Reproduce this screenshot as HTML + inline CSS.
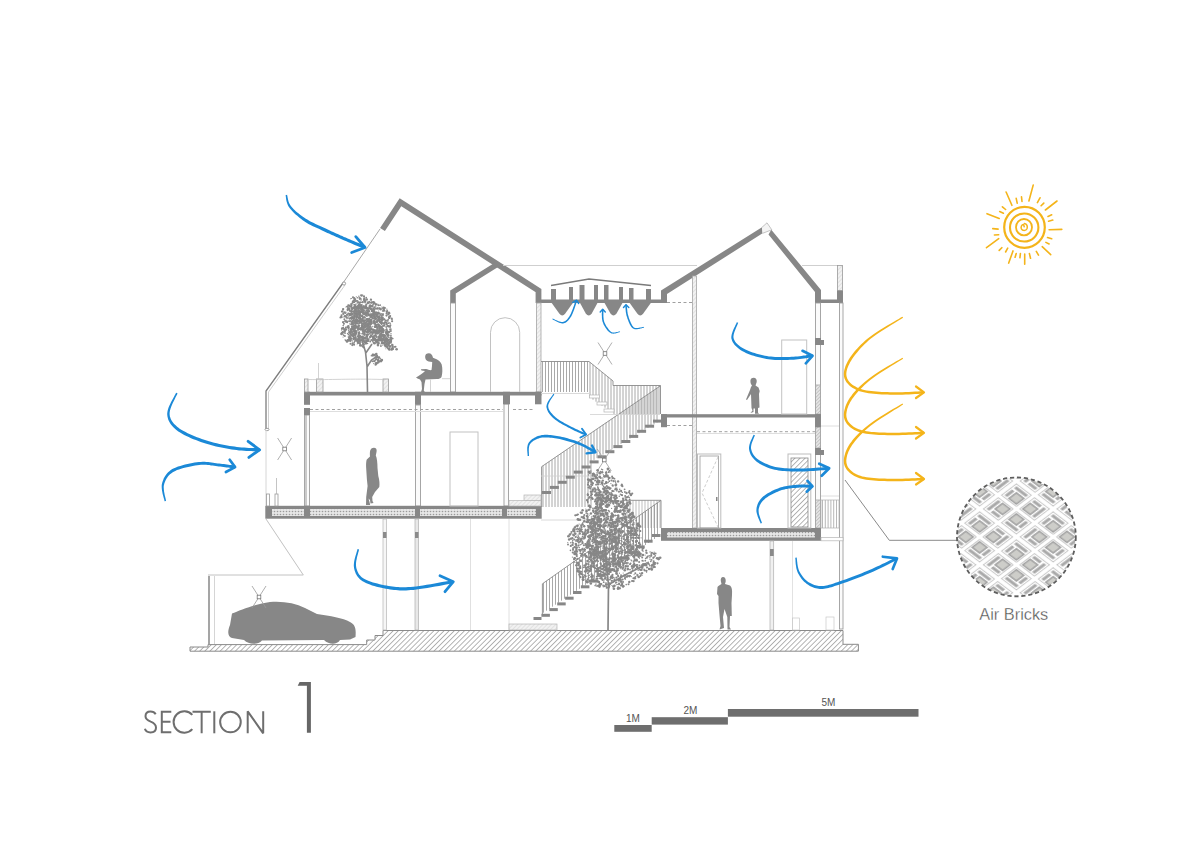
<!DOCTYPE html>
<html><head><meta charset="utf-8">
<style>
html,body{margin:0;padding:0;background:#fff;width:1200px;height:848px;overflow:hidden}
svg{display:block}
</style></head>
<body>
<svg width="1200" height="848" viewBox="0 0 1200 848">
<defs>
<pattern id="hatch" width="3.6" height="3.6" patternUnits="userSpaceOnUse" patternTransform="rotate(45)">
<rect width="3.6" height="3.6" fill="#fff"/><line x1="0" y1="0" x2="0" y2="3.6" stroke="#7e7e7e" stroke-width="1.15"/>
</pattern>
<pattern id="dots" width="3" height="3" patternUnits="userSpaceOnUse">
<rect width="3" height="3" fill="#e6e6e6"/><circle cx="1.5" cy="1.5" r="0.8" fill="#9a9a9a"/>
</pattern>
<pattern id="lhatch" width="3" height="3" patternUnits="userSpaceOnUse" patternTransform="rotate(45)">
<rect width="3" height="3" fill="#f2f2f2"/><line x1="0" y1="0" x2="0" y2="3" stroke="#c8c8c8" stroke-width="0.8"/>
</pattern>
<pattern id="mhatch" width="2.5" height="2.5" patternUnits="userSpaceOnUse" patternTransform="rotate(45)"><rect width="2.5" height="2.5" fill="#e4e4e4"/><line x1="0" y1="0" x2="0" y2="2.5" stroke="#9a9a9a" stroke-width="0.8"/></pattern>
</defs>

<!-- ROOFS -->
<g fill="none" stroke="#878787" stroke-linejoin="miter" stroke-miterlimit="10">
<polyline points="382.5,229.5 400.5,202.2 538.5,290.5 538.5,303" stroke-width="5.8"/>
<polyline points="453,303 453,292 497,264.5" stroke-width="5.6"/>
</g>
<g fill="#878787">
<rect x="538" y="299.5" width="129" height="3.5"/>
<polygon points="661,290.5 762,227.3 762.6,233.3 667,294 667,303 661,303"/>
<polygon points="771.3,229.7 821,290 821,303 815,303 815,291.9 768.5,234.6"/>
<rect x="815" y="299.5" width="28" height="3.5"/>
<rect x="837" y="290" width="6" height="13"/>
</g>
<rect x="837.5" y="265.5" width="5" height="25" fill="url(#lhatch)" stroke="#999" stroke-width="0.8"/>

<polyline points="762,227.3 767,222.8 771.8,229.8 762.6,233.3" fill="#f4f4f4" stroke="#aaa" stroke-width="0.7"/>
<!-- light reference lines -->
<g stroke="#cfcfcf" stroke-width="1" fill="none">
<line x1="503" y1="265.5" x2="697" y2="265.5"/>
<line x1="802" y1="265.5" x2="837" y2="265.5"/>
</g>


<!-- SKYLIGHT FUNNELS -->
<g fill="#878787">
<path d="M551,302 L559.25,313.5 Q562.25,317.5 565.25,313.5 L573.5,302 Z"/>
<path d="M579.5,302 L585.75,313.5 Q588.75,317.5 591.75,313.5 L598,302 Z"/>
<path d="M604,302 L610.5,313.5 Q613.5,317.5 616.5,313.5 L623,302 Z"/>
<path d="M629,302 L637.25,313.5 Q640.25,317.5 643.25,313.5 L651.5,302 Z"/>
<rect x="551" y="289" width="5" height="13"/>
<rect x="569" y="287" width="4" height="15"/>
<rect x="579.5" y="285" width="5" height="17"/>
<rect x="594" y="285" width="4" height="17"/>
<rect x="604" y="285" width="4.5" height="17"/>
<rect x="619" y="287" width="4" height="15"/>
<rect x="629" y="288" width="4.5" height="14"/>
<rect x="646" y="289" width="5" height="13"/>
</g>
<polyline points="551,285.5 589,279 651,285.5" fill="none" stroke="#7a7a7a" stroke-width="1.3"/>

<!-- WALLS (light double lines) -->
<g fill="#fbfbfb" stroke="#9d9d9d" stroke-width="0.9">
<rect x="450.5" y="303" width="5" height="89"/>
<rect x="304.5" y="415" width="5" height="91"/>
<rect x="415.5" y="405" width="5" height="101"/>
<rect x="504" y="404" width="4.5" height="102"/>
<rect x="815.5" y="303" width="5" height="111"/>
<rect x="815.5" y="427" width="5" height="101"/>
<rect x="839.5" y="303" width="3.5" height="326"/>
</g>
<g fill="url(#lhatch)" stroke="#a5a5a5" stroke-width="0.8">
<rect x="536.5" y="303" width="4.5" height="89"/>
<rect x="692.5" y="276" width="4" height="252"/>
<rect x="815.5" y="385" width="5" height="29" fill="url(#mhatch)"/>
<rect x="815.5" y="427" width="5" height="21" fill="url(#mhatch)"/>
<rect x="815.5" y="500" width="5" height="28" fill="url(#mhatch)"/>
</g>

<!-- SLABS -->
<g fill="#878787">
<rect x="304" y="391.8" width="237.5" height="3.7"/>
<rect x="304" y="391.8" width="6" height="13"/>
<rect x="304" y="408" width="6" height="7"/>
<rect x="415" y="391.8" width="6" height="13"/>
<rect x="503" y="391.8" width="7" height="12.5"/>
<rect x="535" y="391.8" width="6.5" height="12.5"/>
<rect x="265.3" y="505.8" width="276.4" height="12.9"/>
<rect x="661" y="414.2" width="160" height="3.3"/>
<rect x="661" y="414.2" width="6" height="13"/>
<rect x="815" y="414.2" width="6" height="13"/>
<rect x="661" y="528" width="160" height="12.8"/>
<rect x="815" y="338" width="6" height="7"/>
<rect x="821" y="340" width="3" height="5"/>
<rect x="815" y="448" width="6" height="7"/>
<rect x="821" y="450" width="3" height="5"/>
</g>
<g fill="url(#dots)">
<rect x="272" y="509" width="32" height="7"/>
<rect x="310" y="509" width="105" height="7"/>
<rect x="420" y="509" width="82" height="7"/>
<rect x="507" y="509" width="29" height="7"/>
<rect x="667" y="532" width="148" height="5.5"/>
</g>
<g stroke="#a0a0a0" stroke-width="1" stroke-dasharray="3,2.5" fill="none">
<line x1="310" y1="409.5" x2="503" y2="409.5"/>
<line x1="513" y1="409.5" x2="535" y2="409.5"/>
<line x1="667" y1="302.5" x2="692" y2="302.5"/>
<line x1="667" y1="425.5" x2="692" y2="425.5"/>
<line x1="697" y1="431.7" x2="815" y2="431.7"/>
</g>
<g stroke="#dedede" stroke-width="1" fill="none">
<line x1="310" y1="411.5" x2="503" y2="411.5"/>
<line x1="697" y1="433.5" x2="815" y2="433.5"/>
</g>

<!-- GROUND -->
<path d="M383,630.5 L843,630.5 L843,644.3 L858.4,644.3 L858.4,651.2 L190,651.2 L190,647 L208,647 L208,644.6 L366.7,644.6 L366.7,640 L375,640 L375,635.5 L383,635.5 Z" fill="url(#hatch)" stroke="#8a8a8a" stroke-width="1"/>



<!-- GLASS / ENVELOPE LINES -->
<g fill="none">
<line x1="380" y1="229" x2="343" y2="283" stroke="#a8a8a8" stroke-width="1"/>
<polyline points="343,283 266,391 266,429" stroke="#7d7d7d" stroke-width="1.3"/>
<polyline points="345,285 268.5,392 268.5,429" stroke="#c4c4c4" stroke-width="0.8"/>
<circle cx="344" cy="283.5" r="1.6" stroke="#888" stroke-width="0.8" fill="#fff"/>
<ellipse cx="267" cy="429.5" rx="2" ry="1.2" stroke="#888" stroke-width="0.8" fill="#fff"/>
<line x1="266" y1="430" x2="266" y2="506" stroke="#d6d6d6" stroke-width="1"/>
<polyline points="266,519 303.3,575 208,575" stroke="#c2c2c2" stroke-width="1"/>
<line x1="209" y1="576" x2="209" y2="644" stroke="#8f8f8f" stroke-width="1.6"/>
<line x1="214.5" y1="576" x2="214.5" y2="644" stroke="#d5d5d5" stroke-width="1"/>
<!-- columns under first floor -->
<rect x="383" y="519" width="3.5" height="111" fill="#f6f6f6" stroke="#b5b5b5" stroke-width="0.7"/>
<rect x="415" y="519" width="3.5" height="111" fill="#e8e8e8" stroke="#b0b0b0" stroke-width="0.7"/>
<rect x="383" y="532" width="3.5" height="6" fill="#8a8a8a"/>
<rect x="415" y="532" width="3.5" height="6" fill="#8a8a8a"/>
<line x1="470.5" y1="519" x2="470.5" y2="630" stroke="#d8d8d8" stroke-width="0.8"/>
<line x1="509" y1="519" x2="509" y2="630" stroke="#d8d8d8" stroke-width="0.8"/>
<!-- column under right slab -->
<rect x="770" y="541" width="3.7" height="89" fill="#f0f0f0" stroke="#b0b0b0" stroke-width="0.7"/>
<rect x="770" y="549" width="3.7" height="7" fill="#8a8a8a"/>
<line x1="792.5" y1="541" x2="792.5" y2="630" stroke="#dadada" stroke-width="0.8"/>
<rect x="821" y="537.5" width="22" height="3.3" fill="#fff" stroke="#b5b5b5" stroke-width="0.7"/>

<rect x="792.5" y="618" width="7" height="12" fill="none" stroke="#c8c8c8" stroke-width="0.7"/>
<rect x="826" y="617" width="8" height="13" fill="none" stroke="#c8c8c8" stroke-width="0.7"/>
<!-- diagonal leader from right wall -->
<polyline points="845,480 889.3,540.3 957,540.3" stroke="#8a8a8a" stroke-width="1"/>
<!-- thin light lines right -->
<line x1="821" y1="426" x2="839" y2="426" stroke="#d5d5d5" stroke-width="0.8"/>
<line x1="821" y1="496" x2="839" y2="496" stroke="#d5d5d5" stroke-width="0.8"/>
<line x1="306" y1="415" x2="306" y2="506" stroke="#9a9a9a" stroke-width="1"/>
</g>

<path d="M822.5,500V528M825.3,500V528M828.1,500V528M830.9,500V528M833.7,500V528M836.5,500V528" stroke="#9a9a9a" stroke-width="0.7" fill="none"/>
<rect x="821" y="500" width="18" height="28" fill="none" stroke="#b0b0b0" stroke-width="0.7"/>
<g fill="#fff" stroke="#9a9a9a" stroke-width="0.8"><rect x="266.5" y="494" width="3" height="12"/><rect x="275" y="494" width="3" height="12"/></g><line x1="276.5" y1="478" x2="276.5" y2="494" stroke="#aaa" stroke-width="0.7"/>
<!-- ARCH & DOORS -->
<g fill="none" stroke="#c2c2c2" stroke-width="1">
<path d="M490.5,392 L490.5,332.3 A14.6,14.6 0 0 1 519.7,332.3 L519.7,392"/>
<rect x="450" y="432" width="28" height="74"/>
<rect x="781.7" y="340" width="25" height="74"/>
</g>
<!-- door left (lower right room) -->
<g fill="none">
<rect x="697.5" y="454" width="23.3" height="74" stroke="#bdbdbd" stroke-width="1"/>
<rect x="700" y="456" width="18.5" height="72" stroke="#9a9a9a" stroke-width="0.8"/>
<polyline points="718,457 702,493 718,527" stroke="#b8b8b8" stroke-width="0.7" stroke-dasharray="3,2"/>
<rect x="716" y="497" width="1.5" height="4" fill="#888"/>
<rect x="788" y="454" width="22.8" height="74" stroke="#bdbdbd" stroke-width="1"/>
<rect x="791" y="458" width="17" height="69" fill="url(#hatch)" stroke="#8a8a8a" stroke-width="0.8"/>
</g>

<!-- STAIRS -->
<path d="M627.0,500.3V528M630.0,500.3V528M633.0,500.3V528M636.0,500.3V528M639.0,500.3V528M642.0,500.3V528M645.0,500.3V528M648.0,500.3V528M651.0,500.3V528M654.0,500.3V528M657.0,500.3V528M660.0,500.3V528" stroke="#a5a5a5" stroke-width="0.7" fill="none"/>
<path d="M542.5,361.5V392M545.5,361.5V392M548.5,361.5V392M551.5,361.5V392M554.5,361.5V392M557.5,361.5V392M560.5,361.5V392M563.5,361.5V392M566.5,361.5V392M569.5,361.5V392M572.5,361.5V392M575.5,361.5V392M578.5,361.5V392M581.5,361.5V392M584.5,361.5V392M587.5,361.5V392M590.0,362.3V397.7M593.0,364.8V399.7M596.0,367.2V401.7M599.0,369.6V403.7M602.0,372.1V405.7M605.0,374.5V407.7M608.0,376.9V409.7M611.0,379.4V411.7M614.0,385.5V414M617.0,385.5V414M620.0,385.5V414M623.0,385.5V414M626.0,385.5V414M629.0,385.5V414M632.0,385.5V414M635.0,385.5V414M638.0,385.5V414M641.0,385.5V414M644.0,385.5V414M647.0,385.5V414M650.0,385.5V414M653.0,385.5V414M656.0,385.5V414M659.0,385.5V414M543.0,465.7V507.0M546.0,463.7V507.0M549.0,461.7V507.0M552.0,459.6V507.0M555.0,457.6V507.0M558.0,455.5V507.0M561.0,453.5V507.0M564.0,451.4V507.0M567.0,449.4V507.0M570.0,447.4V507.0M573.0,445.3V507.0M576.0,443.3V507.0M579.0,441.2V507.0M582.0,439.2V507.0M585.0,437.1V507.0M588.0,435.1V507.0M591.0,433.1V507.0M594.0,431.0V459.9M597.0,429.0V458.1M600.0,426.9V456.4M603.0,424.9V454.6M606.0,422.8V452.8M609.0,420.8V451.0M612.0,418.8V449.3M615.0,416.7V447.5M618.0,414.7V445.7M621.0,412.6V443.9M624.0,410.6V442.1M627.0,408.5V440.4M630.0,406.5V438.6M633.0,404.5V436.8M636.0,402.4V435.0M639.0,400.4V433.2M642.0,398.3V431.5M645.0,396.3V429.7M648.0,394.2V427.9M651.0,392.2V426.1M654.0,390.2V424.3M657.0,388.1V422.6M543.5,583.0V612.7M546.5,580.9V610.7M549.5,578.8V608.7M552.5,576.7V606.7M555.5,574.6V604.7M558.5,572.5V602.7M561.5,570.4V600.7M564.5,568.2V598.7M567.5,566.1V596.7M570.5,564.0V594.7M573.5,561.9V592.8M576.5,559.8V590.8M579.5,557.7V588.8M582.5,555.6V586.8M585.5,553.5V584.8M588.5,551.3V582.8M591.5,549.2V580.8M594.5,547.1V578.8M597.5,545.0V576.8M600.5,542.9V574.8M603.5,540.8V572.8M606.5,538.7V570.8M609.5,536.6V568.9M612.5,534.4V566.9M615.5,532.3V564.9M618.5,530.2V562.9M621.5,528.1V560.9M624.5,526.0V558.9M627.5,523.9V556.9M630.5,521.8V554.9M633.5,519.7V552.9M636.5,517.5V550.9M639.5,515.4V548.9M642.5,513.3V546.9M645.5,511.2V545.0M648.5,509.1V543.0M651.5,507.0V541.0M654.5,504.9V539.0M657.5,502.8V537.0" stroke="#8c8c8c" stroke-width="0.75" fill="none"/>
<g stroke="#8a8a8a" stroke-width="0.9" fill="none"><polyline points="541,361.5 589,361.5 613,381 613,385.5 660.5,385.5"/><polyline points="660.4,385.8 541.6,466.7 541.6,507"/><polyline points="626,500.3 661,500.3 542.4,583.8 542.4,614"/><line x1="660.5" y1="385.5" x2="660.5" y2="414"/><line x1="661" y1="500.3" x2="661" y2="528"/></g>
<g stroke="#d0d0d0" stroke-width="0.8" fill="none"><line x1="541" y1="393.5" x2="589" y2="393.5"/><line x1="590" y1="414.5" x2="660" y2="414.5"/><line x1="541" y1="476" x2="590" y2="476"/><line x1="541" y1="520" x2="600" y2="520"/></g>
<g fill="#878787"><rect x="653.0" y="419.6" width="9" height="3" /><rect x="645.1" y="424.7" width="9" height="3" /><rect x="637.1" y="429.8" width="9" height="3" /><rect x="629.2" y="434.9" width="9" height="3" /><rect x="621.3" y="440.0" width="9" height="3" /><rect x="613.4" y="445.1" width="9" height="3" /><rect x="605.4" y="450.2" width="9" height="3" /><rect x="597.5" y="455.3" width="9" height="3" /><rect x="589.6" y="460.4" width="9" height="3" /><rect x="581.6" y="465.5" width="9" height="3" /><rect x="573.7" y="470.6" width="9" height="3" /><rect x="565.8" y="475.7" width="9" height="3" /><rect x="557.8" y="480.8" width="9" height="3" /><rect x="549.9" y="485.9" width="9" height="3" /><rect x="542.0" y="491.0" width="9" height="3" /><rect x="652.0" y="534.0" width="8.5" height="3" /><rect x="644.1" y="539.7" width="8.5" height="3" /><rect x="636.2" y="545.4" width="8.5" height="3" /><rect x="628.3" y="551.1" width="8.5" height="3" /><rect x="620.4" y="556.8" width="8.5" height="3" /><rect x="612.5" y="562.5" width="8.5" height="3" /><rect x="604.6" y="568.2" width="8.5" height="3" /><rect x="596.7" y="573.9" width="8.5" height="3" /><rect x="588.8" y="579.6" width="8.5" height="3" /><rect x="580.9" y="585.3" width="8.5" height="3" /><rect x="573.0" y="591.0" width="8.5" height="3" /><rect x="565.1" y="596.7" width="8.5" height="3" /><rect x="557.2" y="602.4" width="8.5" height="3" /><rect x="549.3" y="608.1" width="8.5" height="3" /><rect x="541.4" y="613.8" width="8.5" height="3" /><rect x="533.5" y="617" width="8" height="3"/></g>
<g fill="#fff" stroke="#b5b5b5" stroke-width="0.7"><rect x="589.5" y="395" width="10" height="3"/><rect x="597" y="402" width="10" height="3"/><rect x="604" y="409" width="10" height="3"/><rect x="509" y="500.5" width="32" height="5.5" fill="url(#lhatch)"/><rect x="524" y="495" width="17" height="5.5" fill="url(#lhatch)"/><rect x="509" y="624" width="48" height="6" fill="url(#lhatch)"/></g>

<!-- PEOPLE & CAR -->
<g fill="#878787">
<path d="M373.9,447.8 C376,447.8 377,449.5 376.6,451.6 L375.8,455.5 C377,458 377.5,463 377.5,468 L378.3,476 C379.5,480 379.8,484 379.3,487 L375,492 L372.2,497 L372.5,501 L373.5,503 L370.5,503.5 L370,500 L368.5,498.5 L369.5,502 L370.2,505 L366,505 L366.2,497 L367.6,486 L366.9,479.6 L366.1,467 C366,463 366.3,460.5 366.8,459.5 L370,456.5 C369.8,454.5 369.8,452 370.2,450.5 C371,448.5 372.3,447.8 373.9,447.8 Z"/>
<path d="M723,577 C725,577 726,579 725.7,581.5 L725,584 L730,585.5 C732,587 732.3,590 732,595 L731.5,603 L731.8,616 L730,616 L729.5,627 L731,629.5 L727.5,629.5 L727.3,617 L724.5,609 L723,617 L724,628 L719.5,629.5 L720.5,626 L719.5,615 L718.5,603 L718.5,596 L717,594 L717.5,587 C718,586 720,585 721.5,584 L720.8,581 C720.5,578.5 721.5,577 723,577 Z"/>
<path d="M753.5,377.7 C756,377.7 757,379.5 756.7,382 L755.5,385.5 L758.5,387.5 L759.7,391 L759,394 L759.5,407.5 L758,408 L758,412.5 L759,413.8 L755,413.8 L755,408.5 L753.5,408.5 L753.5,412 L750.5,413 L752.5,410.5 L751.5,408 L751,394 L747,400 L746,399.5 L750,390 L751,387 L752,385.5 C750.5,384 750.3,382 750.5,380 C751,378.5 752,377.7 753.5,377.7 Z"/>
<path d="M428.8,353.3 C431.2,353.3 432.3,355 433,357.8 C436,358.8 440,360.5 441.7,364.5 C442.7,368.5 442.5,374 441.5,377 C440.5,378.5 439,379 437,379 L425.5,379.5 L424.5,384 L423.8,390.5 L424.8,392 L421,392 L422,389 L421.5,382 L420,379.5 L417.5,378.5 L416,377.5 L418.5,376 C421,374.5 423.5,372.5 425,371 L421.5,370.5 L420.8,369.3 L426,369 C428,369.5 430,370.5 431.5,370 L432,366 L432.2,362 C430,361.8 427,361.5 425.8,359.5 C424.8,357.5 425,355 426.2,354 C427,353.5 427.8,353.3 428.8,353.3 Z"/>
<path d="M230,625 L232,613.5 C240,610 255,604 270,602 C283,601 295,603 305,608 L317,614 C330,616 343,618 350,622 C356,625 356,630 355.5,637 L350,639.5 L340,640 C337,645 329,645 324,640 L262,640.5 C258,645 249,645 244,640 L232,638 C228,637 227,632 230,625 Z"/>
</g>
<!-- FANS -->
<g stroke="#9a9a9a" stroke-width="0.8" fill="none">
<g transform="translate(284.6,449)"><line x1="-7" y1="-11" x2="7" y2="11"/><line x1="7" y1="-11" x2="-7" y2="11"/><rect x="-1.8" y="-1.8" width="3.6" height="3.6" fill="#fff" stroke="#777"/></g>
<g transform="translate(605,353.5)"><line x1="-7" y1="-11" x2="7" y2="11"/><line x1="7" y1="-11" x2="-7" y2="11"/><rect x="-1.8" y="-1.8" width="3.6" height="3.6" fill="#fff" stroke="#777"/></g>
<g transform="translate(604.3,460)"><line x1="-7" y1="-11" x2="7" y2="11"/><line x1="7" y1="-11" x2="-7" y2="11"/><rect x="-1.8" y="-1.8" width="3.6" height="3.6" fill="#fff" stroke="#777"/></g>
<g transform="translate(259,597)"><line x1="-7" y1="-11" x2="7" y2="11"/><line x1="7" y1="-11" x2="-7" y2="11"/><rect x="-1.8" y="-1.8" width="3.6" height="3.6" fill="#fff" stroke="#777"/></g>
</g>
<!-- roof terrace planters -->
<g fill="url(#lhatch)" stroke="#9a9a9a" stroke-width="0.8">
<rect x="304.5" y="379" width="3.5" height="13"/>
<rect x="316.5" y="379" width="6.5" height="13"/>
<rect x="383" y="379" width="5.5" height="13"/>
</g>
<g stroke="#c8c8c8" stroke-width="0.8" fill="none">
<path d="M308,379.5 C330,380 350,378.5 383,379.5"/>
<line x1="318.5" y1="363" x2="318.5" y2="379"/>
<polyline points="442,378.7 450,378.7"/><line x1="430.5" y1="379.5" x2="430.5" y2="392"/>
</g>

<!-- TREES -->
<path d="M367.5,392 L367,366 L365.5,352 L362,340 M367,367 L371.5,360 L377.5,356 M365.8,353 L372,344 M364,348 L354,338" stroke="#878787" stroke-width="1.6" fill="none"/>
<g fill="#878787"><circle cx="359.2" cy="302.5" r="1.1"/><circle cx="343.9" cy="324.0" r="0.8"/><circle cx="343.0" cy="322.4" r="0.5"/><circle cx="365.9" cy="298.0" r="0.6"/><circle cx="365.4" cy="340.2" r="0.6"/><circle cx="353.1" cy="329.1" r="1.3"/><circle cx="374.6" cy="316.2" r="1.3"/><circle cx="357.1" cy="302.1" r="0.6"/><circle cx="358.3" cy="339.6" r="0.7"/><circle cx="374.9" cy="329.8" r="0.8"/><circle cx="380.9" cy="318.0" r="0.8"/><circle cx="375.2" cy="319.4" r="0.8"/><circle cx="387.9" cy="333.1" r="0.7"/><circle cx="374.5" cy="323.4" r="1.2"/><circle cx="383.9" cy="310.2" r="1.3"/><circle cx="346.7" cy="317.4" r="1.1"/><circle cx="348.8" cy="321.4" r="0.5"/><circle cx="380.2" cy="336.8" r="1.0"/><circle cx="381.8" cy="327.3" r="1.0"/><circle cx="367.3" cy="341.0" r="1.3"/><circle cx="368.4" cy="331.2" r="0.6"/><circle cx="382.2" cy="330.2" r="1.3"/><circle cx="363.0" cy="331.4" r="0.5"/><circle cx="367.6" cy="303.5" r="0.6"/><circle cx="343.1" cy="337.0" r="0.6"/><circle cx="354.6" cy="315.9" r="1.2"/><circle cx="344.4" cy="319.2" r="1.0"/><circle cx="364.8" cy="314.1" r="1.3"/><circle cx="350.2" cy="307.0" r="0.7"/><circle cx="369.0" cy="327.0" r="0.7"/><circle cx="362.0" cy="325.7" r="1.3"/><circle cx="381.6" cy="322.9" r="1.0"/><circle cx="392.8" cy="338.6" r="0.8"/><circle cx="363.8" cy="299.9" r="1.0"/><circle cx="352.2" cy="303.2" r="0.8"/><circle cx="361.6" cy="295.5" r="1.2"/><circle cx="354.9" cy="313.5" r="0.8"/><circle cx="347.0" cy="341.5" r="1.3"/><circle cx="367.9" cy="321.1" r="0.6"/><circle cx="345.7" cy="313.2" r="0.7"/><circle cx="371.7" cy="302.3" r="1.0"/><circle cx="381.9" cy="308.7" r="0.8"/><circle cx="349.7" cy="337.2" r="1.0"/><circle cx="386.9" cy="312.5" r="0.7"/><circle cx="388.9" cy="349.1" r="1.2"/><circle cx="388.6" cy="339.8" r="1.1"/><circle cx="353.3" cy="323.0" r="0.8"/><circle cx="356.5" cy="308.6" r="1.1"/><circle cx="396.6" cy="349.2" r="1.3"/><circle cx="361.7" cy="306.4" r="0.7"/><circle cx="351.5" cy="305.5" r="1.0"/><circle cx="368.7" cy="330.5" r="1.2"/><circle cx="344.7" cy="331.0" r="1.3"/><circle cx="387.1" cy="336.0" r="0.9"/><circle cx="350.4" cy="338.1" r="0.8"/><circle cx="388.3" cy="348.3" r="0.8"/><circle cx="348.4" cy="340.2" r="1.3"/><circle cx="379.5" cy="313.7" r="1.0"/><circle cx="365.9" cy="342.7" r="1.2"/><circle cx="352.4" cy="308.2" r="0.7"/><circle cx="354.1" cy="326.8" r="0.7"/><circle cx="365.0" cy="301.4" r="1.3"/><circle cx="361.0" cy="319.7" r="1.0"/><circle cx="371.9" cy="323.3" r="0.5"/><circle cx="366.3" cy="304.3" r="0.5"/><circle cx="368.3" cy="334.6" r="1.0"/><circle cx="359.4" cy="323.0" r="1.0"/><circle cx="373.6" cy="308.0" r="0.7"/><circle cx="386.5" cy="322.4" r="1.0"/><circle cx="385.8" cy="345.0" r="0.9"/><circle cx="376.8" cy="322.3" r="0.9"/><circle cx="381.7" cy="319.3" r="1.0"/><circle cx="382.1" cy="343.0" r="1.3"/><circle cx="355.3" cy="325.3" r="1.3"/><circle cx="346.9" cy="318.8" r="0.6"/><circle cx="354.2" cy="298.2" r="1.1"/><circle cx="387.2" cy="344.2" r="0.6"/><circle cx="383.1" cy="330.9" r="0.6"/><circle cx="393.3" cy="348.1" r="0.7"/><circle cx="365.8" cy="322.9" r="0.8"/><circle cx="351.4" cy="311.9" r="1.1"/><circle cx="359.7" cy="328.9" r="0.9"/><circle cx="387.5" cy="348.3" r="0.6"/><circle cx="386.9" cy="309.2" r="0.6"/><circle cx="374.2" cy="333.2" r="0.6"/><circle cx="343.0" cy="332.5" r="0.9"/><circle cx="378.1" cy="338.8" r="0.6"/><circle cx="392.0" cy="319.4" r="0.8"/><circle cx="355.8" cy="301.3" r="0.9"/><circle cx="354.0" cy="300.2" r="0.6"/><circle cx="358.5" cy="311.1" r="1.1"/><circle cx="357.2" cy="322.0" r="0.7"/><circle cx="360.6" cy="295.1" r="0.7"/><circle cx="373.1" cy="304.7" r="0.9"/><circle cx="389.4" cy="318.2" r="0.9"/><circle cx="390.3" cy="316.0" r="0.9"/><circle cx="360.4" cy="340.5" r="1.1"/><circle cx="378.2" cy="316.7" r="0.8"/><circle cx="343.8" cy="335.4" r="0.7"/><circle cx="390.7" cy="342.7" r="1.1"/><circle cx="356.7" cy="307.6" r="0.7"/><circle cx="367.5" cy="302.9" r="0.9"/><circle cx="358.4" cy="314.0" r="0.5"/><circle cx="362.7" cy="320.6" r="0.9"/><circle cx="351.7" cy="322.3" r="0.5"/><circle cx="355.6" cy="299.1" r="0.8"/><circle cx="358.0" cy="307.1" r="1.0"/><circle cx="371.7" cy="336.0" r="1.1"/><circle cx="383.1" cy="343.2" r="0.8"/><circle cx="348.6" cy="334.5" r="1.0"/><circle cx="384.2" cy="339.4" r="0.6"/><circle cx="371.4" cy="322.2" r="1.2"/><circle cx="388.5" cy="340.2" r="1.0"/><circle cx="381.7" cy="306.9" r="0.5"/><circle cx="347.6" cy="314.2" r="0.6"/><circle cx="390.4" cy="325.3" r="1.0"/><circle cx="377.6" cy="332.1" r="0.9"/><circle cx="385.1" cy="322.2" r="1.0"/><circle cx="384.4" cy="308.2" r="0.6"/><circle cx="355.7" cy="334.8" r="0.7"/><circle cx="369.6" cy="315.4" r="0.9"/><circle cx="381.1" cy="336.9" r="1.0"/><circle cx="348.5" cy="308.3" r="1.1"/><circle cx="358.0" cy="325.8" r="0.5"/><circle cx="343.2" cy="309.1" r="1.1"/><circle cx="381.7" cy="331.8" r="0.7"/><circle cx="371.0" cy="320.0" r="0.9"/><circle cx="367.5" cy="339.9" r="1.3"/><circle cx="366.9" cy="309.1" r="0.7"/><circle cx="347.6" cy="339.9" r="0.9"/><circle cx="353.6" cy="344.2" r="0.9"/><circle cx="369.4" cy="319.3" r="0.8"/><circle cx="348.1" cy="313.3" r="0.8"/><circle cx="385.2" cy="340.9" r="0.6"/><circle cx="362.2" cy="316.0" r="1.3"/><circle cx="375.4" cy="314.2" r="0.9"/><circle cx="356.3" cy="296.8" r="0.6"/><circle cx="355.7" cy="322.6" r="0.7"/><circle cx="377.9" cy="345.1" r="1.3"/><circle cx="372.9" cy="334.3" r="0.5"/><circle cx="384.1" cy="319.3" r="1.1"/><circle cx="378.7" cy="310.1" r="0.5"/><circle cx="368.3" cy="313.3" r="0.8"/><circle cx="355.3" cy="330.7" r="0.8"/><circle cx="373.4" cy="316.1" r="0.6"/><circle cx="349.3" cy="305.7" r="1.3"/><circle cx="369.8" cy="306.4" r="1.3"/><circle cx="345.0" cy="313.2" r="0.6"/><circle cx="354.1" cy="308.5" r="1.0"/><circle cx="364.6" cy="317.2" r="0.9"/><circle cx="362.5" cy="313.0" r="0.6"/><circle cx="347.2" cy="322.2" r="1.0"/><circle cx="356.0" cy="308.0" r="0.8"/><circle cx="391.2" cy="342.8" r="0.5"/><circle cx="341.5" cy="333.7" r="1.3"/><circle cx="368.3" cy="326.9" r="0.5"/><circle cx="389.8" cy="341.8" r="1.3"/><circle cx="354.6" cy="300.2" r="0.6"/><circle cx="371.3" cy="332.2" r="1.3"/><circle cx="383.5" cy="330.2" r="1.2"/><circle cx="367.4" cy="324.9" r="0.5"/><circle cx="358.0" cy="301.2" r="0.7"/><circle cx="378.3" cy="333.1" r="0.6"/><circle cx="343.8" cy="323.4" r="1.0"/><circle cx="363.1" cy="306.6" r="1.0"/><circle cx="378.8" cy="343.4" r="0.9"/><circle cx="353.8" cy="307.9" r="1.3"/><circle cx="382.4" cy="311.3" r="0.5"/><circle cx="369.8" cy="331.7" r="0.9"/><circle cx="355.2" cy="331.3" r="1.3"/><circle cx="360.1" cy="317.6" r="1.1"/><circle cx="351.6" cy="338.6" r="1.1"/><circle cx="370.2" cy="305.6" r="1.3"/><circle cx="358.5" cy="339.9" r="0.7"/><circle cx="353.0" cy="336.5" r="0.8"/><circle cx="350.9" cy="306.6" r="0.9"/><circle cx="348.4" cy="316.1" r="0.7"/><circle cx="363.5" cy="344.2" r="1.3"/><circle cx="380.0" cy="315.2" r="0.8"/><circle cx="359.7" cy="303.5" r="0.5"/><circle cx="356.5" cy="313.7" r="1.3"/><circle cx="352.1" cy="314.0" r="1.2"/><circle cx="389.6" cy="318.2" r="0.5"/><circle cx="368.3" cy="314.9" r="1.3"/><circle cx="351.3" cy="314.4" r="1.3"/><circle cx="341.3" cy="317.0" r="1.2"/><circle cx="385.0" cy="344.2" r="0.8"/><circle cx="377.1" cy="308.7" r="1.1"/><circle cx="358.8" cy="309.5" r="0.5"/><circle cx="385.5" cy="345.2" r="1.0"/><circle cx="353.7" cy="320.6" r="1.3"/><circle cx="354.8" cy="318.1" r="0.9"/><circle cx="388.4" cy="335.3" r="1.2"/><circle cx="386.6" cy="328.0" r="0.8"/><circle cx="359.0" cy="314.3" r="1.2"/><circle cx="385.4" cy="307.9" r="0.6"/><circle cx="393.3" cy="349.2" r="0.7"/><circle cx="369.9" cy="333.7" r="0.9"/><circle cx="353.8" cy="317.4" r="1.0"/><circle cx="380.6" cy="335.8" r="1.2"/><circle cx="374.0" cy="314.9" r="1.1"/><circle cx="351.6" cy="307.9" r="0.7"/><circle cx="374.7" cy="312.3" r="0.8"/><circle cx="353.6" cy="339.2" r="1.1"/><circle cx="368.4" cy="339.8" r="1.2"/><circle cx="357.4" cy="300.8" r="0.7"/><circle cx="355.3" cy="337.5" r="1.3"/><circle cx="345.9" cy="327.4" r="1.0"/><circle cx="352.8" cy="314.7" r="0.6"/><circle cx="351.9" cy="308.3" r="1.0"/><circle cx="379.2" cy="305.5" r="0.5"/><circle cx="359.4" cy="332.0" r="0.7"/><circle cx="358.5" cy="305.5" r="1.2"/><circle cx="345.7" cy="316.2" r="1.0"/><circle cx="349.5" cy="332.9" r="0.8"/><circle cx="356.8" cy="311.3" r="1.3"/><circle cx="358.5" cy="325.7" r="0.8"/><circle cx="364.9" cy="342.3" r="1.3"/><circle cx="361.7" cy="305.1" r="1.1"/><circle cx="389.5" cy="316.8" r="1.3"/><circle cx="367.6" cy="303.2" r="0.5"/><circle cx="373.1" cy="329.8" r="1.3"/><circle cx="344.9" cy="328.8" r="0.8"/><circle cx="370.2" cy="302.2" r="0.7"/><circle cx="346.1" cy="321.5" r="1.2"/><circle cx="363.1" cy="344.6" r="1.0"/><circle cx="364.1" cy="341.3" r="1.2"/><circle cx="350.6" cy="306.3" r="0.8"/><circle cx="371.0" cy="315.5" r="0.6"/><circle cx="354.5" cy="334.5" r="1.3"/><circle cx="376.0" cy="324.8" r="1.0"/><circle cx="358.1" cy="317.5" r="1.0"/><circle cx="365.4" cy="330.9" r="0.9"/><circle cx="377.2" cy="321.4" r="0.7"/><circle cx="386.0" cy="337.6" r="0.9"/><circle cx="350.4" cy="320.5" r="0.6"/><circle cx="347.3" cy="318.1" r="0.6"/><circle cx="366.4" cy="322.6" r="0.5"/><circle cx="384.2" cy="337.5" r="0.9"/><circle cx="342.8" cy="322.2" r="0.8"/><circle cx="391.7" cy="349.7" r="1.1"/><circle cx="349.6" cy="338.1" r="1.3"/><circle cx="343.5" cy="313.7" r="1.1"/><circle cx="356.2" cy="339.6" r="0.6"/><circle cx="352.2" cy="308.8" r="0.9"/><circle cx="358.9" cy="296.2" r="0.7"/><circle cx="380.9" cy="344.1" r="0.6"/><circle cx="371.8" cy="329.6" r="0.8"/><circle cx="374.8" cy="343.3" r="0.6"/><circle cx="363.5" cy="338.6" r="0.7"/><circle cx="361.4" cy="336.8" r="0.9"/><circle cx="350.3" cy="335.6" r="0.5"/><circle cx="375.2" cy="331.1" r="0.8"/><circle cx="348.6" cy="328.5" r="0.9"/><circle cx="347.5" cy="306.8" r="1.1"/><circle cx="361.1" cy="300.0" r="0.8"/><circle cx="353.2" cy="326.7" r="1.0"/><circle cx="351.9" cy="328.9" r="0.9"/><circle cx="354.3" cy="302.4" r="0.6"/><circle cx="378.4" cy="342.7" r="1.2"/><circle cx="364.0" cy="308.8" r="0.5"/><circle cx="378.8" cy="325.5" r="0.8"/><circle cx="378.8" cy="318.9" r="1.3"/><circle cx="384.2" cy="308.0" r="1.3"/><circle cx="364.2" cy="307.4" r="0.5"/><circle cx="348.2" cy="305.2" r="1.0"/><circle cx="370.4" cy="329.9" r="1.2"/><circle cx="350.1" cy="311.4" r="0.8"/><circle cx="387.2" cy="334.0" r="0.5"/><circle cx="390.9" cy="335.7" r="0.9"/><circle cx="384.7" cy="319.3" r="0.7"/><circle cx="345.9" cy="307.1" r="0.5"/><circle cx="359.9" cy="335.9" r="1.1"/><circle cx="391.0" cy="333.8" r="0.7"/><circle cx="373.2" cy="318.4" r="1.2"/><circle cx="371.4" cy="308.9" r="1.0"/><circle cx="355.4" cy="307.3" r="1.1"/><circle cx="359.4" cy="343.2" r="0.8"/><circle cx="354.1" cy="344.7" r="1.0"/><circle cx="381.7" cy="331.2" r="1.3"/><circle cx="368.1" cy="341.0" r="1.1"/><circle cx="391.7" cy="318.5" r="1.1"/><circle cx="374.2" cy="311.3" r="0.7"/><circle cx="342.0" cy="332.7" r="1.0"/><circle cx="381.9" cy="335.2" r="0.6"/><circle cx="375.5" cy="314.4" r="1.2"/><circle cx="389.4" cy="343.8" r="0.6"/><circle cx="392.3" cy="345.1" r="1.3"/><circle cx="391.1" cy="339.4" r="1.0"/><circle cx="389.7" cy="329.3" r="0.7"/><circle cx="358.9" cy="317.7" r="0.5"/><circle cx="355.1" cy="309.9" r="1.1"/><circle cx="361.9" cy="312.0" r="1.3"/><circle cx="370.2" cy="341.6" r="1.0"/><circle cx="341.4" cy="317.1" r="0.9"/><circle cx="386.6" cy="313.5" r="1.1"/><circle cx="372.3" cy="306.2" r="1.2"/><circle cx="345.0" cy="339.8" r="0.6"/><circle cx="385.9" cy="348.7" r="0.5"/><circle cx="369.4" cy="321.5" r="1.2"/><circle cx="350.7" cy="321.7" r="0.8"/><circle cx="352.6" cy="333.1" r="0.9"/><circle cx="346.2" cy="329.6" r="0.6"/><circle cx="387.5" cy="333.0" r="1.2"/><circle cx="377.7" cy="313.9" r="0.8"/><circle cx="363.5" cy="343.8" r="0.6"/><circle cx="352.1" cy="308.8" r="1.3"/><circle cx="370.0" cy="315.3" r="1.3"/><circle cx="353.7" cy="319.8" r="1.0"/><circle cx="385.4" cy="336.1" r="1.0"/><circle cx="360.7" cy="312.3" r="0.6"/><circle cx="390.8" cy="331.0" r="1.1"/><circle cx="349.8" cy="318.6" r="1.2"/><circle cx="367.6" cy="343.5" r="0.7"/><circle cx="351.2" cy="310.9" r="1.1"/><circle cx="349.0" cy="307.9" r="0.8"/><circle cx="371.3" cy="303.1" r="0.8"/><circle cx="387.9" cy="335.0" r="0.9"/><circle cx="351.4" cy="329.7" r="0.6"/><circle cx="352.1" cy="315.8" r="0.5"/><circle cx="363.8" cy="338.2" r="1.1"/><circle cx="370.0" cy="329.4" r="0.9"/><circle cx="348.1" cy="327.8" r="0.8"/><circle cx="384.6" cy="344.8" r="0.9"/><circle cx="374.5" cy="335.9" r="0.9"/><circle cx="353.4" cy="334.4" r="1.2"/><circle cx="386.6" cy="333.2" r="1.2"/><circle cx="380.9" cy="329.9" r="0.9"/><circle cx="358.6" cy="329.2" r="0.6"/><circle cx="365.1" cy="337.8" r="1.1"/><circle cx="377.8" cy="308.1" r="0.9"/><circle cx="367.2" cy="328.8" r="0.8"/><circle cx="380.6" cy="346.0" r="0.7"/><circle cx="379.4" cy="337.5" r="0.8"/><circle cx="349.3" cy="337.7" r="1.3"/><circle cx="371.1" cy="299.7" r="1.0"/><circle cx="372.4" cy="334.1" r="0.9"/><circle cx="378.4" cy="340.4" r="0.9"/><circle cx="352.3" cy="332.3" r="0.8"/><circle cx="342.9" cy="309.4" r="0.8"/><circle cx="340.3" cy="317.5" r="0.9"/><circle cx="382.0" cy="313.7" r="0.7"/><circle cx="353.2" cy="335.5" r="1.3"/><circle cx="371.6" cy="306.3" r="1.2"/><circle cx="363.4" cy="305.9" r="0.6"/><circle cx="386.8" cy="339.3" r="1.0"/><circle cx="368.1" cy="325.5" r="0.7"/><circle cx="378.4" cy="339.8" r="1.2"/><circle cx="368.0" cy="310.5" r="1.0"/><circle cx="347.1" cy="340.6" r="0.8"/><circle cx="362.4" cy="308.2" r="0.9"/><circle cx="383.5" cy="309.8" r="0.7"/><circle cx="357.9" cy="320.9" r="0.9"/><circle cx="378.3" cy="330.9" r="0.8"/><circle cx="348.1" cy="340.5" r="1.0"/><circle cx="354.7" cy="299.8" r="0.6"/><circle cx="353.7" cy="337.4" r="0.8"/><circle cx="387.1" cy="331.4" r="1.3"/><circle cx="387.5" cy="340.9" r="0.7"/><circle cx="381.7" cy="323.7" r="1.1"/><circle cx="366.2" cy="343.4" r="1.0"/><circle cx="355.6" cy="307.2" r="0.6"/><circle cx="367.9" cy="302.2" r="0.9"/><circle cx="369.8" cy="324.2" r="1.2"/><circle cx="368.0" cy="325.5" r="1.1"/><circle cx="344.1" cy="329.6" r="1.0"/><circle cx="381.1" cy="346.1" r="0.8"/><circle cx="341.6" cy="334.2" r="1.0"/><circle cx="360.1" cy="342.2" r="0.8"/><circle cx="368.4" cy="323.4" r="1.2"/><circle cx="352.3" cy="318.4" r="0.9"/><circle cx="373.2" cy="340.2" r="0.7"/><circle cx="389.9" cy="316.6" r="0.9"/><circle cx="356.0" cy="322.4" r="1.3"/><circle cx="379.4" cy="338.3" r="0.8"/><circle cx="358.8" cy="310.8" r="1.0"/><circle cx="378.2" cy="337.9" r="0.5"/><circle cx="383.5" cy="343.5" r="1.0"/><circle cx="342.5" cy="310.9" r="0.5"/><circle cx="376.6" cy="330.8" r="1.2"/><circle cx="377.1" cy="329.1" r="1.1"/><circle cx="375.8" cy="332.1" r="0.7"/><circle cx="380.1" cy="319.6" r="1.1"/><circle cx="362.0" cy="340.0" r="1.2"/><circle cx="373.7" cy="308.5" r="0.8"/><circle cx="365.2" cy="311.9" r="0.9"/><circle cx="388.8" cy="326.2" r="1.3"/><circle cx="363.1" cy="327.1" r="1.3"/><circle cx="364.6" cy="299.8" r="1.0"/><circle cx="352.4" cy="302.6" r="0.5"/><circle cx="383.3" cy="307.6" r="1.1"/><circle cx="386.6" cy="333.9" r="1.2"/><circle cx="377.8" cy="333.7" r="0.9"/><circle cx="379.1" cy="339.7" r="0.6"/><circle cx="358.4" cy="334.8" r="0.6"/><circle cx="391.9" cy="321.2" r="0.6"/><circle cx="361.9" cy="326.2" r="0.9"/><circle cx="388.1" cy="314.4" r="1.0"/><circle cx="377.8" cy="317.4" r="0.8"/><circle cx="387.4" cy="346.8" r="1.2"/><circle cx="374.0" cy="310.4" r="0.6"/><circle cx="390.1" cy="327.6" r="0.8"/><circle cx="365.6" cy="343.7" r="0.8"/><circle cx="381.2" cy="327.7" r="1.3"/><circle cx="365.2" cy="326.8" r="1.2"/><circle cx="390.2" cy="339.4" r="1.2"/><circle cx="374.3" cy="309.4" r="1.2"/><circle cx="388.6" cy="332.3" r="1.3"/><circle cx="360.6" cy="298.8" r="1.0"/><circle cx="385.2" cy="346.1" r="0.7"/><circle cx="376.5" cy="331.9" r="0.9"/><circle cx="352.1" cy="308.3" r="1.1"/><circle cx="387.7" cy="319.8" r="0.6"/><circle cx="388.6" cy="337.2" r="0.7"/><circle cx="368.5" cy="327.0" r="0.7"/><circle cx="351.2" cy="304.2" r="1.1"/><circle cx="361.6" cy="325.6" r="0.8"/><circle cx="371.0" cy="302.4" r="0.5"/><circle cx="346.0" cy="329.4" r="1.2"/><circle cx="349.0" cy="327.4" r="0.8"/><circle cx="392.2" cy="321.2" r="1.0"/><circle cx="355.4" cy="337.6" r="0.9"/><circle cx="389.4" cy="347.9" r="0.7"/><circle cx="350.5" cy="298.8" r="0.5"/><circle cx="373.4" cy="342.7" r="0.9"/><circle cx="343.4" cy="327.5" r="0.8"/><circle cx="355.2" cy="325.6" r="1.0"/><circle cx="363.4" cy="319.1" r="0.6"/><circle cx="355.1" cy="313.7" r="1.3"/><circle cx="382.7" cy="330.2" r="1.3"/><circle cx="385.5" cy="346.5" r="1.1"/><circle cx="357.7" cy="327.1" r="1.1"/><circle cx="345.9" cy="312.2" r="0.7"/><circle cx="347.1" cy="321.0" r="0.6"/><circle cx="354.0" cy="302.1" r="1.1"/><circle cx="366.7" cy="299.5" r="1.3"/><circle cx="390.8" cy="329.2" r="0.9"/><circle cx="360.2" cy="340.0" r="0.9"/><circle cx="353.0" cy="297.3" r="1.1"/><circle cx="373.2" cy="302.2" r="1.2"/><circle cx="355.7" cy="317.1" r="0.6"/><circle cx="356.0" cy="340.9" r="0.8"/><circle cx="349.7" cy="321.5" r="0.8"/><circle cx="352.4" cy="320.7" r="0.7"/><circle cx="355.2" cy="305.4" r="0.8"/><circle cx="357.1" cy="344.1" r="0.5"/><circle cx="383.7" cy="310.5" r="1.3"/><circle cx="360.3" cy="301.9" r="0.5"/><circle cx="390.2" cy="323.5" r="0.7"/><circle cx="352.8" cy="326.0" r="0.6"/><circle cx="350.5" cy="337.1" r="1.1"/><circle cx="351.5" cy="298.5" r="0.6"/><circle cx="376.6" cy="321.7" r="0.7"/><circle cx="352.0" cy="328.3" r="1.1"/><circle cx="388.9" cy="326.6" r="0.7"/><circle cx="343.5" cy="335.0" r="0.8"/><circle cx="388.9" cy="312.8" r="1.2"/><circle cx="392.1" cy="321.6" r="0.5"/><circle cx="350.8" cy="340.5" r="0.8"/><circle cx="349.5" cy="314.8" r="1.0"/><circle cx="366.6" cy="322.9" r="0.6"/><circle cx="383.0" cy="339.7" r="1.2"/><circle cx="359.0" cy="333.8" r="0.8"/><circle cx="392.7" cy="347.3" r="0.9"/><circle cx="370.8" cy="323.7" r="1.0"/><circle cx="353.1" cy="304.3" r="0.6"/><circle cx="354.8" cy="339.7" r="0.5"/><circle cx="345.4" cy="333.1" r="0.7"/><circle cx="374.6" cy="323.3" r="1.1"/><circle cx="347.0" cy="321.6" r="0.9"/><circle cx="356.5" cy="300.9" r="0.8"/><circle cx="347.8" cy="327.1" r="1.2"/><circle cx="348.5" cy="326.1" r="1.1"/><circle cx="349.5" cy="340.2" r="1.3"/><circle cx="363.2" cy="317.6" r="1.2"/><circle cx="371.5" cy="316.2" r="1.3"/><circle cx="386.8" cy="313.0" r="0.7"/><circle cx="359.9" cy="318.4" r="1.3"/><circle cx="388.5" cy="345.0" r="1.2"/><circle cx="365.2" cy="329.4" r="0.8"/><circle cx="365.9" cy="322.3" r="0.5"/><circle cx="386.8" cy="346.4" r="1.0"/><circle cx="388.8" cy="343.4" r="1.3"/><circle cx="341.6" cy="329.9" r="0.7"/><circle cx="380.8" cy="309.4" r="1.0"/><circle cx="354.8" cy="323.1" r="0.9"/><circle cx="358.1" cy="330.2" r="0.6"/><circle cx="370.8" cy="309.1" r="0.9"/><circle cx="372.0" cy="302.4" r="0.6"/><circle cx="347.5" cy="310.5" r="0.8"/><circle cx="357.1" cy="307.7" r="0.6"/><circle cx="372.8" cy="341.0" r="1.0"/><circle cx="374.2" cy="330.4" r="0.7"/><circle cx="382.8" cy="319.8" r="1.0"/><circle cx="376.8" cy="320.3" r="0.8"/><circle cx="354.3" cy="306.5" r="0.9"/><circle cx="362.8" cy="326.8" r="0.5"/><circle cx="361.0" cy="342.2" r="0.7"/><circle cx="373.4" cy="321.5" r="0.7"/><circle cx="366.3" cy="297.6" r="0.8"/><circle cx="366.3" cy="335.1" r="0.6"/><circle cx="360.0" cy="313.8" r="1.1"/><circle cx="377.0" cy="341.5" r="1.2"/><circle cx="371.0" cy="335.3" r="1.1"/><circle cx="385.8" cy="320.6" r="1.2"/><circle cx="382.7" cy="345.1" r="0.6"/><circle cx="386.1" cy="326.8" r="0.9"/><circle cx="365.0" cy="337.8" r="1.2"/><circle cx="376.5" cy="315.3" r="0.9"/><circle cx="367.4" cy="334.4" r="0.7"/><circle cx="363.3" cy="325.1" r="0.8"/><circle cx="359.1" cy="338.0" r="1.2"/><circle cx="369.9" cy="318.9" r="0.7"/><circle cx="358.0" cy="302.2" r="1.0"/><circle cx="390.9" cy="340.9" r="1.3"/><circle cx="351.9" cy="317.9" r="1.3"/><circle cx="373.9" cy="321.9" r="1.3"/><circle cx="386.6" cy="324.1" r="1.3"/><circle cx="371.0" cy="323.0" r="1.1"/><circle cx="363.2" cy="314.1" r="1.0"/><circle cx="380.7" cy="323.4" r="0.6"/><circle cx="362.3" cy="316.5" r="1.0"/><circle cx="374.5" cy="343.2" r="1.3"/><circle cx="369.1" cy="318.7" r="1.0"/><circle cx="371.8" cy="339.6" r="0.6"/><circle cx="389.8" cy="322.7" r="0.6"/><circle cx="389.5" cy="349.4" r="1.3"/><circle cx="365.1" cy="302.8" r="0.7"/><circle cx="370.7" cy="322.3" r="0.7"/><circle cx="350.6" cy="329.3" r="1.0"/><circle cx="364.6" cy="338.1" r="0.8"/><circle cx="358.0" cy="341.1" r="1.0"/><circle cx="380.2" cy="305.1" r="0.9"/><circle cx="373.2" cy="308.9" r="1.0"/><circle cx="374.5" cy="317.0" r="0.6"/><circle cx="349.0" cy="336.5" r="0.6"/><circle cx="371.3" cy="340.0" r="1.0"/><circle cx="359.2" cy="334.0" r="0.8"/><circle cx="349.8" cy="309.0" r="0.6"/><circle cx="360.7" cy="319.2" r="0.8"/><circle cx="366.3" cy="328.7" r="0.7"/><circle cx="358.0" cy="327.7" r="1.3"/><circle cx="354.3" cy="315.9" r="1.1"/><circle cx="353.0" cy="311.4" r="1.2"/><circle cx="369.0" cy="338.3" r="0.7"/><circle cx="350.1" cy="314.1" r="0.7"/><circle cx="372.0" cy="315.6" r="0.8"/><circle cx="354.4" cy="304.8" r="0.7"/><circle cx="380.0" cy="313.2" r="0.6"/><circle cx="355.9" cy="340.7" r="0.6"/><circle cx="366.5" cy="340.8" r="1.2"/><circle cx="349.2" cy="313.8" r="1.1"/><circle cx="370.2" cy="306.8" r="0.9"/><circle cx="347.5" cy="333.5" r="0.7"/><circle cx="361.9" cy="307.8" r="1.0"/><circle cx="352.4" cy="342.8" r="0.6"/><circle cx="370.7" cy="324.4" r="0.7"/><circle cx="386.5" cy="315.6" r="1.1"/><circle cx="374.1" cy="311.4" r="0.8"/><circle cx="373.7" cy="314.3" r="0.9"/><circle cx="357.6" cy="297.8" r="0.8"/><circle cx="353.3" cy="301.1" r="1.1"/><circle cx="356.7" cy="316.6" r="1.3"/><circle cx="386.7" cy="343.4" r="1.2"/><circle cx="347.5" cy="309.5" r="0.5"/><circle cx="380.9" cy="331.1" r="0.8"/><circle cx="364.6" cy="330.9" r="1.1"/><circle cx="354.6" cy="341.3" r="0.8"/><circle cx="377.8" cy="304.2" r="0.6"/><circle cx="351.6" cy="311.0" r="0.8"/><circle cx="341.9" cy="311.4" r="1.0"/><circle cx="350.4" cy="340.9" r="1.0"/><circle cx="383.1" cy="308.3" r="0.9"/><circle cx="381.2" cy="313.6" r="0.5"/><circle cx="390.3" cy="337.4" r="0.7"/><circle cx="354.4" cy="300.3" r="1.2"/><circle cx="352.3" cy="345.1" r="1.1"/><circle cx="344.7" cy="332.9" r="0.8"/><circle cx="385.0" cy="340.3" r="0.7"/><circle cx="381.6" cy="335.3" r="1.2"/><circle cx="377.8" cy="319.4" r="0.5"/><circle cx="382.0" cy="318.0" r="0.9"/><circle cx="382.3" cy="339.1" r="0.7"/><circle cx="378.3" cy="324.5" r="0.7"/><circle cx="343.1" cy="314.1" r="0.8"/><circle cx="351.8" cy="311.4" r="0.6"/><circle cx="382.6" cy="331.5" r="0.7"/><circle cx="354.2" cy="322.9" r="0.9"/><circle cx="357.7" cy="343.5" r="0.6"/><circle cx="373.8" cy="312.7" r="1.2"/><circle cx="372.9" cy="336.5" r="0.6"/><circle cx="380.1" cy="327.5" r="0.9"/><circle cx="386.2" cy="340.5" r="0.6"/><circle cx="357.1" cy="314.2" r="0.7"/><circle cx="343.2" cy="309.8" r="0.7"/><circle cx="382.2" cy="319.1" r="0.6"/><circle cx="359.3" cy="320.3" r="0.8"/><circle cx="369.3" cy="318.3" r="0.7"/><circle cx="379.2" cy="308.1" r="0.7"/><circle cx="386.7" cy="340.9" r="0.8"/><circle cx="350.8" cy="329.7" r="1.2"/><circle cx="387.3" cy="340.4" r="1.1"/><circle cx="359.4" cy="304.4" r="1.2"/><circle cx="359.0" cy="314.7" r="1.0"/><circle cx="362.0" cy="340.5" r="0.7"/><circle cx="377.8" cy="339.8" r="1.1"/><circle cx="394.6" cy="346.8" r="0.9"/><circle cx="369.9" cy="302.9" r="0.8"/><circle cx="366.3" cy="304.7" r="1.1"/><circle cx="391.6" cy="338.0" r="0.9"/><circle cx="356.8" cy="331.0" r="0.9"/><circle cx="365.2" cy="313.0" r="0.9"/><circle cx="380.1" cy="340.2" r="1.3"/><circle cx="349.5" cy="310.6" r="0.9"/><circle cx="373.8" cy="313.5" r="0.7"/><circle cx="344.7" cy="312.2" r="0.9"/><circle cx="392.2" cy="348.5" r="1.3"/><circle cx="377.3" cy="339.4" r="0.6"/><circle cx="380.7" cy="328.1" r="0.8"/><circle cx="368.8" cy="330.2" r="0.8"/><circle cx="360.4" cy="343.5" r="0.5"/><circle cx="351.0" cy="332.0" r="0.9"/><circle cx="344.7" cy="331.0" r="0.8"/><circle cx="374.9" cy="317.3" r="1.0"/><circle cx="373.9" cy="316.2" r="0.6"/><circle cx="350.5" cy="343.8" r="1.0"/><circle cx="354.9" cy="299.4" r="1.0"/><circle cx="354.8" cy="321.4" r="1.0"/><circle cx="353.3" cy="326.1" r="0.6"/><circle cx="370.8" cy="326.9" r="0.6"/><circle cx="364.3" cy="298.2" r="0.9"/><circle cx="383.0" cy="336.3" r="0.6"/><circle cx="345.7" cy="340.4" r="0.8"/><circle cx="373.8" cy="337.3" r="0.6"/><circle cx="353.9" cy="314.9" r="0.5"/><circle cx="375.7" cy="306.0" r="0.8"/><circle cx="382.6" cy="317.9" r="1.3"/><circle cx="377.3" cy="342.8" r="1.0"/><circle cx="349.7" cy="335.7" r="0.8"/><circle cx="386.0" cy="332.1" r="1.2"/><circle cx="347.0" cy="314.9" r="1.1"/><circle cx="342.1" cy="327.8" r="0.6"/><circle cx="372.9" cy="338.9" r="0.6"/><circle cx="355.0" cy="304.9" r="0.9"/><circle cx="390.5" cy="326.5" r="0.6"/><circle cx="373.3" cy="310.3" r="1.1"/><circle cx="362.7" cy="302.1" r="1.2"/><circle cx="372.3" cy="332.6" r="1.2"/><circle cx="360.4" cy="302.5" r="0.9"/><circle cx="392.7" cy="338.8" r="0.5"/><circle cx="350.6" cy="339.8" r="1.1"/><circle cx="363.4" cy="320.6" r="0.6"/><circle cx="344.1" cy="312.5" r="0.7"/><circle cx="361.5" cy="320.2" r="1.0"/><circle cx="363.1" cy="313.8" r="0.5"/><circle cx="374.8" cy="312.7" r="0.5"/><circle cx="380.4" cy="309.3" r="0.7"/><circle cx="370.0" cy="308.7" r="1.0"/><circle cx="373.6" cy="337.1" r="1.2"/><circle cx="386.7" cy="329.4" r="1.0"/><circle cx="361.6" cy="309.8" r="1.2"/><circle cx="392.7" cy="346.5" r="1.1"/><circle cx="358.0" cy="336.7" r="1.1"/><circle cx="370.5" cy="329.5" r="0.8"/><circle cx="373.0" cy="316.8" r="0.6"/><circle cx="360.0" cy="312.1" r="1.3"/><circle cx="368.8" cy="314.6" r="0.7"/><circle cx="353.8" cy="313.6" r="0.6"/><circle cx="367.1" cy="319.0" r="1.0"/><circle cx="357.9" cy="303.5" r="0.6"/><circle cx="357.9" cy="311.3" r="1.1"/><circle cx="360.2" cy="345.5" r="1.0"/><circle cx="361.2" cy="337.3" r="0.9"/><circle cx="356.3" cy="308.5" r="0.5"/><circle cx="349.5" cy="309.1" r="1.1"/><circle cx="352.8" cy="316.4" r="0.7"/><circle cx="376.2" cy="342.3" r="1.1"/><circle cx="351.5" cy="335.1" r="1.3"/><circle cx="388.8" cy="343.0" r="0.8"/><circle cx="378.5" cy="345.6" r="0.7"/><circle cx="359.4" cy="335.9" r="1.1"/><circle cx="364.2" cy="332.0" r="0.8"/><circle cx="343.0" cy="317.2" r="0.5"/><circle cx="377.6" cy="312.8" r="0.9"/><circle cx="375.9" cy="308.4" r="0.9"/><circle cx="342.9" cy="328.4" r="1.1"/><circle cx="359.5" cy="299.3" r="0.6"/><circle cx="348.2" cy="336.9" r="0.6"/><circle cx="389.1" cy="317.7" r="1.0"/><circle cx="375.3" cy="325.1" r="1.1"/><circle cx="376.1" cy="312.6" r="1.1"/><circle cx="355.2" cy="333.8" r="1.1"/><circle cx="386.8" cy="311.4" r="1.2"/><circle cx="356.4" cy="323.3" r="1.3"/><circle cx="368.5" cy="330.7" r="1.2"/><circle cx="353.4" cy="336.3" r="0.6"/><circle cx="343.2" cy="322.1" r="1.0"/><circle cx="361.8" cy="302.4" r="0.7"/><circle cx="384.4" cy="345.5" r="0.6"/><circle cx="369.9" cy="329.6" r="0.8"/><circle cx="388.3" cy="319.8" r="0.8"/><circle cx="378.8" cy="316.5" r="1.2"/><circle cx="343.2" cy="325.6" r="0.8"/><circle cx="395.5" cy="346.8" r="1.0"/><circle cx="353.1" cy="308.2" r="0.7"/><circle cx="365.9" cy="307.0" r="0.7"/><circle cx="385.7" cy="330.0" r="0.8"/><circle cx="374.2" cy="302.8" r="1.2"/><circle cx="385.3" cy="340.0" r="0.7"/><circle cx="359.7" cy="321.2" r="1.3"/><circle cx="349.3" cy="332.2" r="1.0"/><circle cx="367.1" cy="326.4" r="1.3"/><circle cx="352.3" cy="343.4" r="0.8"/><circle cx="387.0" cy="342.3" r="0.7"/><circle cx="392.1" cy="349.6" r="0.8"/><circle cx="349.8" cy="332.2" r="0.6"/><circle cx="360.2" cy="345.4" r="1.1"/><circle cx="393.2" cy="348.8" r="0.5"/><circle cx="353.8" cy="338.3" r="1.1"/><circle cx="353.6" cy="318.1" r="0.6"/><circle cx="358.8" cy="343.1" r="0.6"/><circle cx="369.2" cy="301.7" r="0.9"/><circle cx="350.4" cy="332.3" r="0.6"/><circle cx="384.5" cy="322.0" r="0.6"/><circle cx="361.0" cy="321.8" r="1.3"/><circle cx="360.8" cy="306.1" r="1.3"/><circle cx="356.1" cy="304.0" r="0.7"/><circle cx="370.5" cy="316.9" r="1.0"/><circle cx="381.4" cy="330.5" r="1.0"/><circle cx="372.9" cy="332.6" r="1.3"/><circle cx="363.8" cy="311.9" r="0.9"/><circle cx="363.0" cy="317.0" r="0.6"/><circle cx="355.0" cy="328.2" r="0.8"/><circle cx="354.2" cy="305.2" r="0.6"/><circle cx="390.8" cy="337.8" r="1.3"/><circle cx="342.5" cy="332.8" r="0.8"/><circle cx="378.9" cy="324.7" r="0.8"/><circle cx="384.9" cy="341.7" r="0.9"/><circle cx="353.8" cy="329.2" r="1.1"/><circle cx="362.6" cy="333.8" r="0.8"/><circle cx="371.5" cy="328.3" r="1.1"/><circle cx="359.1" cy="329.2" r="1.0"/><circle cx="353.1" cy="328.3" r="0.7"/><circle cx="383.4" cy="323.2" r="0.9"/><circle cx="353.0" cy="302.0" r="1.3"/><circle cx="371.7" cy="323.3" r="0.9"/><circle cx="350.0" cy="340.0" r="0.9"/><circle cx="378.5" cy="340.3" r="1.3"/><circle cx="362.7" cy="340.5" r="1.2"/><circle cx="354.8" cy="299.8" r="0.8"/><circle cx="388.4" cy="323.2" r="0.9"/><circle cx="344.9" cy="316.2" r="1.3"/><circle cx="381.8" cy="319.2" r="0.9"/><circle cx="388.1" cy="336.4" r="0.6"/><circle cx="380.9" cy="314.6" r="0.9"/><circle cx="354.0" cy="314.8" r="0.8"/><circle cx="362.7" cy="295.1" r="0.7"/><circle cx="350.4" cy="334.2" r="0.7"/><circle cx="359.2" cy="307.6" r="1.2"/><circle cx="345.1" cy="329.6" r="1.2"/><circle cx="351.8" cy="317.7" r="1.2"/><circle cx="377.1" cy="314.8" r="0.5"/><circle cx="366.5" cy="314.6" r="1.1"/><circle cx="357.5" cy="316.9" r="1.1"/><circle cx="388.9" cy="313.8" r="0.8"/><circle cx="382.9" cy="314.9" r="1.1"/><circle cx="359.6" cy="298.0" r="1.1"/><circle cx="362.6" cy="323.4" r="0.9"/><circle cx="367.7" cy="319.9" r="1.2"/><circle cx="364.8" cy="320.5" r="1.3"/><circle cx="366.3" cy="321.5" r="0.9"/><circle cx="389.7" cy="331.5" r="1.1"/><circle cx="364.0" cy="296.4" r="1.1"/><circle cx="373.2" cy="337.0" r="1.2"/><circle cx="346.7" cy="306.4" r="0.6"/><circle cx="344.9" cy="336.1" r="1.0"/><circle cx="342.8" cy="332.1" r="1.1"/><circle cx="381.6" cy="317.4" r="1.0"/><circle cx="359.9" cy="323.0" r="0.5"/><circle cx="355.5" cy="311.6" r="0.7"/><circle cx="370.6" cy="317.5" r="0.5"/><circle cx="358.0" cy="342.5" r="1.2"/><circle cx="372.2" cy="315.0" r="0.9"/><circle cx="369.3" cy="326.7" r="0.8"/><circle cx="342.6" cy="311.6" r="1.0"/><circle cx="364.4" cy="325.6" r="0.8"/><circle cx="356.2" cy="338.5" r="0.7"/><circle cx="382.8" cy="338.9" r="1.0"/><circle cx="366.6" cy="343.1" r="0.5"/><circle cx="365.9" cy="329.8" r="0.5"/><circle cx="375.8" cy="304.2" r="1.3"/><circle cx="373.7" cy="338.8" r="0.9"/><circle cx="380.5" cy="331.8" r="0.8"/><circle cx="352.4" cy="340.9" r="0.6"/><circle cx="387.3" cy="347.2" r="0.9"/><circle cx="379.6" cy="308.5" r="1.3"/><circle cx="343.0" cy="332.9" r="0.5"/><circle cx="353.7" cy="326.6" r="0.8"/><circle cx="373.6" cy="302.7" r="1.3"/><circle cx="359.3" cy="341.0" r="0.6"/><circle cx="388.2" cy="348.8" r="0.8"/><circle cx="341.5" cy="315.3" r="1.0"/><circle cx="353.1" cy="324.6" r="0.6"/><circle cx="367.8" cy="334.7" r="0.9"/><circle cx="357.2" cy="313.5" r="1.1"/><circle cx="345.2" cy="321.1" r="1.2"/><circle cx="375.9" cy="324.3" r="0.6"/><circle cx="348.0" cy="309.2" r="1.3"/><circle cx="359.8" cy="319.2" r="0.7"/><circle cx="387.5" cy="310.7" r="0.6"/><circle cx="373.1" cy="338.1" r="1.0"/><circle cx="370.8" cy="299.5" r="1.0"/><circle cx="347.5" cy="326.4" r="0.8"/><circle cx="362.3" cy="331.1" r="0.6"/><circle cx="359.7" cy="341.1" r="1.2"/><circle cx="368.7" cy="302.4" r="0.6"/><circle cx="369.7" cy="324.0" r="0.6"/><circle cx="368.0" cy="303.3" r="1.0"/><circle cx="370.4" cy="314.6" r="0.7"/><circle cx="364.1" cy="305.5" r="0.6"/><circle cx="354.1" cy="342.7" r="0.9"/><circle cx="387.7" cy="325.9" r="1.1"/><circle cx="353.5" cy="336.0" r="0.6"/><circle cx="363.4" cy="323.0" r="0.7"/><circle cx="374.7" cy="307.2" r="1.0"/><circle cx="387.2" cy="333.8" r="0.6"/><circle cx="354.5" cy="327.5" r="1.3"/><circle cx="342.0" cy="328.6" r="1.1"/><circle cx="389.1" cy="313.2" r="1.2"/><circle cx="364.6" cy="316.8" r="0.6"/><circle cx="354.4" cy="335.0" r="1.1"/><circle cx="348.7" cy="313.3" r="0.6"/><circle cx="351.6" cy="306.4" r="0.8"/><circle cx="387.7" cy="320.9" r="0.9"/><circle cx="387.0" cy="344.8" r="1.1"/><circle cx="378.3" cy="305.2" r="1.0"/><circle cx="391.0" cy="338.0" r="0.6"/><circle cx="383.2" cy="313.6" r="0.6"/><circle cx="390.0" cy="346.4" r="1.3"/><circle cx="384.9" cy="340.6" r="1.2"/><circle cx="375.5" cy="318.4" r="1.2"/><circle cx="387.3" cy="342.7" r="0.8"/><circle cx="354.8" cy="340.9" r="0.7"/><circle cx="351.6" cy="319.7" r="0.7"/><circle cx="381.2" cy="333.7" r="0.8"/><circle cx="387.2" cy="338.4" r="1.1"/><circle cx="364.2" cy="299.0" r="1.1"/><circle cx="375.7" cy="340.8" r="1.2"/><circle cx="389.0" cy="317.5" r="1.0"/><circle cx="367.4" cy="312.8" r="0.7"/></g>
<g fill="#878787"><circle cx="362.8" cy="336.8" r="1.2"/><circle cx="360.2" cy="307.3" r="0.8"/><circle cx="377.6" cy="321.1" r="1.2"/><circle cx="363.2" cy="312.6" r="1.4"/><circle cx="373.7" cy="338.7" r="1.0"/><circle cx="355.8" cy="336.3" r="0.7"/><circle cx="367.1" cy="335.4" r="0.8"/><circle cx="362.7" cy="307.8" r="1.1"/><circle cx="384.5" cy="323.9" r="0.9"/><circle cx="374.3" cy="321.2" r="1.5"/><circle cx="363.1" cy="329.6" r="1.2"/><circle cx="363.7" cy="324.2" r="1.2"/><circle cx="376.8" cy="325.6" r="1.0"/><circle cx="379.7" cy="338.6" r="1.3"/><circle cx="361.6" cy="309.2" r="1.5"/><circle cx="372.8" cy="326.4" r="0.6"/><circle cx="364.4" cy="333.0" r="1.2"/><circle cx="359.7" cy="333.6" r="0.9"/><circle cx="370.9" cy="320.3" r="1.5"/><circle cx="375.4" cy="335.3" r="1.2"/><circle cx="378.0" cy="330.8" r="0.8"/><circle cx="354.6" cy="326.3" r="1.3"/><circle cx="381.5" cy="317.4" r="0.7"/><circle cx="354.6" cy="332.7" r="0.8"/><circle cx="361.0" cy="305.9" r="0.9"/><circle cx="356.1" cy="316.4" r="1.0"/><circle cx="352.3" cy="314.0" r="1.0"/><circle cx="359.1" cy="311.8" r="1.4"/><circle cx="366.9" cy="336.5" r="1.2"/><circle cx="380.9" cy="316.1" r="0.7"/><circle cx="380.0" cy="322.2" r="1.1"/><circle cx="376.3" cy="333.2" r="0.8"/><circle cx="363.2" cy="339.7" r="1.1"/><circle cx="360.0" cy="328.4" r="0.8"/><circle cx="382.9" cy="325.9" r="0.9"/><circle cx="358.1" cy="306.6" r="1.1"/><circle cx="379.8" cy="330.3" r="1.0"/><circle cx="360.8" cy="329.0" r="1.5"/><circle cx="374.7" cy="330.9" r="1.3"/><circle cx="379.4" cy="317.2" r="1.0"/><circle cx="382.1" cy="317.5" r="0.8"/><circle cx="369.9" cy="330.0" r="1.4"/><circle cx="353.4" cy="317.1" r="0.7"/><circle cx="365.3" cy="323.4" r="1.4"/><circle cx="376.2" cy="326.4" r="1.0"/><circle cx="372.2" cy="314.5" r="1.4"/><circle cx="381.3" cy="336.6" r="0.7"/><circle cx="376.3" cy="333.3" r="1.1"/><circle cx="386.0" cy="338.9" r="1.3"/><circle cx="382.7" cy="329.2" r="1.4"/><circle cx="353.3" cy="331.3" r="1.2"/><circle cx="373.8" cy="314.6" r="0.7"/><circle cx="373.4" cy="336.0" r="0.8"/><circle cx="356.8" cy="312.6" r="0.7"/><circle cx="381.9" cy="317.9" r="1.2"/><circle cx="359.4" cy="306.1" r="1.0"/><circle cx="371.4" cy="335.4" r="0.6"/><circle cx="357.3" cy="328.4" r="0.9"/><circle cx="361.8" cy="326.0" r="0.8"/><circle cx="383.5" cy="335.4" r="1.1"/><circle cx="365.8" cy="306.3" r="1.2"/><circle cx="378.6" cy="326.7" r="1.0"/><circle cx="369.5" cy="326.8" r="0.8"/><circle cx="384.7" cy="342.7" r="1.3"/><circle cx="368.1" cy="309.0" r="1.0"/><circle cx="376.8" cy="331.5" r="1.0"/><circle cx="362.3" cy="311.2" r="1.0"/><circle cx="359.8" cy="311.4" r="1.3"/><circle cx="369.7" cy="321.0" r="0.8"/><circle cx="359.0" cy="325.7" r="1.2"/><circle cx="378.5" cy="331.9" r="0.7"/><circle cx="374.6" cy="314.1" r="0.9"/><circle cx="354.7" cy="328.5" r="1.5"/><circle cx="360.7" cy="305.6" r="0.8"/><circle cx="362.9" cy="338.9" r="1.3"/><circle cx="367.1" cy="307.8" r="0.7"/><circle cx="354.3" cy="334.2" r="1.0"/><circle cx="381.6" cy="322.4" r="1.3"/><circle cx="371.7" cy="323.7" r="0.8"/><circle cx="388.0" cy="342.1" r="1.0"/><circle cx="378.9" cy="318.8" r="1.3"/><circle cx="372.7" cy="318.6" r="0.6"/><circle cx="383.1" cy="334.5" r="1.0"/><circle cx="361.5" cy="328.2" r="1.4"/><circle cx="368.4" cy="328.8" r="0.8"/><circle cx="358.1" cy="339.2" r="0.9"/><circle cx="352.1" cy="326.9" r="0.7"/><circle cx="356.2" cy="321.7" r="1.1"/><circle cx="374.8" cy="331.4" r="1.0"/><circle cx="350.6" cy="332.1" r="0.6"/><circle cx="367.8" cy="319.5" r="1.2"/><circle cx="378.1" cy="313.2" r="1.2"/><circle cx="377.2" cy="322.2" r="0.7"/><circle cx="364.4" cy="334.6" r="1.3"/><circle cx="374.7" cy="332.8" r="0.6"/><circle cx="376.3" cy="340.2" r="1.2"/><circle cx="355.7" cy="335.3" r="0.7"/><circle cx="369.5" cy="308.0" r="1.3"/><circle cx="385.6" cy="339.6" r="0.6"/><circle cx="384.0" cy="325.5" r="1.3"/><circle cx="369.1" cy="328.0" r="1.1"/><circle cx="360.1" cy="319.3" r="0.6"/><circle cx="383.1" cy="335.5" r="1.0"/><circle cx="352.9" cy="329.2" r="0.8"/><circle cx="366.0" cy="308.1" r="1.5"/><circle cx="371.0" cy="317.6" r="0.7"/><circle cx="378.8" cy="337.0" r="1.4"/><circle cx="352.0" cy="318.2" r="0.9"/><circle cx="377.2" cy="327.2" r="1.1"/><circle cx="367.1" cy="319.7" r="1.1"/><circle cx="375.4" cy="339.6" r="1.3"/><circle cx="381.7" cy="339.5" r="1.4"/><circle cx="376.7" cy="337.0" r="1.0"/><circle cx="377.8" cy="313.7" r="0.9"/><circle cx="362.6" cy="316.5" r="0.7"/><circle cx="375.6" cy="340.2" r="1.3"/><circle cx="383.4" cy="342.7" r="1.3"/><circle cx="359.4" cy="313.6" r="1.0"/><circle cx="385.5" cy="339.8" r="0.9"/><circle cx="380.5" cy="334.1" r="1.4"/><circle cx="381.6" cy="324.6" r="0.7"/><circle cx="374.4" cy="318.2" r="1.1"/><circle cx="370.3" cy="329.2" r="1.1"/><circle cx="356.8" cy="315.0" r="1.4"/><circle cx="355.2" cy="320.9" r="1.2"/><circle cx="377.1" cy="333.0" r="1.3"/><circle cx="358.3" cy="313.9" r="0.6"/><circle cx="375.1" cy="326.9" r="1.2"/><circle cx="373.2" cy="331.0" r="0.9"/><circle cx="348.3" cy="317.9" r="0.7"/><circle cx="352.5" cy="323.1" r="1.5"/><circle cx="377.0" cy="314.5" r="1.3"/><circle cx="355.3" cy="307.7" r="0.9"/><circle cx="365.1" cy="330.8" r="1.0"/><circle cx="384.2" cy="335.2" r="1.2"/><circle cx="355.8" cy="339.2" r="0.7"/><circle cx="375.8" cy="326.8" r="1.2"/><circle cx="355.4" cy="309.4" r="0.7"/><circle cx="375.5" cy="326.1" r="0.8"/><circle cx="363.3" cy="324.3" r="0.7"/><circle cx="358.3" cy="334.9" r="0.9"/><circle cx="363.9" cy="333.7" r="0.8"/><circle cx="356.0" cy="312.4" r="0.9"/><circle cx="363.3" cy="328.9" r="1.0"/><circle cx="376.0" cy="336.5" r="0.8"/><circle cx="349.0" cy="320.9" r="0.7"/><circle cx="367.3" cy="331.6" r="0.7"/><circle cx="352.7" cy="322.6" r="0.8"/><circle cx="357.5" cy="321.0" r="0.7"/><circle cx="350.6" cy="317.9" r="1.0"/><circle cx="379.4" cy="325.8" r="1.4"/><circle cx="370.1" cy="313.2" r="0.8"/><circle cx="351.2" cy="314.2" r="1.4"/><circle cx="367.4" cy="332.4" r="0.7"/><circle cx="367.0" cy="316.2" r="0.8"/><circle cx="376.0" cy="317.9" r="0.7"/><circle cx="375.5" cy="323.9" r="0.6"/><circle cx="367.8" cy="332.7" r="1.1"/><circle cx="357.7" cy="323.3" r="1.1"/><circle cx="382.0" cy="340.8" r="1.3"/><circle cx="357.4" cy="327.2" r="1.4"/><circle cx="349.2" cy="321.0" r="0.7"/><circle cx="355.9" cy="333.1" r="1.1"/><circle cx="368.0" cy="323.8" r="1.5"/><circle cx="374.2" cy="312.3" r="1.4"/><circle cx="367.2" cy="312.7" r="1.5"/><circle cx="361.4" cy="319.7" r="0.9"/><circle cx="363.6" cy="310.2" r="1.3"/><circle cx="358.7" cy="321.6" r="1.1"/><circle cx="358.0" cy="308.5" r="1.5"/><circle cx="370.0" cy="326.5" r="1.4"/><circle cx="354.8" cy="326.7" r="1.0"/><circle cx="365.1" cy="338.5" r="1.2"/><circle cx="384.4" cy="341.2" r="0.8"/><circle cx="360.1" cy="315.1" r="1.5"/><circle cx="370.3" cy="337.0" r="1.3"/><circle cx="375.6" cy="323.9" r="0.7"/><circle cx="358.1" cy="329.5" r="1.1"/><circle cx="381.9" cy="338.9" r="1.5"/><circle cx="355.9" cy="306.8" r="1.4"/><circle cx="372.0" cy="310.9" r="1.2"/><circle cx="358.6" cy="313.1" r="0.9"/><circle cx="370.0" cy="330.3" r="0.7"/><circle cx="379.3" cy="328.2" r="1.0"/><circle cx="376.4" cy="335.1" r="0.6"/><circle cx="368.0" cy="330.3" r="1.2"/><circle cx="357.6" cy="320.6" r="1.5"/><circle cx="356.5" cy="319.8" r="1.5"/><circle cx="379.1" cy="317.9" r="1.2"/><circle cx="357.2" cy="312.2" r="0.8"/><circle cx="365.0" cy="320.3" r="0.7"/><circle cx="372.3" cy="317.7" r="1.2"/><circle cx="366.3" cy="310.7" r="1.0"/><circle cx="348.5" cy="330.2" r="0.7"/><circle cx="380.4" cy="336.5" r="1.2"/><circle cx="374.8" cy="331.4" r="1.5"/><circle cx="356.1" cy="333.8" r="0.9"/><circle cx="358.6" cy="335.9" r="1.1"/><circle cx="383.9" cy="338.0" r="1.1"/><circle cx="370.5" cy="332.2" r="0.8"/><circle cx="355.1" cy="331.0" r="0.6"/><circle cx="357.5" cy="314.2" r="1.2"/><circle cx="362.0" cy="324.2" r="0.9"/><circle cx="365.5" cy="322.5" r="0.8"/><circle cx="374.3" cy="331.0" r="0.8"/><circle cx="381.5" cy="332.3" r="0.9"/><circle cx="368.7" cy="311.2" r="1.4"/><circle cx="354.3" cy="330.9" r="0.9"/><circle cx="378.3" cy="312.8" r="1.3"/><circle cx="372.7" cy="311.3" r="1.2"/><circle cx="382.0" cy="334.7" r="0.8"/><circle cx="351.7" cy="329.7" r="1.1"/><circle cx="374.7" cy="313.2" r="0.8"/><circle cx="365.8" cy="324.6" r="1.3"/><circle cx="349.0" cy="332.1" r="0.8"/><circle cx="360.1" cy="328.8" r="1.2"/><circle cx="373.9" cy="339.0" r="0.8"/><circle cx="361.0" cy="329.7" r="0.8"/><circle cx="354.4" cy="312.7" r="1.3"/><circle cx="383.0" cy="331.8" r="1.5"/><circle cx="381.6" cy="315.9" r="0.9"/><circle cx="349.8" cy="323.9" r="0.7"/><circle cx="367.4" cy="311.5" r="0.7"/><circle cx="369.3" cy="324.2" r="0.9"/><circle cx="378.2" cy="324.5" r="1.3"/><circle cx="364.2" cy="322.7" r="0.8"/><circle cx="376.2" cy="312.5" r="0.9"/><circle cx="368.0" cy="331.6" r="1.3"/><circle cx="363.6" cy="321.3" r="1.4"/><circle cx="352.2" cy="321.6" r="1.2"/><circle cx="359.6" cy="305.3" r="1.5"/><circle cx="367.6" cy="328.0" r="0.9"/><circle cx="350.6" cy="333.1" r="1.3"/><circle cx="366.4" cy="307.2" r="1.0"/><circle cx="349.9" cy="315.1" r="1.3"/><circle cx="370.4" cy="336.4" r="0.8"/><circle cx="355.1" cy="333.7" r="1.0"/><circle cx="362.1" cy="308.6" r="0.8"/><circle cx="358.8" cy="332.8" r="1.4"/><circle cx="360.0" cy="322.0" r="1.2"/><circle cx="352.3" cy="335.6" r="0.9"/><circle cx="358.3" cy="313.8" r="1.0"/><circle cx="355.1" cy="332.9" r="0.9"/><circle cx="355.7" cy="320.2" r="1.3"/><circle cx="373.6" cy="339.0" r="1.5"/><circle cx="361.6" cy="337.0" r="1.3"/><circle cx="359.0" cy="318.1" r="0.9"/><circle cx="362.7" cy="318.6" r="0.7"/><circle cx="357.4" cy="339.3" r="1.0"/><circle cx="374.8" cy="338.5" r="1.3"/><circle cx="358.1" cy="339.7" r="1.3"/><circle cx="379.9" cy="335.6" r="0.8"/><circle cx="375.7" cy="318.7" r="1.4"/><circle cx="353.4" cy="324.9" r="0.9"/><circle cx="383.7" cy="336.9" r="1.4"/><circle cx="379.4" cy="330.3" r="1.2"/><circle cx="371.1" cy="321.6" r="0.9"/><circle cx="381.1" cy="334.4" r="1.4"/><circle cx="356.8" cy="317.1" r="0.8"/><circle cx="352.0" cy="316.6" r="0.6"/><circle cx="367.4" cy="319.5" r="1.3"/><circle cx="374.7" cy="338.8" r="1.0"/><circle cx="361.0" cy="338.0" r="1.1"/><circle cx="352.2" cy="326.8" r="1.3"/><circle cx="369.8" cy="322.7" r="1.0"/><circle cx="356.6" cy="318.0" r="0.9"/><circle cx="366.1" cy="331.8" r="1.0"/><circle cx="351.6" cy="324.3" r="1.3"/><circle cx="381.3" cy="317.8" r="0.8"/><circle cx="379.5" cy="335.1" r="0.8"/><circle cx="385.4" cy="342.6" r="1.0"/><circle cx="363.9" cy="331.6" r="1.4"/><circle cx="356.3" cy="315.6" r="0.9"/><circle cx="371.0" cy="323.4" r="1.2"/><circle cx="380.1" cy="337.7" r="0.9"/><circle cx="386.0" cy="339.0" r="1.5"/><circle cx="371.6" cy="309.4" r="1.2"/><circle cx="382.0" cy="320.4" r="1.1"/><circle cx="358.8" cy="314.6" r="1.0"/><circle cx="369.6" cy="322.1" r="0.7"/><circle cx="378.3" cy="333.1" r="0.8"/><circle cx="358.6" cy="324.0" r="0.8"/><circle cx="356.3" cy="326.7" r="1.2"/><circle cx="379.6" cy="331.6" r="1.2"/><circle cx="359.3" cy="336.6" r="1.4"/><circle cx="366.6" cy="307.2" r="0.7"/><circle cx="381.7" cy="330.3" r="0.7"/><circle cx="367.3" cy="328.8" r="1.5"/><circle cx="362.0" cy="333.8" r="0.8"/><circle cx="356.2" cy="310.1" r="1.0"/><circle cx="374.1" cy="315.7" r="0.7"/><circle cx="357.0" cy="307.1" r="0.8"/><circle cx="361.2" cy="323.5" r="0.8"/><circle cx="368.2" cy="321.0" r="1.5"/><circle cx="367.8" cy="311.6" r="1.1"/><circle cx="350.8" cy="331.2" r="1.5"/><circle cx="364.9" cy="317.7" r="1.0"/><circle cx="362.7" cy="330.8" r="1.0"/><circle cx="354.2" cy="337.6" r="1.1"/><circle cx="378.8" cy="317.7" r="1.2"/><circle cx="366.1" cy="315.5" r="1.1"/><circle cx="376.0" cy="332.5" r="1.5"/><circle cx="353.9" cy="318.1" r="1.4"/><circle cx="381.4" cy="326.9" r="1.2"/><circle cx="371.1" cy="319.5" r="0.8"/><circle cx="361.5" cy="322.6" r="1.0"/><circle cx="363.2" cy="338.8" r="0.9"/><circle cx="375.0" cy="322.5" r="0.9"/><circle cx="364.2" cy="327.6" r="1.3"/><circle cx="358.8" cy="318.3" r="0.9"/><circle cx="363.2" cy="339.5" r="1.1"/><circle cx="359.5" cy="316.8" r="1.3"/><circle cx="354.5" cy="330.8" r="0.6"/><circle cx="357.4" cy="306.1" r="0.8"/><circle cx="379.0" cy="332.0" r="1.4"/><circle cx="355.9" cy="333.0" r="1.4"/><circle cx="364.2" cy="307.5" r="1.4"/><circle cx="379.8" cy="327.1" r="1.5"/><circle cx="377.9" cy="328.4" r="0.7"/><circle cx="354.6" cy="310.9" r="1.1"/><circle cx="366.2" cy="319.1" r="0.8"/><circle cx="355.2" cy="310.9" r="0.7"/><circle cx="362.7" cy="332.6" r="0.7"/><circle cx="370.3" cy="330.4" r="0.6"/><circle cx="366.4" cy="334.7" r="1.1"/><circle cx="367.0" cy="338.2" r="1.1"/><circle cx="362.1" cy="319.3" r="1.4"/><circle cx="384.3" cy="339.6" r="1.1"/><circle cx="364.0" cy="330.8" r="0.6"/><circle cx="381.9" cy="334.5" r="1.1"/><circle cx="365.4" cy="330.0" r="1.1"/><circle cx="378.8" cy="319.8" r="1.5"/><circle cx="373.9" cy="316.2" r="0.9"/><circle cx="359.2" cy="339.1" r="1.3"/><circle cx="381.3" cy="335.9" r="1.5"/><circle cx="377.0" cy="316.3" r="1.3"/><circle cx="358.9" cy="327.7" r="0.7"/><circle cx="384.3" cy="322.9" r="0.8"/><circle cx="354.1" cy="333.5" r="1.1"/><circle cx="351.4" cy="334.2" r="0.7"/><circle cx="359.5" cy="308.3" r="1.4"/><circle cx="366.5" cy="332.2" r="0.8"/><circle cx="378.8" cy="329.2" r="0.7"/><circle cx="368.8" cy="332.0" r="0.8"/><circle cx="375.6" cy="314.7" r="0.9"/><circle cx="386.9" cy="340.7" r="1.5"/><circle cx="365.9" cy="326.2" r="1.3"/><circle cx="380.0" cy="321.6" r="1.4"/><circle cx="367.9" cy="308.5" r="1.3"/><circle cx="353.9" cy="330.4" r="0.6"/></g>
<g fill="#878787"><circle cx="381.9" cy="360.0" r="1.2"/><circle cx="372.4" cy="361.3" r="0.9"/><circle cx="373.7" cy="363.6" r="0.6"/><circle cx="376.3" cy="354.1" r="1.3"/><circle cx="376.1" cy="359.1" r="1.2"/><circle cx="379.0" cy="357.5" r="1.3"/><circle cx="373.0" cy="354.8" r="1.3"/><circle cx="372.3" cy="355.4" r="1.0"/><circle cx="374.7" cy="355.1" r="1.3"/><circle cx="376.2" cy="363.2" r="0.8"/><circle cx="381.0" cy="361.0" r="1.4"/><circle cx="379.5" cy="361.2" r="1.0"/><circle cx="380.4" cy="358.8" r="0.7"/><circle cx="378.5" cy="362.7" r="0.8"/><circle cx="376.1" cy="363.7" r="1.4"/><circle cx="378.5" cy="360.2" r="0.9"/><circle cx="372.8" cy="354.8" r="1.0"/><circle cx="376.4" cy="356.5" r="0.9"/><circle cx="377.1" cy="362.9" r="1.1"/><circle cx="375.2" cy="360.1" r="0.9"/><circle cx="371.3" cy="355.7" r="0.7"/><circle cx="374.1" cy="361.2" r="1.1"/><circle cx="378.0" cy="360.1" r="1.3"/><circle cx="378.4" cy="357.7" r="1.1"/><circle cx="377.1" cy="355.7" r="1.0"/><circle cx="378.4" cy="361.9" r="1.3"/><circle cx="375.6" cy="364.7" r="1.1"/><circle cx="373.2" cy="355.3" r="1.3"/><circle cx="376.7" cy="357.2" r="1.4"/><circle cx="375.5" cy="362.1" r="0.7"/></g>
<path d="M608,630 L608.5,585 L606,560 L604,540 M608,585 L625,575 L645,565 M607,575 L590,565 M606,555 L620,540" stroke="#878787" stroke-width="1.7" fill="none"/>
<g fill="#878787"><circle cx="577.1" cy="558.9" r="0.7"/><circle cx="580.7" cy="512.6" r="1.1"/><circle cx="635.3" cy="535.3" r="0.8"/><circle cx="580.8" cy="539.8" r="1.2"/><circle cx="581.8" cy="529.4" r="1.0"/><circle cx="619.7" cy="518.5" r="1.0"/><circle cx="606.6" cy="497.2" r="1.1"/><circle cx="589.6" cy="568.3" r="0.7"/><circle cx="575.4" cy="526.3" r="0.8"/><circle cx="598.4" cy="561.2" r="0.7"/><circle cx="630.0" cy="569.6" r="0.9"/><circle cx="614.2" cy="580.4" r="1.0"/><circle cx="575.1" cy="547.1" r="0.9"/><circle cx="595.9" cy="530.5" r="1.3"/><circle cx="589.8" cy="487.2" r="0.8"/><circle cx="597.3" cy="578.7" r="1.1"/><circle cx="607.2" cy="488.6" r="0.5"/><circle cx="578.3" cy="571.1" r="1.1"/><circle cx="581.5" cy="544.2" r="0.5"/><circle cx="614.6" cy="509.1" r="0.6"/><circle cx="636.9" cy="555.3" r="0.9"/><circle cx="582.6" cy="549.6" r="0.9"/><circle cx="587.7" cy="516.7" r="0.7"/><circle cx="575.0" cy="551.7" r="1.3"/><circle cx="598.4" cy="500.7" r="1.1"/><circle cx="587.7" cy="517.0" r="1.1"/><circle cx="607.4" cy="487.4" r="0.6"/><circle cx="618.0" cy="588.5" r="1.3"/><circle cx="576.1" cy="529.3" r="0.9"/><circle cx="585.0" cy="549.6" r="0.9"/><circle cx="655.0" cy="567.1" r="0.9"/><circle cx="580.1" cy="527.1" r="0.6"/><circle cx="631.5" cy="553.0" r="1.0"/><circle cx="634.3" cy="565.5" r="0.6"/><circle cx="597.1" cy="475.0" r="1.0"/><circle cx="632.4" cy="512.9" r="1.1"/><circle cx="608.1" cy="468.9" r="0.6"/><circle cx="635.3" cy="573.2" r="1.0"/><circle cx="581.4" cy="574.1" r="1.1"/><circle cx="577.6" cy="514.6" r="1.1"/><circle cx="600.1" cy="574.4" r="1.3"/><circle cx="596.8" cy="578.6" r="1.2"/><circle cx="585.3" cy="531.3" r="0.9"/><circle cx="598.6" cy="513.8" r="0.9"/><circle cx="622.3" cy="495.5" r="0.7"/><circle cx="614.2" cy="529.5" r="0.9"/><circle cx="629.5" cy="491.0" r="1.0"/><circle cx="592.8" cy="561.8" r="1.1"/><circle cx="640.5" cy="531.2" r="0.7"/><circle cx="602.2" cy="503.7" r="0.8"/><circle cx="633.7" cy="567.6" r="0.9"/><circle cx="609.4" cy="511.8" r="0.8"/><circle cx="600.7" cy="559.9" r="1.1"/><circle cx="630.6" cy="545.4" r="1.1"/><circle cx="592.5" cy="475.9" r="0.8"/><circle cx="616.3" cy="549.7" r="1.3"/><circle cx="598.5" cy="481.6" r="1.2"/><circle cx="636.4" cy="527.6" r="0.8"/><circle cx="592.2" cy="527.5" r="1.1"/><circle cx="606.5" cy="506.5" r="1.3"/><circle cx="593.2" cy="580.2" r="1.2"/><circle cx="598.0" cy="571.6" r="1.3"/><circle cx="607.1" cy="491.8" r="1.2"/><circle cx="602.1" cy="483.0" r="1.3"/><circle cx="608.2" cy="516.6" r="1.0"/><circle cx="590.8" cy="471.0" r="0.8"/><circle cx="602.5" cy="469.8" r="0.8"/><circle cx="630.9" cy="544.1" r="0.7"/><circle cx="624.4" cy="504.1" r="0.7"/><circle cx="588.8" cy="539.5" r="1.0"/><circle cx="597.1" cy="472.9" r="0.8"/><circle cx="627.6" cy="541.4" r="0.9"/><circle cx="596.1" cy="518.9" r="0.8"/><circle cx="622.2" cy="514.2" r="0.5"/><circle cx="642.0" cy="566.6" r="0.7"/><circle cx="640.0" cy="526.5" r="1.3"/><circle cx="588.2" cy="544.2" r="1.2"/><circle cx="603.3" cy="565.3" r="0.6"/><circle cx="591.3" cy="559.7" r="0.9"/><circle cx="610.3" cy="494.2" r="0.5"/><circle cx="601.6" cy="520.9" r="0.9"/><circle cx="594.0" cy="553.5" r="0.9"/><circle cx="615.0" cy="528.3" r="0.8"/><circle cx="598.4" cy="543.0" r="1.0"/><circle cx="593.5" cy="478.7" r="1.3"/><circle cx="601.6" cy="482.4" r="1.1"/><circle cx="617.0" cy="508.2" r="0.8"/><circle cx="606.1" cy="584.4" r="0.8"/><circle cx="604.7" cy="488.1" r="1.1"/><circle cx="629.5" cy="522.6" r="0.8"/><circle cx="588.7" cy="564.2" r="0.9"/><circle cx="631.2" cy="550.3" r="0.9"/><circle cx="611.3" cy="492.4" r="0.6"/><circle cx="627.7" cy="552.5" r="0.7"/><circle cx="624.6" cy="489.3" r="0.9"/><circle cx="596.4" cy="535.2" r="0.6"/><circle cx="612.4" cy="543.2" r="0.6"/><circle cx="595.9" cy="550.7" r="1.0"/><circle cx="625.0" cy="562.9" r="1.0"/><circle cx="587.7" cy="522.1" r="1.2"/><circle cx="620.3" cy="559.7" r="0.8"/><circle cx="609.1" cy="585.9" r="1.2"/><circle cx="608.3" cy="569.0" r="1.1"/><circle cx="617.0" cy="572.9" r="0.7"/><circle cx="593.0" cy="579.9" r="1.3"/><circle cx="608.3" cy="564.9" r="0.7"/><circle cx="654.3" cy="566.7" r="1.1"/><circle cx="588.2" cy="479.6" r="1.3"/><circle cx="618.9" cy="542.7" r="1.2"/><circle cx="580.3" cy="553.2" r="0.9"/><circle cx="593.3" cy="558.7" r="1.2"/><circle cx="590.1" cy="552.7" r="0.8"/><circle cx="587.9" cy="494.8" r="1.3"/><circle cx="601.5" cy="530.2" r="0.9"/><circle cx="637.1" cy="574.6" r="0.8"/><circle cx="586.5" cy="510.6" r="1.1"/><circle cx="628.9" cy="517.7" r="0.9"/><circle cx="611.3" cy="529.9" r="1.2"/><circle cx="585.4" cy="556.0" r="0.8"/><circle cx="592.8" cy="545.5" r="0.9"/><circle cx="602.3" cy="538.6" r="0.7"/><circle cx="608.0" cy="468.7" r="1.2"/><circle cx="590.7" cy="569.1" r="1.0"/><circle cx="623.5" cy="544.3" r="0.6"/><circle cx="648.2" cy="563.7" r="1.1"/><circle cx="605.6" cy="530.2" r="0.6"/><circle cx="587.6" cy="573.4" r="0.8"/><circle cx="621.3" cy="491.5" r="0.9"/><circle cx="617.5" cy="521.7" r="0.9"/><circle cx="620.6" cy="533.6" r="0.7"/><circle cx="620.8" cy="547.0" r="0.8"/><circle cx="612.1" cy="476.4" r="1.0"/><circle cx="618.7" cy="557.3" r="0.6"/><circle cx="574.9" cy="527.8" r="0.7"/><circle cx="595.1" cy="524.4" r="0.8"/><circle cx="641.2" cy="556.0" r="0.6"/><circle cx="597.8" cy="481.6" r="1.1"/><circle cx="596.2" cy="477.3" r="1.3"/><circle cx="615.1" cy="521.9" r="0.9"/><circle cx="639.3" cy="569.1" r="0.9"/><circle cx="583.5" cy="517.7" r="1.3"/><circle cx="605.2" cy="548.5" r="1.0"/><circle cx="610.3" cy="538.1" r="0.7"/><circle cx="619.4" cy="573.2" r="0.6"/><circle cx="601.6" cy="575.1" r="1.3"/><circle cx="568.0" cy="544.4" r="1.0"/><circle cx="634.1" cy="556.7" r="0.7"/><circle cx="627.4" cy="548.0" r="1.1"/><circle cx="597.4" cy="540.8" r="0.8"/><circle cx="578.8" cy="549.7" r="0.7"/><circle cx="618.3" cy="566.4" r="0.6"/><circle cx="583.7" cy="516.3" r="0.9"/><circle cx="605.9" cy="483.3" r="0.9"/><circle cx="595.1" cy="585.6" r="0.8"/><circle cx="607.8" cy="496.1" r="1.3"/><circle cx="597.1" cy="546.8" r="1.2"/><circle cx="603.9" cy="560.0" r="0.7"/><circle cx="609.1" cy="574.3" r="0.7"/><circle cx="608.3" cy="560.9" r="0.7"/><circle cx="581.1" cy="531.4" r="0.9"/><circle cx="589.2" cy="536.4" r="0.9"/><circle cx="622.1" cy="554.5" r="0.6"/><circle cx="595.2" cy="555.2" r="0.5"/><circle cx="602.2" cy="483.8" r="0.9"/><circle cx="615.6" cy="485.1" r="1.2"/><circle cx="606.1" cy="499.0" r="0.7"/><circle cx="623.2" cy="573.0" r="0.6"/><circle cx="572.7" cy="552.5" r="1.0"/><circle cx="613.7" cy="491.1" r="0.9"/><circle cx="593.3" cy="539.4" r="0.8"/><circle cx="592.7" cy="546.3" r="0.6"/><circle cx="588.3" cy="482.4" r="0.9"/><circle cx="614.3" cy="555.6" r="0.8"/><circle cx="605.7" cy="576.6" r="0.7"/><circle cx="591.0" cy="567.1" r="1.0"/><circle cx="627.9" cy="566.6" r="1.0"/><circle cx="624.9" cy="492.0" r="0.9"/><circle cx="611.6" cy="547.1" r="1.1"/><circle cx="606.8" cy="513.9" r="1.1"/><circle cx="636.7" cy="547.2" r="0.8"/><circle cx="620.5" cy="530.9" r="0.7"/><circle cx="610.7" cy="570.1" r="0.7"/><circle cx="636.9" cy="555.1" r="1.3"/><circle cx="592.0" cy="563.9" r="0.9"/><circle cx="596.2" cy="513.1" r="1.2"/><circle cx="646.3" cy="570.8" r="1.1"/><circle cx="620.4" cy="494.2" r="0.8"/><circle cx="592.0" cy="516.3" r="0.5"/><circle cx="607.9" cy="514.5" r="0.5"/><circle cx="588.3" cy="499.1" r="0.5"/><circle cx="576.1" cy="554.5" r="1.0"/><circle cx="614.3" cy="498.3" r="0.7"/><circle cx="578.5" cy="571.2" r="0.5"/><circle cx="633.9" cy="566.5" r="1.1"/><circle cx="618.7" cy="566.9" r="0.6"/><circle cx="617.7" cy="500.7" r="0.8"/><circle cx="584.8" cy="554.3" r="1.0"/><circle cx="640.3" cy="544.6" r="1.0"/><circle cx="653.8" cy="566.9" r="1.0"/><circle cx="597.5" cy="580.9" r="0.8"/><circle cx="633.5" cy="581.3" r="1.0"/><circle cx="629.3" cy="582.0" r="1.2"/><circle cx="608.8" cy="524.4" r="1.1"/><circle cx="596.7" cy="481.8" r="1.0"/><circle cx="631.3" cy="576.6" r="0.6"/><circle cx="579.5" cy="528.2" r="0.8"/><circle cx="608.8" cy="564.5" r="1.0"/><circle cx="609.5" cy="470.7" r="0.9"/><circle cx="605.6" cy="584.1" r="0.9"/><circle cx="647.0" cy="562.9" r="1.0"/><circle cx="589.2" cy="505.4" r="0.9"/><circle cx="604.0" cy="546.7" r="0.9"/><circle cx="597.2" cy="542.0" r="1.3"/><circle cx="585.8" cy="509.1" r="0.5"/><circle cx="606.7" cy="569.8" r="1.1"/><circle cx="622.1" cy="538.8" r="0.5"/><circle cx="602.9" cy="500.2" r="1.0"/><circle cx="572.9" cy="534.2" r="0.8"/><circle cx="613.2" cy="517.5" r="0.6"/><circle cx="635.8" cy="565.4" r="1.0"/><circle cx="577.6" cy="541.1" r="1.2"/><circle cx="629.5" cy="502.0" r="1.3"/><circle cx="590.1" cy="538.4" r="0.8"/><circle cx="594.7" cy="560.7" r="1.0"/><circle cx="598.1" cy="534.3" r="1.3"/><circle cx="620.3" cy="579.1" r="1.0"/><circle cx="610.2" cy="535.4" r="1.1"/><circle cx="611.9" cy="545.3" r="1.0"/><circle cx="628.0" cy="565.4" r="0.7"/><circle cx="602.7" cy="495.9" r="1.1"/><circle cx="616.7" cy="541.8" r="0.8"/><circle cx="622.1" cy="584.1" r="1.2"/><circle cx="615.5" cy="515.2" r="0.8"/><circle cx="619.5" cy="562.2" r="1.3"/><circle cx="613.3" cy="581.9" r="0.6"/><circle cx="618.5" cy="580.9" r="0.6"/><circle cx="597.8" cy="487.4" r="0.6"/><circle cx="595.4" cy="553.4" r="1.0"/><circle cx="578.2" cy="565.6" r="0.9"/><circle cx="580.2" cy="567.9" r="1.2"/><circle cx="587.2" cy="582.3" r="1.2"/><circle cx="648.7" cy="568.5" r="0.6"/><circle cx="639.1" cy="562.1" r="1.0"/><circle cx="597.7" cy="569.5" r="1.3"/><circle cx="596.3" cy="551.3" r="1.1"/><circle cx="592.7" cy="499.0" r="1.0"/><circle cx="579.5" cy="572.6" r="1.3"/><circle cx="589.6" cy="552.9" r="1.1"/><circle cx="578.2" cy="562.8" r="1.2"/><circle cx="595.6" cy="480.4" r="0.7"/><circle cx="573.6" cy="559.7" r="0.6"/><circle cx="590.0" cy="548.9" r="1.2"/><circle cx="605.4" cy="522.9" r="0.5"/><circle cx="598.9" cy="497.8" r="1.2"/><circle cx="634.2" cy="563.5" r="1.0"/><circle cx="603.1" cy="504.0" r="0.7"/><circle cx="597.4" cy="502.7" r="1.2"/><circle cx="627.0" cy="526.7" r="0.8"/><circle cx="609.2" cy="537.1" r="1.2"/><circle cx="590.9" cy="499.8" r="0.6"/><circle cx="614.1" cy="561.6" r="0.6"/><circle cx="612.2" cy="514.8" r="1.2"/><circle cx="578.4" cy="545.6" r="1.1"/><circle cx="595.8" cy="530.9" r="0.7"/><circle cx="608.8" cy="525.2" r="1.3"/><circle cx="611.9" cy="585.3" r="0.6"/><circle cx="646.8" cy="567.7" r="0.8"/><circle cx="637.8" cy="525.2" r="0.8"/><circle cx="585.3" cy="565.4" r="1.1"/><circle cx="587.6" cy="513.9" r="0.9"/><circle cx="621.2" cy="576.3" r="1.3"/><circle cx="626.5" cy="512.8" r="0.6"/><circle cx="573.2" cy="531.3" r="1.0"/><circle cx="609.0" cy="587.5" r="0.9"/><circle cx="599.9" cy="519.1" r="0.6"/><circle cx="618.0" cy="520.1" r="0.7"/><circle cx="596.5" cy="528.3" r="0.9"/><circle cx="640.6" cy="576.2" r="0.7"/><circle cx="617.5" cy="533.0" r="0.5"/><circle cx="573.0" cy="549.3" r="1.1"/><circle cx="602.6" cy="579.8" r="1.2"/><circle cx="595.2" cy="476.6" r="1.0"/><circle cx="628.5" cy="495.7" r="0.5"/><circle cx="636.3" cy="544.3" r="0.7"/><circle cx="608.8" cy="496.7" r="0.7"/><circle cx="583.8" cy="567.3" r="0.9"/><circle cx="628.5" cy="516.1" r="1.0"/><circle cx="630.2" cy="533.0" r="1.0"/><circle cx="588.5" cy="570.6" r="0.5"/><circle cx="608.7" cy="573.7" r="1.2"/><circle cx="588.7" cy="553.8" r="0.8"/><circle cx="638.6" cy="537.9" r="1.2"/><circle cx="618.2" cy="515.5" r="1.2"/><circle cx="596.5" cy="493.7" r="1.2"/><circle cx="618.7" cy="560.0" r="0.9"/><circle cx="587.3" cy="525.6" r="0.5"/><circle cx="591.2" cy="549.1" r="1.1"/><circle cx="626.8" cy="522.2" r="1.1"/><circle cx="629.9" cy="493.4" r="1.0"/><circle cx="623.2" cy="556.8" r="0.7"/><circle cx="596.1" cy="510.0" r="0.6"/><circle cx="599.6" cy="556.8" r="1.0"/><circle cx="583.0" cy="557.1" r="0.6"/><circle cx="615.4" cy="501.2" r="1.3"/><circle cx="637.6" cy="552.7" r="1.0"/><circle cx="590.8" cy="583.5" r="1.3"/><circle cx="597.0" cy="492.5" r="0.9"/><circle cx="592.4" cy="494.2" r="0.6"/><circle cx="601.4" cy="483.0" r="0.7"/><circle cx="590.3" cy="538.5" r="0.9"/><circle cx="595.5" cy="532.2" r="1.2"/><circle cx="653.5" cy="564.3" r="1.0"/><circle cx="611.6" cy="508.4" r="0.6"/><circle cx="617.3" cy="569.5" r="0.8"/><circle cx="613.8" cy="549.1" r="0.7"/><circle cx="625.9" cy="520.0" r="1.3"/><circle cx="584.4" cy="554.6" r="0.5"/><circle cx="592.6" cy="482.8" r="0.6"/><circle cx="616.6" cy="489.6" r="1.2"/><circle cx="575.8" cy="543.9" r="1.2"/><circle cx="639.0" cy="525.4" r="1.3"/><circle cx="598.6" cy="516.7" r="1.3"/><circle cx="599.2" cy="585.5" r="1.3"/><circle cx="585.6" cy="534.6" r="1.3"/><circle cx="577.8" cy="571.3" r="1.2"/><circle cx="637.5" cy="541.3" r="0.6"/><circle cx="640.7" cy="556.1" r="0.8"/><circle cx="631.4" cy="518.2" r="1.1"/><circle cx="603.0" cy="565.8" r="0.9"/><circle cx="612.9" cy="478.1" r="1.2"/><circle cx="630.7" cy="520.0" r="1.3"/><circle cx="574.5" cy="553.8" r="1.1"/><circle cx="622.9" cy="567.2" r="0.7"/><circle cx="592.3" cy="473.5" r="0.6"/><circle cx="660.7" cy="558.1" r="0.7"/><circle cx="580.5" cy="577.2" r="1.1"/><circle cx="621.8" cy="484.4" r="0.9"/><circle cx="606.3" cy="475.4" r="1.3"/><circle cx="646.2" cy="557.1" r="0.5"/><circle cx="632.4" cy="528.2" r="0.9"/><circle cx="580.4" cy="530.5" r="1.2"/><circle cx="579.1" cy="574.6" r="0.9"/><circle cx="591.8" cy="497.5" r="0.9"/><circle cx="627.9" cy="537.5" r="1.3"/><circle cx="615.0" cy="530.6" r="1.3"/><circle cx="597.7" cy="506.4" r="0.6"/><circle cx="606.2" cy="472.7" r="1.3"/><circle cx="612.5" cy="574.9" r="1.1"/><circle cx="635.7" cy="560.4" r="0.8"/><circle cx="619.1" cy="540.6" r="1.2"/><circle cx="582.6" cy="510.2" r="1.2"/><circle cx="576.8" cy="556.1" r="1.1"/><circle cx="627.9" cy="562.9" r="0.9"/><circle cx="619.8" cy="580.0" r="1.1"/><circle cx="628.7" cy="539.8" r="0.9"/><circle cx="638.2" cy="537.8" r="0.6"/><circle cx="606.9" cy="519.5" r="0.9"/><circle cx="619.7" cy="512.3" r="0.8"/><circle cx="607.0" cy="513.5" r="1.3"/><circle cx="609.1" cy="540.2" r="0.8"/><circle cx="593.7" cy="524.8" r="0.8"/><circle cx="590.8" cy="553.1" r="1.2"/><circle cx="611.1" cy="515.4" r="0.7"/><circle cx="642.1" cy="573.1" r="1.2"/><circle cx="577.5" cy="540.4" r="1.3"/><circle cx="634.3" cy="524.1" r="0.6"/><circle cx="572.4" cy="557.1" r="0.6"/><circle cx="611.4" cy="576.5" r="1.3"/><circle cx="622.3" cy="519.5" r="0.7"/><circle cx="654.5" cy="556.9" r="0.6"/><circle cx="588.3" cy="510.0" r="1.0"/><circle cx="597.4" cy="521.7" r="1.2"/><circle cx="583.9" cy="555.7" r="0.8"/><circle cx="597.6" cy="541.9" r="0.6"/><circle cx="605.5" cy="544.0" r="1.0"/><circle cx="599.1" cy="472.6" r="0.6"/><circle cx="619.7" cy="489.2" r="0.8"/><circle cx="625.1" cy="577.6" r="0.9"/><circle cx="590.8" cy="539.5" r="0.7"/><circle cx="591.5" cy="521.6" r="1.3"/><circle cx="598.1" cy="516.3" r="1.1"/><circle cx="604.9" cy="526.0" r="0.8"/><circle cx="606.9" cy="580.1" r="0.7"/><circle cx="631.1" cy="514.7" r="0.7"/><circle cx="579.5" cy="575.7" r="0.8"/><circle cx="632.7" cy="524.3" r="0.9"/><circle cx="598.5" cy="551.0" r="1.0"/><circle cx="607.6" cy="476.8" r="0.7"/><circle cx="586.7" cy="568.1" r="1.0"/><circle cx="597.6" cy="498.6" r="0.7"/><circle cx="593.2" cy="510.4" r="1.2"/><circle cx="616.6" cy="568.1" r="1.0"/><circle cx="607.3" cy="497.8" r="1.3"/><circle cx="590.9" cy="571.2" r="0.6"/><circle cx="628.4" cy="511.7" r="1.3"/><circle cx="594.8" cy="480.7" r="0.7"/><circle cx="627.5" cy="551.1" r="0.7"/><circle cx="592.4" cy="479.0" r="1.3"/><circle cx="570.8" cy="542.7" r="0.8"/><circle cx="584.3" cy="521.3" r="1.3"/><circle cx="590.1" cy="488.4" r="1.0"/><circle cx="628.8" cy="530.3" r="0.7"/><circle cx="615.3" cy="526.2" r="1.0"/><circle cx="635.4" cy="576.8" r="0.9"/><circle cx="580.2" cy="541.4" r="1.2"/><circle cx="576.9" cy="551.6" r="1.2"/><circle cx="605.3" cy="487.3" r="1.1"/><circle cx="596.9" cy="484.7" r="0.6"/><circle cx="604.7" cy="483.9" r="0.8"/><circle cx="618.8" cy="535.4" r="0.8"/><circle cx="597.9" cy="581.5" r="1.2"/><circle cx="653.7" cy="561.2" r="1.0"/><circle cx="641.1" cy="537.8" r="0.6"/><circle cx="590.8" cy="480.3" r="1.2"/><circle cx="597.1" cy="517.8" r="1.0"/><circle cx="576.2" cy="554.0" r="1.2"/><circle cx="641.9" cy="575.2" r="0.8"/><circle cx="580.4" cy="560.7" r="1.1"/><circle cx="601.8" cy="510.1" r="0.6"/><circle cx="597.1" cy="530.7" r="1.1"/><circle cx="632.2" cy="517.4" r="1.2"/><circle cx="638.5" cy="535.7" r="0.8"/><circle cx="592.6" cy="575.7" r="1.2"/><circle cx="595.5" cy="478.8" r="0.7"/><circle cx="619.1" cy="533.8" r="0.8"/><circle cx="579.8" cy="549.9" r="1.0"/><circle cx="616.9" cy="561.8" r="0.6"/><circle cx="616.5" cy="577.6" r="1.1"/><circle cx="604.3" cy="526.5" r="0.7"/><circle cx="657.5" cy="563.3" r="1.1"/><circle cx="595.4" cy="557.1" r="0.9"/><circle cx="609.3" cy="536.6" r="1.2"/><circle cx="616.7" cy="584.8" r="0.5"/><circle cx="651.5" cy="555.0" r="0.9"/><circle cx="598.6" cy="555.0" r="1.2"/><circle cx="620.6" cy="507.5" r="0.7"/><circle cx="609.0" cy="478.0" r="1.3"/><circle cx="608.7" cy="505.8" r="1.0"/><circle cx="599.5" cy="586.6" r="1.3"/><circle cx="635.4" cy="568.5" r="0.6"/><circle cx="578.6" cy="519.7" r="1.3"/><circle cx="587.6" cy="495.4" r="0.5"/><circle cx="592.6" cy="475.3" r="0.9"/><circle cx="595.1" cy="550.1" r="1.0"/><circle cx="623.1" cy="504.8" r="1.1"/><circle cx="631.8" cy="555.0" r="0.9"/><circle cx="610.5" cy="503.1" r="0.5"/><circle cx="610.7" cy="543.1" r="0.7"/><circle cx="647.4" cy="567.3" r="0.9"/><circle cx="600.1" cy="510.8" r="1.0"/><circle cx="577.3" cy="570.7" r="0.8"/><circle cx="595.6" cy="489.8" r="1.3"/><circle cx="622.4" cy="568.5" r="0.6"/><circle cx="618.0" cy="557.3" r="1.3"/><circle cx="617.2" cy="584.4" r="0.7"/><circle cx="591.6" cy="536.4" r="0.8"/><circle cx="621.3" cy="581.6" r="1.3"/><circle cx="606.0" cy="582.8" r="0.7"/><circle cx="601.4" cy="539.0" r="0.7"/><circle cx="633.6" cy="547.5" r="0.6"/><circle cx="610.1" cy="564.7" r="1.3"/><circle cx="592.7" cy="531.3" r="1.3"/><circle cx="635.7" cy="549.6" r="1.2"/><circle cx="605.3" cy="536.2" r="1.2"/><circle cx="585.5" cy="572.5" r="0.5"/><circle cx="617.5" cy="538.1" r="0.6"/><circle cx="584.2" cy="518.3" r="1.0"/><circle cx="607.2" cy="468.9" r="0.6"/><circle cx="590.8" cy="566.3" r="1.2"/><circle cx="623.3" cy="512.6" r="0.5"/><circle cx="607.5" cy="497.2" r="1.0"/><circle cx="573.8" cy="552.6" r="0.6"/><circle cx="587.8" cy="521.7" r="1.3"/><circle cx="597.3" cy="506.8" r="0.9"/><circle cx="582.0" cy="517.2" r="1.1"/><circle cx="597.3" cy="564.9" r="0.7"/><circle cx="576.3" cy="544.5" r="0.9"/><circle cx="637.2" cy="549.6" r="0.8"/><circle cx="578.8" cy="542.6" r="1.1"/><circle cx="611.4" cy="525.7" r="1.1"/><circle cx="624.3" cy="519.8" r="0.7"/><circle cx="610.5" cy="535.1" r="1.3"/><circle cx="597.7" cy="495.5" r="1.0"/><circle cx="603.7" cy="582.2" r="0.9"/><circle cx="628.3" cy="573.4" r="0.7"/><circle cx="611.7" cy="558.7" r="1.0"/><circle cx="626.5" cy="493.0" r="1.2"/><circle cx="605.8" cy="584.7" r="0.8"/><circle cx="625.3" cy="534.1" r="0.7"/><circle cx="590.3" cy="507.3" r="1.2"/><circle cx="595.0" cy="542.3" r="1.2"/><circle cx="577.0" cy="562.9" r="0.8"/><circle cx="616.2" cy="519.5" r="0.9"/><circle cx="653.4" cy="557.6" r="1.1"/><circle cx="626.3" cy="506.4" r="0.7"/><circle cx="599.7" cy="476.7" r="1.3"/><circle cx="652.0" cy="567.2" r="0.5"/><circle cx="606.2" cy="482.0" r="1.1"/><circle cx="643.2" cy="564.1" r="1.2"/><circle cx="588.9" cy="572.3" r="0.6"/><circle cx="639.6" cy="565.6" r="1.0"/><circle cx="574.5" cy="559.4" r="0.7"/><circle cx="597.4" cy="509.9" r="1.3"/><circle cx="613.6" cy="553.5" r="0.9"/><circle cx="605.8" cy="558.6" r="1.1"/><circle cx="646.9" cy="557.8" r="1.0"/><circle cx="605.3" cy="537.2" r="0.6"/><circle cx="634.4" cy="557.1" r="1.0"/><circle cx="586.2" cy="555.9" r="1.2"/><circle cx="625.2" cy="496.0" r="1.0"/><circle cx="604.0" cy="501.1" r="0.6"/><circle cx="591.7" cy="530.2" r="0.6"/><circle cx="595.3" cy="533.9" r="0.9"/><circle cx="626.9" cy="539.4" r="1.2"/><circle cx="587.7" cy="548.2" r="0.6"/><circle cx="602.8" cy="493.4" r="0.5"/><circle cx="591.3" cy="498.0" r="0.8"/><circle cx="605.9" cy="512.1" r="0.8"/><circle cx="636.5" cy="528.2" r="0.5"/><circle cx="588.7" cy="577.6" r="0.9"/><circle cx="586.1" cy="567.8" r="1.3"/><circle cx="578.2" cy="529.2" r="1.0"/><circle cx="625.1" cy="550.1" r="1.0"/><circle cx="625.3" cy="514.3" r="0.6"/><circle cx="573.9" cy="561.7" r="0.6"/><circle cx="599.4" cy="492.8" r="1.2"/><circle cx="644.1" cy="569.3" r="0.8"/><circle cx="621.0" cy="550.0" r="0.7"/><circle cx="602.8" cy="480.6" r="1.2"/><circle cx="593.0" cy="546.0" r="1.0"/><circle cx="616.3" cy="571.9" r="1.1"/><circle cx="586.5" cy="533.3" r="0.6"/><circle cx="589.5" cy="486.3" r="0.6"/><circle cx="599.8" cy="575.9" r="1.1"/><circle cx="622.6" cy="532.7" r="0.5"/><circle cx="575.6" cy="537.0" r="1.0"/><circle cx="574.3" cy="562.1" r="0.7"/><circle cx="622.4" cy="532.6" r="0.8"/><circle cx="606.7" cy="533.9" r="1.2"/><circle cx="617.6" cy="555.3" r="1.0"/><circle cx="620.4" cy="521.7" r="0.7"/><circle cx="633.8" cy="527.8" r="0.9"/><circle cx="633.5" cy="556.3" r="1.3"/><circle cx="591.6" cy="549.5" r="0.9"/><circle cx="600.5" cy="471.6" r="0.9"/><circle cx="617.0" cy="505.8" r="0.6"/><circle cx="612.4" cy="477.0" r="0.6"/><circle cx="608.7" cy="510.7" r="0.9"/><circle cx="616.8" cy="515.5" r="0.6"/><circle cx="568.4" cy="536.2" r="1.3"/><circle cx="593.3" cy="511.1" r="0.8"/><circle cx="636.9" cy="528.2" r="1.2"/><circle cx="586.2" cy="513.2" r="0.8"/><circle cx="603.1" cy="585.4" r="0.9"/><circle cx="621.1" cy="585.2" r="1.0"/><circle cx="622.9" cy="568.8" r="0.8"/><circle cx="617.2" cy="539.0" r="0.6"/><circle cx="627.5" cy="502.8" r="1.3"/><circle cx="601.6" cy="501.9" r="1.3"/><circle cx="587.7" cy="501.3" r="0.9"/><circle cx="586.6" cy="564.9" r="0.6"/><circle cx="605.9" cy="563.3" r="1.1"/><circle cx="591.1" cy="486.7" r="0.9"/><circle cx="612.1" cy="525.2" r="0.6"/><circle cx="591.6" cy="580.1" r="1.1"/><circle cx="614.8" cy="542.3" r="1.2"/><circle cx="579.6" cy="530.5" r="1.0"/><circle cx="610.2" cy="525.4" r="0.6"/><circle cx="634.6" cy="533.6" r="0.8"/><circle cx="609.2" cy="499.6" r="1.1"/><circle cx="614.5" cy="585.7" r="1.3"/><circle cx="609.3" cy="481.2" r="0.9"/><circle cx="615.6" cy="563.6" r="0.7"/><circle cx="567.8" cy="542.5" r="0.6"/><circle cx="615.4" cy="533.8" r="0.6"/><circle cx="621.5" cy="522.5" r="0.8"/><circle cx="578.5" cy="564.4" r="1.1"/><circle cx="624.4" cy="544.1" r="1.2"/><circle cx="591.7" cy="573.5" r="0.6"/><circle cx="619.8" cy="542.2" r="0.5"/><circle cx="624.0" cy="542.8" r="1.2"/><circle cx="615.6" cy="482.3" r="0.7"/><circle cx="600.4" cy="585.2" r="1.0"/><circle cx="589.3" cy="537.0" r="1.2"/><circle cx="601.5" cy="521.1" r="1.0"/><circle cx="583.8" cy="539.0" r="0.8"/><circle cx="611.4" cy="554.8" r="0.5"/><circle cx="614.7" cy="506.5" r="1.0"/><circle cx="626.2" cy="503.5" r="0.7"/><circle cx="614.9" cy="533.0" r="0.7"/><circle cx="639.0" cy="529.0" r="0.8"/><circle cx="590.7" cy="569.8" r="1.3"/><circle cx="573.4" cy="545.0" r="0.5"/><circle cx="598.5" cy="522.0" r="1.1"/><circle cx="581.8" cy="512.7" r="1.2"/><circle cx="631.0" cy="539.4" r="0.6"/><circle cx="587.2" cy="499.6" r="0.5"/><circle cx="627.2" cy="537.9" r="1.3"/><circle cx="619.1" cy="579.7" r="0.9"/><circle cx="615.6" cy="502.6" r="0.9"/><circle cx="585.4" cy="544.0" r="0.9"/><circle cx="611.7" cy="580.8" r="1.1"/><circle cx="632.9" cy="540.8" r="1.1"/><circle cx="609.4" cy="569.7" r="1.0"/><circle cx="582.2" cy="554.1" r="1.3"/><circle cx="610.5" cy="566.6" r="0.8"/><circle cx="580.3" cy="573.3" r="1.1"/><circle cx="619.4" cy="584.0" r="1.0"/><circle cx="621.1" cy="490.5" r="0.8"/><circle cx="580.8" cy="524.7" r="0.5"/><circle cx="628.7" cy="546.8" r="1.3"/><circle cx="574.4" cy="553.8" r="0.6"/><circle cx="597.6" cy="548.7" r="1.1"/><circle cx="610.2" cy="501.9" r="0.9"/><circle cx="581.6" cy="527.1" r="1.1"/><circle cx="574.8" cy="527.4" r="1.2"/><circle cx="633.2" cy="543.7" r="0.9"/><circle cx="629.5" cy="531.7" r="0.7"/><circle cx="596.0" cy="571.6" r="1.0"/><circle cx="615.0" cy="554.5" r="0.9"/><circle cx="603.0" cy="535.4" r="0.5"/><circle cx="599.9" cy="473.3" r="1.3"/><circle cx="581.7" cy="572.1" r="0.7"/><circle cx="623.9" cy="558.3" r="0.7"/><circle cx="638.2" cy="570.2" r="0.7"/><circle cx="605.5" cy="512.3" r="0.6"/><circle cx="613.0" cy="534.5" r="1.2"/><circle cx="631.6" cy="533.2" r="0.9"/><circle cx="591.1" cy="495.5" r="1.1"/><circle cx="598.9" cy="582.0" r="1.3"/><circle cx="615.3" cy="481.1" r="0.8"/><circle cx="573.7" cy="529.2" r="1.3"/><circle cx="592.8" cy="581.3" r="0.5"/><circle cx="646.6" cy="572.2" r="0.6"/><circle cx="603.5" cy="520.0" r="1.0"/><circle cx="616.5" cy="573.6" r="1.3"/><circle cx="601.1" cy="525.7" r="1.3"/><circle cx="585.1" cy="545.4" r="0.6"/><circle cx="619.7" cy="558.0" r="0.6"/><circle cx="644.8" cy="564.2" r="1.3"/><circle cx="634.4" cy="534.8" r="1.2"/><circle cx="598.7" cy="507.9" r="1.2"/><circle cx="600.6" cy="515.5" r="1.2"/><circle cx="617.1" cy="544.8" r="0.9"/><circle cx="610.2" cy="584.4" r="0.7"/><circle cx="616.4" cy="526.5" r="0.6"/><circle cx="580.5" cy="529.9" r="1.2"/><circle cx="607.5" cy="475.7" r="1.3"/><circle cx="579.7" cy="575.6" r="0.5"/><circle cx="591.3" cy="519.5" r="1.1"/><circle cx="607.8" cy="519.2" r="0.8"/><circle cx="615.9" cy="502.5" r="1.3"/><circle cx="618.5" cy="511.0" r="1.1"/><circle cx="570.4" cy="550.4" r="0.8"/><circle cx="607.6" cy="506.9" r="1.0"/><circle cx="593.2" cy="549.6" r="0.8"/><circle cx="609.8" cy="536.0" r="1.1"/><circle cx="628.4" cy="520.5" r="0.6"/><circle cx="629.3" cy="509.8" r="1.3"/><circle cx="588.8" cy="498.3" r="0.7"/><circle cx="580.3" cy="551.1" r="1.0"/><circle cx="590.4" cy="566.6" r="1.1"/><circle cx="607.2" cy="542.1" r="1.1"/><circle cx="608.4" cy="479.6" r="0.8"/><circle cx="639.8" cy="573.2" r="0.8"/><circle cx="601.9" cy="530.6" r="0.7"/><circle cx="631.6" cy="530.2" r="1.3"/><circle cx="624.9" cy="543.5" r="0.9"/><circle cx="606.8" cy="486.1" r="1.0"/><circle cx="592.7" cy="483.3" r="1.2"/><circle cx="621.0" cy="574.6" r="0.7"/><circle cx="621.2" cy="502.0" r="1.2"/><circle cx="586.5" cy="546.9" r="1.0"/><circle cx="597.5" cy="478.2" r="0.9"/><circle cx="616.1" cy="567.6" r="0.7"/><circle cx="574.5" cy="554.3" r="0.9"/><circle cx="577.4" cy="525.8" r="1.3"/><circle cx="603.7" cy="536.0" r="0.9"/><circle cx="599.5" cy="502.9" r="0.7"/><circle cx="602.5" cy="541.5" r="1.0"/><circle cx="628.5" cy="542.7" r="1.3"/><circle cx="629.1" cy="531.7" r="0.5"/><circle cx="587.2" cy="517.7" r="0.6"/><circle cx="621.6" cy="495.0" r="1.1"/><circle cx="583.1" cy="552.0" r="1.0"/><circle cx="594.6" cy="551.2" r="0.8"/><circle cx="651.2" cy="568.4" r="1.1"/><circle cx="623.4" cy="500.2" r="1.3"/><circle cx="598.7" cy="568.0" r="1.1"/><circle cx="646.1" cy="565.6" r="0.9"/><circle cx="604.0" cy="564.8" r="1.1"/><circle cx="617.7" cy="574.3" r="0.5"/><circle cx="588.0" cy="484.7" r="1.1"/><circle cx="630.7" cy="518.2" r="1.0"/><circle cx="619.0" cy="583.4" r="0.9"/><circle cx="617.7" cy="524.5" r="0.9"/><circle cx="632.1" cy="581.0" r="1.1"/><circle cx="618.0" cy="511.3" r="0.6"/><circle cx="575.4" cy="533.8" r="1.2"/><circle cx="637.5" cy="566.2" r="0.9"/><circle cx="598.4" cy="530.8" r="1.1"/><circle cx="609.1" cy="505.1" r="1.2"/><circle cx="603.7" cy="519.3" r="0.7"/><circle cx="612.3" cy="554.0" r="0.8"/><circle cx="629.3" cy="528.2" r="0.5"/><circle cx="618.3" cy="584.6" r="0.7"/><circle cx="581.2" cy="571.6" r="0.9"/><circle cx="615.0" cy="489.6" r="0.8"/><circle cx="588.7" cy="540.9" r="0.6"/><circle cx="615.8" cy="547.0" r="0.6"/><circle cx="618.5" cy="506.0" r="1.1"/><circle cx="624.9" cy="578.6" r="1.0"/><circle cx="633.2" cy="566.6" r="0.6"/><circle cx="606.1" cy="502.8" r="0.9"/><circle cx="637.0" cy="561.1" r="0.7"/><circle cx="625.2" cy="513.9" r="0.9"/><circle cx="616.8" cy="549.3" r="0.6"/><circle cx="596.3" cy="571.3" r="1.3"/><circle cx="601.4" cy="583.8" r="0.5"/><circle cx="582.0" cy="559.6" r="0.5"/><circle cx="599.4" cy="557.9" r="0.9"/><circle cx="582.9" cy="579.6" r="1.3"/><circle cx="620.1" cy="532.3" r="0.6"/><circle cx="597.0" cy="495.2" r="0.7"/><circle cx="624.7" cy="507.8" r="1.2"/><circle cx="620.9" cy="568.7" r="0.6"/><circle cx="626.4" cy="497.4" r="1.1"/><circle cx="605.1" cy="555.9" r="1.0"/><circle cx="626.4" cy="534.5" r="1.1"/><circle cx="597.8" cy="526.3" r="0.9"/><circle cx="614.9" cy="499.9" r="1.0"/><circle cx="591.2" cy="493.5" r="0.7"/><circle cx="649.9" cy="557.6" r="0.7"/><circle cx="577.3" cy="531.3" r="0.9"/><circle cx="630.1" cy="503.5" r="1.3"/><circle cx="595.5" cy="554.6" r="1.2"/><circle cx="610.7" cy="577.7" r="1.2"/><circle cx="620.9" cy="557.5" r="1.1"/><circle cx="604.5" cy="528.9" r="0.9"/><circle cx="587.1" cy="500.1" r="1.2"/><circle cx="646.7" cy="553.0" r="1.1"/><circle cx="614.9" cy="537.9" r="1.1"/><circle cx="610.9" cy="477.9" r="0.7"/><circle cx="642.2" cy="565.1" r="1.2"/><circle cx="591.0" cy="581.3" r="0.8"/><circle cx="609.3" cy="583.6" r="1.0"/><circle cx="576.7" cy="568.3" r="0.7"/><circle cx="584.8" cy="554.6" r="0.8"/><circle cx="645.4" cy="563.8" r="1.0"/><circle cx="636.6" cy="536.7" r="0.6"/><circle cx="589.5" cy="526.0" r="0.5"/><circle cx="579.4" cy="576.1" r="0.6"/><circle cx="637.5" cy="564.7" r="0.8"/><circle cx="617.9" cy="588.6" r="1.0"/><circle cx="603.3" cy="586.7" r="0.7"/><circle cx="606.5" cy="506.7" r="1.1"/><circle cx="650.1" cy="552.0" r="0.7"/><circle cx="614.5" cy="571.4" r="0.6"/><circle cx="623.2" cy="563.7" r="1.2"/><circle cx="611.9" cy="501.0" r="1.0"/><circle cx="604.2" cy="523.7" r="1.0"/><circle cx="622.3" cy="576.3" r="0.7"/><circle cx="592.7" cy="490.8" r="0.6"/><circle cx="595.4" cy="476.6" r="0.7"/><circle cx="590.7" cy="525.8" r="1.1"/><circle cx="597.9" cy="479.5" r="0.6"/><circle cx="576.4" cy="565.3" r="1.2"/><circle cx="595.0" cy="567.8" r="0.6"/><circle cx="587.6" cy="579.3" r="1.1"/><circle cx="629.6" cy="549.9" r="0.7"/><circle cx="611.7" cy="494.2" r="1.2"/><circle cx="626.3" cy="552.2" r="1.0"/><circle cx="640.3" cy="530.9" r="1.0"/><circle cx="613.2" cy="560.0" r="1.0"/><circle cx="592.9" cy="531.0" r="0.7"/><circle cx="649.0" cy="555.6" r="0.7"/><circle cx="614.7" cy="539.1" r="1.0"/><circle cx="610.2" cy="530.2" r="1.1"/><circle cx="596.3" cy="511.4" r="0.9"/><circle cx="632.8" cy="580.5" r="0.6"/><circle cx="626.2" cy="584.6" r="0.8"/><circle cx="649.6" cy="565.8" r="0.8"/><circle cx="580.3" cy="566.2" r="0.9"/><circle cx="599.8" cy="524.7" r="1.1"/><circle cx="601.6" cy="469.3" r="0.7"/><circle cx="598.9" cy="490.0" r="0.9"/><circle cx="579.2" cy="547.6" r="0.8"/><circle cx="590.0" cy="551.6" r="0.8"/><circle cx="638.0" cy="574.9" r="0.7"/><circle cx="591.6" cy="552.8" r="0.6"/><circle cx="593.5" cy="519.8" r="1.3"/><circle cx="580.4" cy="540.2" r="0.6"/><circle cx="658.5" cy="559.0" r="1.2"/><circle cx="589.5" cy="473.3" r="1.0"/><circle cx="583.2" cy="579.9" r="1.2"/><circle cx="602.7" cy="566.1" r="0.6"/><circle cx="635.0" cy="529.9" r="1.1"/><circle cx="586.7" cy="571.5" r="1.1"/><circle cx="581.3" cy="556.4" r="0.5"/><circle cx="610.8" cy="499.6" r="1.1"/><circle cx="634.6" cy="551.3" r="0.7"/><circle cx="570.8" cy="546.0" r="1.1"/><circle cx="615.7" cy="547.3" r="1.3"/><circle cx="628.1" cy="530.9" r="1.2"/><circle cx="618.4" cy="518.6" r="0.8"/><circle cx="603.9" cy="495.3" r="0.8"/><circle cx="637.3" cy="575.7" r="0.9"/><circle cx="615.4" cy="558.7" r="1.2"/><circle cx="603.3" cy="488.8" r="1.3"/><circle cx="624.3" cy="547.6" r="0.8"/><circle cx="577.4" cy="537.6" r="0.8"/><circle cx="638.1" cy="537.5" r="1.1"/><circle cx="621.6" cy="540.8" r="0.7"/><circle cx="575.3" cy="553.9" r="1.1"/><circle cx="629.7" cy="499.4" r="0.9"/><circle cx="639.3" cy="546.1" r="1.3"/><circle cx="575.1" cy="562.3" r="0.5"/><circle cx="625.8" cy="533.2" r="0.6"/><circle cx="606.3" cy="549.4" r="1.2"/><circle cx="574.0" cy="530.2" r="1.2"/><circle cx="587.4" cy="519.2" r="1.1"/><circle cx="606.3" cy="471.3" r="0.6"/><circle cx="595.0" cy="532.2" r="0.9"/><circle cx="630.6" cy="517.5" r="0.6"/><circle cx="611.9" cy="513.6" r="1.3"/><circle cx="573.8" cy="535.3" r="1.3"/><circle cx="617.7" cy="511.8" r="1.3"/><circle cx="633.5" cy="541.7" r="0.7"/><circle cx="608.0" cy="532.3" r="0.8"/><circle cx="606.5" cy="588.0" r="0.8"/><circle cx="614.5" cy="559.8" r="1.2"/><circle cx="600.0" cy="557.9" r="0.5"/><circle cx="624.8" cy="570.3" r="1.3"/><circle cx="609.0" cy="572.1" r="0.5"/><circle cx="574.6" cy="531.8" r="1.0"/><circle cx="620.4" cy="585.8" r="0.7"/><circle cx="630.3" cy="521.8" r="0.9"/><circle cx="610.9" cy="483.6" r="0.6"/><circle cx="593.1" cy="489.5" r="1.3"/><circle cx="600.9" cy="574.5" r="1.0"/><circle cx="633.9" cy="522.8" r="0.7"/><circle cx="620.0" cy="506.2" r="1.2"/><circle cx="570.7" cy="545.6" r="0.8"/><circle cx="606.4" cy="534.2" r="1.3"/><circle cx="616.4" cy="536.8" r="0.7"/><circle cx="625.6" cy="552.7" r="1.0"/><circle cx="579.1" cy="524.1" r="0.6"/><circle cx="602.6" cy="484.9" r="0.9"/><circle cx="572.4" cy="542.0" r="0.7"/><circle cx="587.3" cy="545.6" r="1.3"/><circle cx="621.7" cy="527.5" r="0.9"/><circle cx="616.2" cy="509.1" r="1.3"/><circle cx="598.8" cy="570.9" r="1.2"/><circle cx="613.9" cy="570.7" r="0.6"/><circle cx="613.1" cy="523.4" r="1.3"/><circle cx="613.6" cy="481.2" r="1.1"/><circle cx="615.8" cy="488.8" r="1.2"/><circle cx="589.2" cy="506.0" r="1.2"/><circle cx="576.4" cy="550.1" r="1.3"/><circle cx="589.7" cy="557.5" r="1.0"/><circle cx="638.0" cy="525.7" r="1.3"/><circle cx="590.7" cy="491.7" r="1.0"/><circle cx="622.9" cy="531.3" r="1.2"/><circle cx="616.7" cy="506.6" r="1.1"/><circle cx="612.6" cy="485.4" r="1.1"/><circle cx="607.5" cy="570.1" r="1.1"/><circle cx="623.0" cy="586.5" r="1.2"/><circle cx="598.6" cy="481.0" r="1.3"/><circle cx="637.2" cy="540.7" r="0.7"/><circle cx="574.1" cy="558.5" r="0.9"/><circle cx="578.5" cy="536.2" r="0.7"/><circle cx="591.5" cy="574.6" r="1.0"/><circle cx="637.4" cy="567.4" r="0.9"/><circle cx="609.3" cy="520.8" r="0.8"/><circle cx="640.3" cy="575.6" r="0.8"/><circle cx="597.0" cy="560.6" r="1.2"/><circle cx="607.7" cy="501.7" r="0.8"/><circle cx="616.6" cy="532.3" r="0.8"/><circle cx="572.4" cy="544.9" r="1.1"/><circle cx="632.4" cy="516.5" r="1.2"/><circle cx="616.1" cy="496.1" r="0.9"/><circle cx="573.3" cy="547.9" r="0.9"/><circle cx="617.6" cy="570.3" r="1.0"/><circle cx="653.7" cy="564.4" r="1.3"/><circle cx="616.2" cy="563.3" r="0.5"/><circle cx="617.7" cy="537.3" r="1.1"/><circle cx="599.0" cy="541.9" r="1.1"/><circle cx="602.8" cy="551.0" r="1.3"/><circle cx="601.6" cy="532.2" r="0.9"/><circle cx="593.7" cy="516.0" r="1.1"/><circle cx="614.2" cy="557.0" r="0.9"/><circle cx="610.1" cy="472.0" r="0.7"/><circle cx="598.6" cy="547.2" r="0.6"/><circle cx="612.5" cy="501.3" r="1.0"/><circle cx="631.7" cy="531.2" r="1.1"/><circle cx="628.8" cy="527.1" r="1.1"/><circle cx="609.7" cy="528.8" r="0.8"/><circle cx="588.4" cy="552.3" r="1.0"/><circle cx="594.4" cy="538.5" r="0.8"/><circle cx="582.9" cy="522.4" r="0.7"/><circle cx="630.4" cy="575.7" r="0.6"/><circle cx="596.0" cy="484.7" r="0.9"/><circle cx="601.1" cy="556.6" r="1.3"/><circle cx="624.4" cy="575.5" r="1.3"/><circle cx="651.9" cy="552.9" r="1.1"/><circle cx="573.1" cy="543.4" r="0.5"/><circle cx="636.3" cy="564.7" r="0.8"/><circle cx="601.3" cy="508.3" r="1.2"/><circle cx="607.1" cy="522.1" r="0.8"/><circle cx="611.0" cy="572.0" r="0.8"/><circle cx="606.6" cy="565.6" r="1.3"/><circle cx="638.1" cy="553.8" r="1.2"/><circle cx="616.9" cy="515.5" r="0.5"/><circle cx="616.5" cy="511.5" r="0.5"/><circle cx="600.7" cy="563.4" r="1.1"/><circle cx="630.3" cy="527.6" r="0.6"/><circle cx="645.3" cy="560.7" r="0.9"/><circle cx="619.8" cy="565.9" r="0.9"/><circle cx="611.6" cy="527.2" r="1.1"/><circle cx="630.4" cy="514.2" r="1.3"/><circle cx="655.5" cy="562.7" r="0.8"/><circle cx="599.9" cy="521.0" r="1.0"/><circle cx="569.9" cy="534.5" r="1.3"/><circle cx="635.0" cy="555.5" r="1.1"/><circle cx="606.5" cy="482.8" r="1.2"/><circle cx="649.6" cy="555.9" r="0.7"/><circle cx="613.9" cy="530.8" r="0.8"/><circle cx="613.0" cy="523.9" r="1.3"/><circle cx="623.2" cy="536.7" r="1.1"/><circle cx="595.1" cy="550.6" r="0.8"/><circle cx="627.8" cy="569.1" r="1.3"/><circle cx="603.6" cy="556.5" r="1.2"/><circle cx="601.0" cy="519.3" r="0.8"/><circle cx="599.0" cy="518.4" r="1.2"/><circle cx="627.4" cy="504.8" r="1.1"/><circle cx="613.9" cy="495.0" r="0.7"/><circle cx="609.0" cy="546.0" r="0.7"/><circle cx="621.1" cy="490.9" r="1.0"/><circle cx="597.4" cy="500.3" r="1.1"/><circle cx="600.8" cy="558.4" r="1.1"/><circle cx="602.2" cy="472.3" r="1.2"/><circle cx="618.8" cy="538.7" r="1.1"/><circle cx="618.5" cy="578.3" r="0.5"/><circle cx="605.2" cy="578.4" r="1.3"/><circle cx="625.6" cy="518.4" r="1.0"/><circle cx="590.4" cy="473.0" r="0.6"/><circle cx="592.0" cy="532.6" r="1.3"/><circle cx="602.0" cy="546.0" r="0.8"/><circle cx="570.8" cy="538.7" r="1.1"/><circle cx="654.2" cy="552.1" r="0.6"/><circle cx="605.4" cy="475.2" r="0.6"/><circle cx="600.0" cy="574.8" r="1.3"/><circle cx="637.9" cy="545.7" r="1.0"/><circle cx="615.0" cy="547.9" r="0.9"/><circle cx="604.3" cy="569.8" r="0.8"/><circle cx="605.0" cy="550.8" r="1.3"/><circle cx="599.3" cy="521.0" r="0.8"/><circle cx="586.5" cy="511.5" r="1.2"/><circle cx="584.4" cy="526.3" r="0.7"/><circle cx="621.3" cy="562.1" r="0.6"/><circle cx="612.7" cy="491.2" r="1.0"/><circle cx="630.7" cy="495.3" r="0.7"/><circle cx="595.3" cy="508.3" r="1.3"/><circle cx="649.3" cy="564.3" r="0.8"/><circle cx="609.9" cy="492.9" r="0.9"/><circle cx="604.0" cy="492.2" r="1.2"/><circle cx="595.2" cy="527.5" r="0.5"/><circle cx="632.0" cy="530.7" r="1.2"/><circle cx="634.9" cy="558.6" r="0.7"/><circle cx="590.4" cy="540.9" r="0.5"/><circle cx="655.2" cy="555.8" r="0.9"/><circle cx="600.8" cy="477.9" r="1.0"/><circle cx="576.1" cy="551.5" r="0.9"/><circle cx="597.1" cy="533.5" r="1.0"/><circle cx="609.3" cy="567.5" r="1.1"/><circle cx="614.4" cy="534.3" r="1.0"/><circle cx="609.0" cy="487.8" r="1.2"/><circle cx="619.3" cy="558.2" r="1.1"/><circle cx="625.5" cy="579.2" r="0.5"/><circle cx="598.2" cy="488.3" r="1.0"/><circle cx="617.8" cy="523.6" r="0.9"/><circle cx="590.7" cy="479.6" r="0.5"/><circle cx="581.0" cy="517.0" r="0.6"/><circle cx="610.5" cy="488.3" r="1.1"/><circle cx="574.6" cy="547.2" r="1.1"/><circle cx="612.3" cy="576.4" r="0.6"/><circle cx="634.8" cy="578.3" r="1.3"/><circle cx="615.1" cy="571.3" r="0.8"/><circle cx="590.8" cy="472.3" r="0.7"/><circle cx="595.9" cy="511.2" r="1.3"/><circle cx="632.0" cy="521.0" r="0.6"/><circle cx="601.2" cy="503.7" r="1.3"/><circle cx="606.5" cy="586.3" r="0.7"/><circle cx="623.0" cy="502.9" r="1.2"/><circle cx="607.3" cy="587.6" r="1.0"/><circle cx="602.3" cy="552.2" r="1.1"/><circle cx="631.7" cy="560.7" r="0.7"/><circle cx="618.1" cy="481.4" r="1.2"/><circle cx="636.1" cy="520.4" r="0.7"/><circle cx="607.0" cy="542.0" r="1.2"/><circle cx="631.7" cy="546.9" r="1.2"/><circle cx="627.3" cy="505.6" r="1.3"/><circle cx="593.1" cy="527.3" r="0.9"/><circle cx="651.0" cy="556.1" r="1.0"/><circle cx="637.5" cy="534.6" r="0.5"/><circle cx="587.5" cy="547.3" r="0.6"/><circle cx="627.5" cy="510.5" r="0.8"/><circle cx="644.5" cy="570.3" r="1.1"/><circle cx="608.9" cy="533.4" r="1.3"/><circle cx="629.0" cy="492.3" r="1.1"/><circle cx="601.9" cy="553.7" r="0.8"/><circle cx="582.4" cy="523.7" r="0.6"/><circle cx="611.5" cy="480.5" r="1.1"/><circle cx="586.8" cy="581.8" r="0.6"/><circle cx="626.4" cy="546.4" r="0.7"/><circle cx="626.0" cy="535.0" r="1.0"/><circle cx="584.2" cy="526.2" r="1.2"/><circle cx="625.1" cy="498.0" r="0.8"/><circle cx="611.9" cy="530.7" r="0.9"/><circle cx="594.3" cy="523.2" r="0.5"/><circle cx="596.7" cy="477.8" r="0.8"/><circle cx="615.9" cy="559.7" r="0.9"/><circle cx="579.4" cy="549.9" r="0.6"/><circle cx="605.1" cy="535.7" r="1.0"/><circle cx="601.6" cy="557.8" r="1.2"/><circle cx="610.3" cy="579.4" r="0.6"/><circle cx="599.7" cy="543.1" r="1.3"/><circle cx="610.3" cy="532.6" r="1.2"/><circle cx="575.8" cy="540.9" r="0.8"/><circle cx="638.1" cy="555.0" r="0.9"/><circle cx="581.1" cy="561.1" r="1.1"/><circle cx="620.0" cy="558.8" r="1.3"/><circle cx="589.8" cy="552.0" r="1.2"/><circle cx="591.8" cy="577.9" r="0.8"/><circle cx="610.0" cy="539.6" r="1.2"/><circle cx="606.0" cy="577.4" r="0.7"/><circle cx="615.9" cy="486.1" r="0.6"/><circle cx="594.2" cy="474.3" r="1.0"/><circle cx="625.3" cy="516.4" r="1.2"/><circle cx="618.3" cy="551.3" r="0.6"/><circle cx="597.9" cy="471.1" r="0.6"/><circle cx="623.0" cy="514.2" r="1.1"/><circle cx="649.1" cy="569.0" r="1.3"/><circle cx="593.0" cy="508.3" r="0.9"/><circle cx="622.7" cy="517.8" r="0.8"/><circle cx="605.1" cy="555.2" r="0.9"/><circle cx="634.1" cy="574.6" r="0.6"/><circle cx="585.0" cy="567.1" r="0.8"/><circle cx="607.2" cy="541.1" r="0.5"/><circle cx="650.0" cy="559.3" r="0.7"/><circle cx="604.8" cy="518.9" r="1.1"/><circle cx="593.6" cy="511.5" r="0.9"/><circle cx="589.1" cy="520.5" r="1.1"/><circle cx="599.7" cy="537.6" r="0.7"/><circle cx="603.3" cy="536.3" r="0.8"/><circle cx="584.0" cy="574.5" r="0.6"/><circle cx="619.1" cy="534.5" r="0.8"/><circle cx="625.8" cy="575.5" r="0.8"/><circle cx="597.3" cy="552.1" r="1.0"/><circle cx="599.1" cy="552.2" r="1.3"/><circle cx="610.8" cy="563.9" r="0.6"/><circle cx="627.1" cy="508.4" r="1.1"/><circle cx="594.8" cy="491.1" r="0.7"/><circle cx="635.1" cy="554.8" r="1.3"/><circle cx="605.8" cy="476.4" r="1.2"/><circle cx="590.9" cy="555.4" r="0.9"/><circle cx="608.7" cy="472.2" r="0.7"/><circle cx="637.4" cy="524.2" r="1.2"/><circle cx="604.6" cy="533.1" r="0.5"/><circle cx="621.5" cy="501.3" r="0.8"/><circle cx="610.7" cy="503.6" r="0.6"/><circle cx="629.7" cy="544.3" r="0.6"/><circle cx="587.8" cy="502.6" r="0.8"/><circle cx="613.0" cy="577.9" r="0.6"/><circle cx="621.0" cy="544.1" r="0.7"/><circle cx="600.3" cy="522.4" r="1.3"/><circle cx="603.6" cy="545.9" r="0.5"/><circle cx="627.9" cy="551.5" r="0.6"/><circle cx="606.1" cy="572.2" r="0.7"/><circle cx="616.8" cy="510.4" r="1.0"/><circle cx="603.6" cy="510.2" r="1.3"/><circle cx="598.3" cy="525.0" r="0.8"/><circle cx="617.9" cy="501.2" r="1.3"/><circle cx="601.3" cy="583.9" r="1.0"/><circle cx="598.9" cy="535.2" r="1.3"/><circle cx="632.2" cy="568.3" r="1.0"/><circle cx="628.0" cy="505.3" r="1.1"/><circle cx="616.5" cy="507.3" r="1.3"/><circle cx="646.1" cy="552.8" r="0.8"/><circle cx="630.1" cy="521.2" r="0.9"/><circle cx="610.7" cy="565.8" r="0.5"/><circle cx="604.5" cy="498.8" r="1.0"/><circle cx="600.2" cy="542.0" r="1.3"/><circle cx="605.5" cy="482.4" r="0.5"/><circle cx="608.4" cy="472.1" r="0.6"/><circle cx="611.4" cy="537.9" r="0.7"/><circle cx="627.7" cy="545.9" r="1.3"/><circle cx="637.1" cy="567.1" r="1.2"/><circle cx="569.1" cy="539.5" r="1.2"/><circle cx="626.4" cy="541.6" r="0.9"/><circle cx="600.0" cy="528.5" r="0.9"/><circle cx="584.4" cy="550.0" r="1.2"/><circle cx="605.0" cy="561.3" r="0.6"/><circle cx="614.5" cy="551.2" r="1.0"/><circle cx="597.9" cy="470.6" r="1.1"/><circle cx="582.4" cy="541.3" r="0.9"/><circle cx="658.7" cy="559.1" r="1.2"/><circle cx="584.1" cy="555.7" r="0.8"/><circle cx="632.9" cy="553.1" r="0.8"/><circle cx="610.8" cy="555.1" r="0.6"/><circle cx="578.4" cy="540.0" r="0.7"/><circle cx="608.3" cy="492.7" r="1.1"/><circle cx="636.4" cy="551.6" r="0.6"/><circle cx="571.2" cy="539.1" r="0.6"/><circle cx="634.4" cy="534.8" r="1.3"/><circle cx="594.2" cy="475.9" r="1.1"/><circle cx="629.6" cy="545.1" r="0.9"/><circle cx="609.7" cy="579.8" r="0.8"/><circle cx="638.7" cy="577.0" r="1.3"/><circle cx="608.0" cy="487.3" r="0.9"/><circle cx="613.0" cy="515.4" r="1.2"/><circle cx="605.4" cy="525.4" r="0.7"/><circle cx="636.7" cy="534.8" r="1.3"/><circle cx="591.4" cy="517.1" r="0.6"/><circle cx="603.9" cy="559.5" r="0.8"/><circle cx="584.2" cy="533.7" r="1.3"/><circle cx="607.5" cy="496.2" r="1.2"/><circle cx="606.2" cy="522.2" r="1.2"/><circle cx="594.8" cy="522.8" r="1.3"/><circle cx="595.7" cy="533.8" r="1.1"/><circle cx="598.3" cy="544.7" r="0.9"/><circle cx="635.4" cy="537.9" r="1.1"/><circle cx="603.6" cy="486.4" r="0.8"/><circle cx="597.5" cy="470.2" r="1.2"/><circle cx="616.3" cy="526.6" r="1.1"/><circle cx="605.3" cy="510.1" r="0.9"/><circle cx="637.5" cy="530.7" r="1.1"/><circle cx="613.4" cy="538.8" r="0.9"/><circle cx="620.4" cy="536.1" r="0.6"/><circle cx="620.1" cy="581.0" r="0.7"/><circle cx="623.0" cy="562.4" r="0.5"/><circle cx="589.8" cy="505.7" r="1.0"/><circle cx="626.7" cy="517.3" r="1.1"/><circle cx="622.4" cy="486.2" r="1.0"/><circle cx="627.9" cy="497.1" r="1.1"/><circle cx="618.5" cy="580.2" r="1.1"/><circle cx="587.0" cy="557.2" r="1.0"/><circle cx="602.5" cy="552.4" r="1.1"/><circle cx="630.9" cy="494.9" r="1.3"/><circle cx="599.3" cy="491.7" r="0.7"/><circle cx="613.0" cy="486.0" r="0.7"/><circle cx="624.5" cy="517.9" r="1.1"/><circle cx="591.2" cy="526.4" r="0.7"/><circle cx="601.3" cy="504.2" r="1.3"/><circle cx="601.7" cy="534.0" r="0.6"/><circle cx="605.6" cy="574.5" r="1.2"/><circle cx="588.5" cy="474.9" r="0.6"/><circle cx="628.2" cy="534.6" r="0.8"/><circle cx="624.2" cy="519.0" r="0.6"/><circle cx="642.3" cy="560.7" r="0.9"/><circle cx="609.6" cy="493.3" r="0.6"/><circle cx="632.5" cy="513.4" r="1.0"/><circle cx="601.5" cy="500.7" r="0.6"/><circle cx="581.1" cy="574.2" r="0.6"/><circle cx="588.4" cy="487.5" r="1.0"/><circle cx="654.1" cy="553.6" r="1.2"/><circle cx="606.6" cy="521.4" r="0.6"/><circle cx="591.5" cy="574.0" r="0.7"/><circle cx="651.8" cy="569.4" r="1.3"/><circle cx="580.0" cy="519.7" r="1.2"/><circle cx="596.1" cy="498.1" r="0.5"/><circle cx="617.1" cy="535.1" r="0.7"/><circle cx="591.2" cy="545.1" r="0.6"/><circle cx="641.0" cy="574.1" r="0.9"/><circle cx="579.0" cy="537.6" r="0.8"/><circle cx="576.6" cy="554.4" r="1.0"/><circle cx="592.3" cy="498.4" r="1.1"/><circle cx="622.0" cy="495.2" r="0.9"/><circle cx="621.6" cy="505.5" r="1.0"/><circle cx="577.9" cy="518.7" r="0.6"/><circle cx="618.3" cy="540.3" r="1.0"/><circle cx="622.6" cy="568.7" r="1.0"/><circle cx="607.8" cy="487.9" r="0.9"/><circle cx="634.1" cy="564.7" r="1.3"/><circle cx="615.7" cy="582.9" r="0.8"/><circle cx="617.8" cy="562.1" r="0.7"/><circle cx="584.8" cy="571.6" r="1.0"/><circle cx="579.5" cy="531.6" r="1.2"/><circle cx="622.9" cy="550.4" r="1.0"/><circle cx="571.0" cy="533.6" r="0.8"/><circle cx="604.1" cy="516.4" r="1.2"/><circle cx="593.7" cy="552.3" r="1.0"/><circle cx="593.6" cy="578.9" r="0.7"/><circle cx="595.1" cy="491.8" r="1.1"/><circle cx="632.2" cy="512.7" r="0.6"/><circle cx="623.0" cy="509.4" r="1.0"/><circle cx="587.8" cy="520.1" r="1.2"/><circle cx="595.9" cy="584.3" r="0.6"/><circle cx="623.6" cy="586.2" r="1.1"/><circle cx="592.6" cy="561.9" r="1.3"/><circle cx="586.9" cy="515.9" r="1.2"/><circle cx="620.9" cy="579.6" r="0.9"/><circle cx="609.0" cy="488.8" r="0.7"/><circle cx="651.4" cy="565.7" r="1.0"/><circle cx="577.8" cy="568.8" r="1.3"/><circle cx="601.5" cy="578.5" r="1.2"/><circle cx="591.6" cy="491.7" r="1.0"/><circle cx="596.4" cy="494.6" r="1.2"/><circle cx="569.5" cy="536.0" r="0.5"/><circle cx="611.1" cy="543.4" r="1.0"/><circle cx="587.1" cy="570.0" r="1.3"/><circle cx="618.1" cy="518.6" r="1.2"/><circle cx="609.3" cy="534.4" r="1.3"/><circle cx="603.4" cy="574.7" r="0.6"/><circle cx="615.7" cy="541.1" r="1.2"/><circle cx="597.6" cy="542.0" r="1.3"/><circle cx="598.7" cy="547.2" r="1.1"/><circle cx="631.0" cy="550.3" r="0.8"/><circle cx="588.7" cy="480.6" r="1.0"/><circle cx="594.8" cy="513.5" r="0.9"/><circle cx="618.6" cy="517.0" r="1.0"/><circle cx="615.1" cy="511.0" r="0.7"/><circle cx="593.6" cy="473.4" r="0.9"/><circle cx="638.1" cy="523.2" r="1.0"/><circle cx="607.4" cy="564.7" r="1.1"/><circle cx="578.1" cy="535.0" r="0.7"/><circle cx="590.5" cy="581.2" r="0.5"/><circle cx="605.5" cy="520.9" r="1.1"/><circle cx="596.8" cy="478.7" r="0.7"/><circle cx="625.3" cy="576.8" r="0.6"/><circle cx="592.0" cy="576.2" r="1.0"/><circle cx="604.5" cy="477.2" r="0.5"/><circle cx="587.2" cy="543.1" r="0.5"/><circle cx="614.2" cy="567.5" r="0.5"/><circle cx="593.9" cy="518.6" r="1.0"/><circle cx="636.2" cy="550.7" r="0.9"/><circle cx="598.6" cy="544.3" r="0.9"/><circle cx="622.0" cy="549.1" r="0.9"/><circle cx="613.2" cy="548.9" r="1.0"/><circle cx="613.4" cy="586.5" r="1.2"/><circle cx="619.1" cy="505.4" r="0.7"/><circle cx="606.0" cy="520.1" r="0.9"/><circle cx="590.9" cy="526.7" r="1.0"/><circle cx="576.3" cy="548.3" r="1.1"/><circle cx="630.5" cy="518.4" r="1.0"/><circle cx="654.1" cy="554.0" r="0.9"/><circle cx="591.2" cy="484.5" r="1.0"/><circle cx="633.5" cy="561.9" r="0.8"/><circle cx="650.8" cy="553.9" r="0.6"/><circle cx="593.8" cy="516.3" r="0.9"/><circle cx="616.9" cy="500.5" r="0.5"/><circle cx="620.7" cy="581.5" r="1.1"/><circle cx="596.1" cy="539.0" r="0.9"/><circle cx="594.9" cy="525.4" r="1.2"/><circle cx="580.3" cy="544.7" r="0.7"/><circle cx="652.2" cy="565.4" r="1.3"/><circle cx="602.9" cy="530.0" r="0.8"/><circle cx="599.9" cy="584.0" r="1.3"/><circle cx="612.9" cy="548.5" r="1.3"/><circle cx="607.4" cy="579.8" r="1.2"/><circle cx="593.5" cy="512.0" r="1.1"/><circle cx="637.2" cy="551.7" r="0.9"/><circle cx="615.9" cy="484.0" r="0.7"/><circle cx="599.2" cy="511.7" r="1.1"/><circle cx="589.5" cy="497.3" r="1.2"/><circle cx="612.8" cy="569.5" r="1.2"/><circle cx="588.3" cy="526.9" r="1.0"/><circle cx="636.8" cy="549.2" r="0.9"/><circle cx="620.7" cy="532.4" r="0.8"/><circle cx="574.8" cy="558.4" r="1.2"/><circle cx="607.8" cy="561.7" r="1.2"/><circle cx="632.1" cy="566.4" r="1.3"/><circle cx="609.4" cy="562.7" r="1.1"/><circle cx="576.0" cy="539.5" r="0.6"/><circle cx="602.3" cy="501.6" r="1.2"/><circle cx="627.3" cy="504.7" r="1.1"/><circle cx="584.2" cy="565.6" r="1.0"/><circle cx="639.1" cy="543.1" r="1.3"/><circle cx="632.4" cy="524.7" r="1.0"/><circle cx="620.3" cy="503.1" r="0.8"/><circle cx="642.2" cy="567.6" r="1.3"/><circle cx="631.6" cy="529.6" r="0.8"/><circle cx="633.3" cy="547.1" r="1.3"/><circle cx="593.0" cy="473.9" r="1.2"/><circle cx="607.1" cy="516.3" r="0.5"/><circle cx="613.5" cy="577.3" r="0.7"/><circle cx="636.9" cy="560.4" r="1.1"/><circle cx="623.0" cy="498.7" r="1.1"/><circle cx="621.9" cy="585.6" r="0.9"/><circle cx="600.2" cy="578.2" r="1.0"/><circle cx="599.0" cy="547.2" r="0.6"/><circle cx="584.5" cy="575.6" r="0.9"/><circle cx="611.2" cy="497.2" r="1.2"/><circle cx="623.1" cy="516.1" r="0.8"/><circle cx="576.6" cy="515.2" r="0.9"/><circle cx="604.8" cy="586.2" r="1.1"/><circle cx="610.1" cy="516.7" r="0.7"/><circle cx="581.1" cy="525.7" r="1.0"/><circle cx="576.7" cy="526.2" r="0.6"/><circle cx="623.6" cy="510.2" r="1.1"/><circle cx="602.9" cy="478.0" r="0.7"/><circle cx="625.4" cy="566.2" r="0.6"/><circle cx="601.3" cy="533.8" r="1.1"/><circle cx="597.8" cy="512.9" r="1.1"/><circle cx="612.5" cy="521.4" r="1.0"/><circle cx="577.7" cy="525.5" r="0.8"/><circle cx="582.5" cy="532.0" r="1.1"/><circle cx="616.4" cy="528.9" r="1.1"/><circle cx="606.5" cy="587.4" r="0.7"/><circle cx="632.4" cy="514.8" r="0.8"/><circle cx="599.1" cy="497.9" r="1.2"/><circle cx="620.1" cy="524.2" r="0.6"/><circle cx="636.0" cy="532.9" r="1.3"/><circle cx="591.4" cy="481.8" r="1.2"/><circle cx="576.9" cy="551.7" r="0.6"/><circle cx="615.4" cy="523.1" r="1.3"/><circle cx="633.4" cy="515.2" r="0.9"/><circle cx="596.3" cy="496.0" r="0.8"/><circle cx="592.5" cy="491.4" r="1.2"/><circle cx="602.5" cy="536.4" r="1.2"/><circle cx="632.7" cy="534.4" r="1.3"/><circle cx="641.4" cy="569.8" r="1.3"/><circle cx="599.1" cy="578.4" r="0.5"/><circle cx="613.9" cy="521.9" r="0.6"/><circle cx="626.8" cy="563.9" r="0.7"/><circle cx="589.9" cy="561.8" r="0.9"/><circle cx="594.0" cy="523.1" r="1.3"/><circle cx="593.7" cy="538.6" r="1.1"/><circle cx="593.7" cy="530.9" r="0.8"/><circle cx="619.1" cy="491.3" r="0.9"/><circle cx="591.7" cy="546.1" r="1.2"/><circle cx="609.7" cy="535.0" r="0.8"/><circle cx="593.9" cy="530.0" r="1.3"/><circle cx="597.2" cy="540.9" r="0.7"/><circle cx="634.6" cy="528.6" r="0.8"/><circle cx="622.1" cy="541.6" r="0.6"/><circle cx="614.5" cy="559.3" r="1.2"/><circle cx="636.1" cy="550.9" r="0.6"/><circle cx="605.4" cy="530.2" r="0.5"/><circle cx="620.0" cy="500.8" r="0.6"/><circle cx="635.9" cy="541.9" r="1.0"/><circle cx="602.5" cy="495.0" r="1.0"/><circle cx="604.0" cy="580.0" r="0.7"/><circle cx="592.1" cy="579.6" r="1.1"/><circle cx="607.3" cy="513.7" r="1.1"/><circle cx="580.7" cy="555.9" r="0.7"/><circle cx="653.1" cy="567.7" r="0.7"/><circle cx="590.0" cy="551.8" r="0.9"/><circle cx="580.1" cy="571.6" r="1.1"/><circle cx="589.7" cy="520.2" r="1.1"/><circle cx="601.8" cy="499.7" r="0.9"/><circle cx="590.5" cy="527.0" r="1.3"/><circle cx="613.9" cy="588.8" r="1.3"/><circle cx="601.4" cy="577.3" r="1.1"/><circle cx="615.2" cy="530.9" r="0.7"/><circle cx="612.8" cy="560.5" r="1.0"/><circle cx="636.3" cy="541.1" r="1.3"/><circle cx="598.4" cy="524.6" r="1.2"/><circle cx="590.9" cy="513.5" r="1.2"/><circle cx="628.0" cy="527.8" r="0.5"/><circle cx="589.2" cy="515.2" r="0.6"/><circle cx="646.2" cy="565.1" r="1.3"/><circle cx="592.7" cy="543.5" r="0.6"/><circle cx="616.3" cy="510.8" r="0.9"/><circle cx="614.5" cy="478.7" r="0.9"/><circle cx="578.9" cy="545.0" r="0.6"/><circle cx="616.8" cy="490.0" r="0.7"/><circle cx="580.4" cy="550.2" r="1.2"/><circle cx="609.2" cy="539.1" r="0.8"/><circle cx="574.1" cy="553.7" r="0.6"/><circle cx="612.2" cy="490.7" r="0.9"/><circle cx="628.6" cy="557.3" r="0.8"/><circle cx="625.2" cy="561.2" r="1.0"/><circle cx="636.5" cy="566.2" r="0.6"/><circle cx="591.7" cy="554.6" r="1.0"/><circle cx="648.2" cy="562.2" r="0.8"/><circle cx="582.9" cy="548.1" r="0.6"/><circle cx="613.5" cy="501.9" r="0.8"/><circle cx="628.5" cy="545.2" r="1.0"/><circle cx="633.3" cy="578.3" r="1.0"/><circle cx="627.8" cy="576.1" r="1.1"/><circle cx="586.6" cy="521.9" r="1.2"/><circle cx="584.9" cy="518.8" r="0.6"/><circle cx="606.1" cy="514.4" r="0.5"/><circle cx="647.7" cy="556.4" r="1.0"/><circle cx="615.0" cy="555.2" r="1.0"/><circle cx="651.6" cy="559.9" r="0.9"/><circle cx="603.7" cy="538.3" r="1.3"/><circle cx="589.6" cy="571.1" r="1.1"/><circle cx="629.4" cy="576.1" r="1.3"/><circle cx="632.7" cy="570.2" r="1.0"/><circle cx="618.9" cy="491.8" r="0.9"/><circle cx="589.3" cy="570.5" r="0.7"/><circle cx="598.8" cy="586.3" r="0.6"/><circle cx="621.7" cy="501.8" r="1.1"/><circle cx="573.0" cy="550.5" r="0.7"/><circle cx="653.1" cy="558.6" r="0.6"/><circle cx="585.7" cy="576.3" r="1.1"/><circle cx="599.7" cy="477.2" r="1.1"/><circle cx="642.2" cy="557.6" r="1.0"/><circle cx="616.9" cy="491.2" r="0.6"/><circle cx="596.7" cy="502.5" r="0.9"/><circle cx="643.2" cy="561.0" r="0.7"/><circle cx="586.9" cy="564.4" r="0.5"/><circle cx="621.8" cy="485.2" r="1.2"/><circle cx="609.4" cy="563.2" r="1.3"/><circle cx="601.1" cy="564.6" r="0.8"/><circle cx="625.9" cy="499.5" r="1.1"/><circle cx="593.5" cy="519.6" r="1.1"/><circle cx="634.5" cy="566.3" r="0.7"/><circle cx="600.0" cy="541.3" r="0.7"/><circle cx="608.5" cy="551.3" r="0.7"/><circle cx="629.4" cy="517.0" r="0.5"/><circle cx="576.7" cy="547.5" r="1.2"/><circle cx="630.9" cy="573.0" r="1.1"/><circle cx="640.3" cy="570.0" r="1.0"/><circle cx="616.9" cy="488.1" r="0.7"/><circle cx="603.7" cy="503.9" r="1.0"/><circle cx="651.2" cy="569.5" r="0.7"/><circle cx="622.4" cy="492.4" r="0.6"/><circle cx="587.5" cy="493.2" r="0.5"/><circle cx="599.3" cy="553.4" r="1.0"/><circle cx="597.8" cy="486.7" r="0.6"/><circle cx="634.0" cy="578.2" r="0.5"/><circle cx="587.8" cy="532.1" r="0.7"/><circle cx="612.9" cy="529.3" r="0.7"/><circle cx="577.8" cy="519.2" r="1.2"/><circle cx="579.8" cy="533.6" r="1.2"/><circle cx="620.6" cy="510.5" r="1.3"/><circle cx="595.0" cy="527.1" r="0.9"/><circle cx="618.7" cy="530.8" r="1.3"/><circle cx="600.1" cy="484.4" r="0.6"/><circle cx="589.7" cy="480.1" r="1.3"/><circle cx="619.2" cy="565.1" r="0.9"/><circle cx="616.0" cy="495.8" r="1.3"/><circle cx="606.4" cy="517.6" r="1.1"/><circle cx="612.2" cy="519.8" r="1.2"/><circle cx="606.9" cy="493.0" r="0.9"/><circle cx="595.6" cy="499.7" r="1.2"/><circle cx="599.7" cy="544.2" r="0.8"/><circle cx="577.5" cy="563.1" r="1.2"/><circle cx="633.3" cy="542.4" r="0.6"/><circle cx="614.1" cy="569.4" r="1.2"/><circle cx="622.5" cy="544.9" r="0.6"/><circle cx="604.5" cy="553.3" r="1.1"/><circle cx="592.4" cy="498.6" r="0.6"/><circle cx="597.9" cy="480.9" r="1.3"/><circle cx="621.0" cy="528.0" r="0.5"/><circle cx="592.3" cy="485.1" r="1.0"/><circle cx="593.6" cy="537.7" r="1.1"/><circle cx="588.0" cy="484.4" r="0.9"/><circle cx="604.5" cy="522.6" r="0.8"/><circle cx="635.4" cy="545.3" r="1.1"/><circle cx="627.0" cy="530.7" r="0.7"/><circle cx="610.0" cy="500.1" r="0.8"/><circle cx="623.3" cy="501.4" r="0.7"/><circle cx="595.4" cy="516.5" r="1.0"/><circle cx="605.2" cy="572.8" r="0.6"/><circle cx="591.0" cy="576.8" r="1.0"/><circle cx="635.0" cy="531.8" r="1.1"/><circle cx="657.1" cy="558.2" r="1.3"/><circle cx="599.7" cy="504.6" r="1.3"/><circle cx="607.9" cy="518.6" r="1.3"/><circle cx="606.2" cy="514.9" r="0.9"/><circle cx="612.2" cy="578.1" r="1.1"/><circle cx="572.3" cy="538.3" r="1.2"/><circle cx="598.0" cy="484.4" r="1.1"/><circle cx="617.6" cy="525.2" r="0.6"/><circle cx="619.0" cy="538.0" r="1.1"/><circle cx="606.0" cy="510.2" r="1.2"/><circle cx="608.4" cy="477.1" r="0.9"/><circle cx="618.1" cy="587.2" r="1.0"/><circle cx="603.3" cy="474.6" r="0.6"/><circle cx="594.8" cy="488.3" r="1.0"/><circle cx="633.9" cy="580.9" r="0.7"/><circle cx="589.2" cy="485.8" r="0.7"/><circle cx="588.0" cy="519.1" r="0.7"/><circle cx="629.3" cy="497.5" r="0.7"/><circle cx="606.3" cy="489.0" r="0.5"/><circle cx="612.0" cy="576.2" r="1.0"/><circle cx="595.6" cy="517.2" r="0.9"/><circle cx="597.0" cy="475.0" r="0.6"/><circle cx="598.0" cy="480.9" r="1.0"/><circle cx="585.6" cy="530.3" r="1.1"/><circle cx="613.7" cy="558.2" r="1.2"/><circle cx="609.0" cy="494.2" r="0.5"/><circle cx="632.2" cy="513.0" r="0.7"/><circle cx="646.8" cy="570.8" r="0.7"/><circle cx="588.1" cy="575.9" r="0.7"/><circle cx="623.2" cy="581.9" r="0.9"/><circle cx="606.8" cy="584.5" r="1.2"/><circle cx="654.3" cy="554.1" r="0.7"/><circle cx="592.6" cy="490.2" r="0.7"/><circle cx="600.0" cy="526.9" r="1.2"/><circle cx="600.9" cy="496.6" r="0.9"/><circle cx="614.6" cy="579.6" r="1.0"/><circle cx="641.7" cy="566.3" r="0.9"/><circle cx="631.8" cy="552.3" r="0.9"/><circle cx="615.9" cy="566.6" r="1.2"/><circle cx="630.6" cy="535.2" r="1.2"/><circle cx="589.4" cy="525.0" r="0.7"/><circle cx="642.6" cy="554.5" r="0.5"/><circle cx="622.6" cy="562.4" r="0.8"/><circle cx="574.2" cy="539.4" r="1.0"/><circle cx="607.4" cy="501.3" r="0.8"/><circle cx="588.7" cy="566.9" r="0.8"/><circle cx="634.1" cy="535.0" r="0.7"/><circle cx="593.1" cy="549.7" r="1.2"/><circle cx="591.2" cy="480.5" r="0.7"/><circle cx="603.2" cy="555.5" r="1.3"/><circle cx="622.5" cy="486.1" r="0.8"/><circle cx="621.0" cy="529.3" r="0.6"/><circle cx="592.8" cy="577.0" r="1.0"/><circle cx="623.5" cy="507.5" r="0.8"/><circle cx="628.5" cy="584.3" r="1.0"/><circle cx="606.6" cy="547.4" r="1.1"/><circle cx="593.9" cy="551.1" r="1.3"/><circle cx="611.0" cy="516.5" r="1.1"/><circle cx="654.3" cy="563.1" r="1.3"/><circle cx="590.4" cy="550.0" r="0.7"/><circle cx="595.9" cy="580.7" r="1.3"/><circle cx="598.3" cy="497.7" r="1.2"/><circle cx="608.9" cy="571.6" r="0.9"/><circle cx="601.9" cy="509.6" r="0.5"/><circle cx="609.7" cy="583.7" r="1.3"/><circle cx="608.5" cy="569.5" r="0.6"/><circle cx="574.7" cy="558.1" r="1.1"/><circle cx="633.1" cy="564.6" r="0.7"/><circle cx="584.4" cy="548.3" r="0.6"/><circle cx="607.9" cy="486.7" r="0.6"/><circle cx="612.5" cy="534.2" r="1.2"/><circle cx="573.5" cy="535.4" r="0.6"/><circle cx="598.0" cy="585.9" r="1.1"/><circle cx="629.9" cy="541.8" r="0.7"/><circle cx="599.2" cy="492.9" r="1.1"/><circle cx="585.3" cy="529.2" r="0.7"/><circle cx="614.6" cy="588.4" r="0.5"/><circle cx="607.1" cy="493.0" r="0.6"/><circle cx="622.3" cy="583.2" r="0.9"/><circle cx="619.5" cy="553.2" r="1.2"/><circle cx="583.5" cy="579.5" r="1.0"/><circle cx="600.9" cy="518.8" r="1.1"/><circle cx="621.4" cy="518.3" r="0.8"/><circle cx="590.9" cy="556.0" r="1.2"/><circle cx="631.5" cy="521.9" r="0.8"/><circle cx="604.9" cy="533.3" r="0.9"/><circle cx="594.5" cy="519.1" r="0.9"/><circle cx="593.9" cy="523.7" r="0.7"/><circle cx="610.2" cy="524.2" r="0.5"/><circle cx="581.0" cy="529.0" r="0.9"/><circle cx="595.4" cy="475.1" r="0.8"/><circle cx="599.6" cy="481.1" r="1.0"/><circle cx="587.5" cy="532.9" r="1.1"/><circle cx="626.9" cy="576.8" r="1.1"/><circle cx="587.9" cy="567.0" r="1.1"/><circle cx="612.7" cy="580.6" r="0.5"/><circle cx="618.0" cy="565.0" r="0.6"/><circle cx="587.4" cy="520.2" r="0.6"/><circle cx="610.5" cy="498.4" r="1.0"/><circle cx="633.5" cy="537.9" r="1.0"/><circle cx="596.0" cy="583.8" r="0.5"/><circle cx="582.4" cy="549.3" r="1.3"/><circle cx="620.7" cy="546.9" r="1.0"/><circle cx="596.6" cy="576.5" r="0.8"/><circle cx="627.0" cy="504.9" r="1.3"/><circle cx="629.5" cy="515.4" r="1.3"/><circle cx="577.6" cy="558.9" r="1.1"/><circle cx="576.1" cy="545.5" r="1.0"/><circle cx="620.9" cy="543.4" r="0.7"/><circle cx="613.6" cy="515.8" r="1.1"/><circle cx="616.1" cy="551.7" r="0.8"/><circle cx="601.1" cy="514.4" r="1.2"/><circle cx="589.4" cy="509.7" r="1.1"/><circle cx="596.6" cy="502.8" r="0.9"/><circle cx="586.6" cy="563.7" r="1.3"/><circle cx="634.0" cy="516.9" r="1.2"/><circle cx="605.4" cy="558.2" r="0.7"/><circle cx="572.7" cy="530.7" r="0.6"/><circle cx="609.9" cy="571.8" r="1.0"/><circle cx="591.8" cy="494.2" r="1.0"/><circle cx="614.8" cy="577.9" r="0.6"/><circle cx="610.7" cy="522.7" r="0.8"/><circle cx="584.3" cy="514.9" r="1.0"/><circle cx="616.5" cy="582.3" r="0.9"/><circle cx="599.4" cy="472.7" r="0.9"/><circle cx="599.2" cy="482.5" r="0.9"/><circle cx="624.9" cy="511.0" r="1.1"/><circle cx="571.4" cy="532.1" r="1.0"/><circle cx="619.3" cy="496.3" r="0.8"/><circle cx="634.5" cy="516.6" r="0.9"/><circle cx="588.3" cy="544.7" r="0.9"/><circle cx="655.7" cy="553.5" r="0.9"/><circle cx="591.8" cy="553.7" r="0.9"/><circle cx="597.2" cy="482.7" r="1.0"/><circle cx="633.8" cy="561.7" r="0.6"/><circle cx="586.1" cy="545.7" r="0.6"/><circle cx="626.3" cy="500.2" r="1.0"/><circle cx="628.1" cy="541.3" r="1.3"/><circle cx="618.2" cy="576.3" r="1.0"/><circle cx="576.8" cy="536.1" r="0.7"/><circle cx="584.8" cy="538.4" r="0.8"/><circle cx="577.3" cy="528.3" r="0.9"/><circle cx="596.6" cy="550.0" r="0.9"/><circle cx="591.1" cy="569.0" r="0.5"/><circle cx="588.9" cy="471.9" r="1.3"/><circle cx="617.3" cy="570.4" r="1.3"/><circle cx="650.8" cy="561.3" r="0.9"/><circle cx="593.2" cy="487.8" r="0.6"/><circle cx="617.9" cy="532.1" r="0.7"/><circle cx="595.2" cy="549.5" r="0.6"/><circle cx="616.1" cy="484.7" r="1.2"/><circle cx="586.7" cy="581.3" r="1.3"/><circle cx="655.3" cy="564.1" r="0.8"/><circle cx="618.2" cy="515.6" r="0.6"/><circle cx="611.7" cy="577.1" r="1.0"/><circle cx="627.0" cy="524.2" r="0.8"/><circle cx="595.0" cy="532.3" r="0.7"/><circle cx="591.1" cy="556.5" r="1.2"/><circle cx="599.8" cy="525.3" r="1.0"/><circle cx="622.7" cy="579.6" r="1.0"/><circle cx="608.9" cy="472.0" r="0.8"/><circle cx="608.2" cy="482.5" r="0.7"/><circle cx="577.5" cy="539.7" r="0.9"/><circle cx="617.2" cy="520.0" r="1.0"/><circle cx="572.9" cy="542.7" r="1.0"/><circle cx="584.6" cy="537.2" r="1.3"/><circle cx="615.9" cy="559.3" r="0.9"/><circle cx="619.2" cy="557.4" r="1.0"/><circle cx="623.7" cy="515.0" r="0.8"/><circle cx="628.6" cy="522.5" r="0.9"/><circle cx="602.5" cy="503.7" r="1.0"/><circle cx="628.1" cy="532.9" r="1.0"/><circle cx="629.4" cy="516.9" r="0.5"/><circle cx="601.0" cy="531.6" r="1.0"/><circle cx="628.4" cy="510.9" r="1.2"/><circle cx="613.0" cy="523.4" r="1.1"/><circle cx="618.0" cy="589.1" r="0.6"/><circle cx="572.7" cy="540.5" r="0.7"/><circle cx="616.7" cy="504.0" r="0.8"/><circle cx="588.0" cy="499.0" r="0.6"/><circle cx="659.0" cy="557.5" r="0.8"/><circle cx="607.9" cy="469.5" r="1.0"/><circle cx="589.3" cy="575.2" r="0.7"/><circle cx="642.9" cy="555.0" r="1.3"/><circle cx="621.0" cy="512.1" r="0.7"/><circle cx="588.9" cy="481.0" r="0.8"/><circle cx="596.7" cy="568.2" r="0.5"/><circle cx="614.1" cy="530.0" r="0.6"/><circle cx="632.2" cy="493.6" r="1.1"/><circle cx="582.7" cy="574.9" r="0.8"/><circle cx="596.4" cy="586.0" r="0.8"/><circle cx="603.9" cy="559.7" r="0.6"/><circle cx="597.6" cy="489.7" r="0.7"/><circle cx="604.4" cy="554.7" r="0.9"/><circle cx="598.8" cy="498.8" r="1.2"/><circle cx="575.3" cy="515.3" r="1.1"/><circle cx="624.8" cy="547.5" r="0.7"/><circle cx="585.9" cy="570.6" r="1.3"/><circle cx="646.2" cy="570.7" r="0.7"/><circle cx="580.4" cy="530.6" r="1.1"/><circle cx="578.4" cy="514.3" r="0.6"/><circle cx="574.4" cy="533.3" r="0.8"/><circle cx="635.3" cy="530.5" r="1.0"/><circle cx="598.1" cy="525.3" r="1.0"/><circle cx="606.5" cy="522.3" r="1.2"/><circle cx="660.2" cy="557.6" r="1.2"/><circle cx="595.5" cy="477.5" r="0.7"/><circle cx="613.9" cy="561.1" r="1.1"/><circle cx="653.2" cy="562.8" r="0.8"/><circle cx="597.9" cy="573.8" r="1.3"/><circle cx="617.6" cy="562.2" r="1.1"/><circle cx="615.8" cy="522.0" r="1.3"/><circle cx="639.4" cy="535.1" r="0.8"/><circle cx="578.7" cy="538.9" r="1.2"/><circle cx="583.3" cy="577.3" r="1.3"/><circle cx="585.0" cy="535.4" r="0.9"/><circle cx="598.4" cy="483.0" r="0.7"/><circle cx="607.0" cy="538.9" r="1.3"/><circle cx="572.8" cy="548.0" r="0.5"/><circle cx="632.3" cy="545.3" r="0.7"/><circle cx="610.3" cy="519.7" r="0.7"/><circle cx="604.1" cy="476.2" r="1.1"/><circle cx="604.5" cy="530.8" r="0.6"/><circle cx="636.5" cy="552.2" r="0.6"/><circle cx="602.4" cy="483.4" r="1.1"/><circle cx="584.8" cy="532.6" r="1.1"/><circle cx="581.1" cy="555.2" r="0.9"/><circle cx="582.5" cy="524.5" r="1.3"/><circle cx="618.0" cy="575.4" r="0.9"/><circle cx="590.2" cy="571.6" r="0.6"/><circle cx="629.0" cy="533.2" r="1.0"/><circle cx="611.2" cy="494.8" r="1.2"/><circle cx="619.6" cy="588.3" r="1.3"/><circle cx="637.5" cy="555.9" r="0.6"/><circle cx="645.1" cy="555.1" r="0.6"/><circle cx="587.4" cy="561.0" r="1.2"/><circle cx="632.4" cy="513.1" r="1.3"/><circle cx="608.4" cy="500.1" r="1.1"/><circle cx="645.6" cy="558.5" r="0.8"/><circle cx="621.5" cy="506.6" r="1.0"/></g>
<g fill="#878787"><circle cx="615.5" cy="500.8" r="1.4"/><circle cx="634.1" cy="553.8" r="0.7"/><circle cx="595.9" cy="551.4" r="1.3"/><circle cx="621.2" cy="567.0" r="1.0"/><circle cx="595.4" cy="528.1" r="0.9"/><circle cx="605.6" cy="554.2" r="0.9"/><circle cx="627.5" cy="538.2" r="0.6"/><circle cx="614.2" cy="561.4" r="1.2"/><circle cx="608.5" cy="504.7" r="1.3"/><circle cx="599.8" cy="544.3" r="1.2"/><circle cx="581.5" cy="540.0" r="0.9"/><circle cx="597.1" cy="542.6" r="1.2"/><circle cx="594.5" cy="548.2" r="0.7"/><circle cx="646.2" cy="550.7" r="1.1"/><circle cx="615.4" cy="533.3" r="1.4"/><circle cx="593.7" cy="533.5" r="1.0"/><circle cx="615.7" cy="498.8" r="1.1"/><circle cx="611.3" cy="501.3" r="1.4"/><circle cx="583.8" cy="545.3" r="1.0"/><circle cx="606.7" cy="520.0" r="0.8"/><circle cx="589.7" cy="543.0" r="1.1"/><circle cx="608.9" cy="551.5" r="1.1"/><circle cx="617.3" cy="544.4" r="1.2"/><circle cx="631.1" cy="537.3" r="0.8"/><circle cx="588.7" cy="541.0" r="1.4"/><circle cx="596.6" cy="513.0" r="1.4"/><circle cx="598.5" cy="528.9" r="1.1"/><circle cx="593.6" cy="555.4" r="1.3"/><circle cx="638.1" cy="550.4" r="0.7"/><circle cx="631.3" cy="548.5" r="0.6"/><circle cx="611.1" cy="532.4" r="1.1"/><circle cx="586.9" cy="530.5" r="0.8"/><circle cx="608.9" cy="548.9" r="1.3"/><circle cx="592.7" cy="539.6" r="0.8"/><circle cx="585.3" cy="543.7" r="0.7"/><circle cx="589.7" cy="545.4" r="1.5"/><circle cx="584.9" cy="551.4" r="0.7"/><circle cx="607.3" cy="515.2" r="0.8"/><circle cx="598.0" cy="526.1" r="1.2"/><circle cx="588.1" cy="544.6" r="1.2"/><circle cx="619.0" cy="520.5" r="1.3"/><circle cx="584.6" cy="534.2" r="1.1"/><circle cx="641.1" cy="554.0" r="0.8"/><circle cx="605.7" cy="538.4" r="0.9"/><circle cx="610.4" cy="499.8" r="0.7"/><circle cx="589.6" cy="535.7" r="1.5"/><circle cx="631.2" cy="538.0" r="0.9"/><circle cx="625.0" cy="556.3" r="0.8"/><circle cx="595.5" cy="522.8" r="1.1"/><circle cx="598.1" cy="549.4" r="0.7"/><circle cx="618.5" cy="536.9" r="1.0"/><circle cx="617.0" cy="503.8" r="0.8"/><circle cx="619.1" cy="522.1" r="1.0"/><circle cx="605.8" cy="501.4" r="1.4"/><circle cx="600.3" cy="513.7" r="0.7"/><circle cx="604.8" cy="554.4" r="1.1"/><circle cx="623.0" cy="524.1" r="1.4"/><circle cx="610.1" cy="499.7" r="0.8"/><circle cx="592.3" cy="541.1" r="1.2"/><circle cx="611.2" cy="543.2" r="1.0"/><circle cx="607.7" cy="570.5" r="1.1"/><circle cx="602.9" cy="540.7" r="1.5"/><circle cx="611.2" cy="523.2" r="1.3"/><circle cx="624.6" cy="513.2" r="0.9"/><circle cx="607.1" cy="490.8" r="1.4"/><circle cx="611.1" cy="570.2" r="0.9"/><circle cx="600.6" cy="499.6" r="1.4"/><circle cx="628.6" cy="558.8" r="1.2"/><circle cx="587.6" cy="542.9" r="1.4"/><circle cx="611.8" cy="524.1" r="1.2"/><circle cx="587.9" cy="544.3" r="1.1"/><circle cx="600.6" cy="546.6" r="0.7"/><circle cx="605.1" cy="540.5" r="1.3"/><circle cx="593.0" cy="535.3" r="1.1"/><circle cx="616.9" cy="538.5" r="0.9"/><circle cx="596.1" cy="544.5" r="1.4"/><circle cx="625.5" cy="543.7" r="1.5"/><circle cx="597.2" cy="536.6" r="1.3"/><circle cx="614.2" cy="557.1" r="0.8"/><circle cx="606.4" cy="571.2" r="1.0"/><circle cx="616.3" cy="538.5" r="1.4"/><circle cx="610.5" cy="564.1" r="1.2"/><circle cx="606.9" cy="540.0" r="0.9"/><circle cx="603.8" cy="526.1" r="0.7"/><circle cx="616.1" cy="511.0" r="1.2"/><circle cx="588.1" cy="529.8" r="1.4"/><circle cx="624.8" cy="508.4" r="1.4"/><circle cx="591.8" cy="529.3" r="1.3"/><circle cx="600.3" cy="492.0" r="1.2"/><circle cx="593.5" cy="563.5" r="1.4"/><circle cx="632.1" cy="553.8" r="1.3"/><circle cx="626.3" cy="525.6" r="1.5"/><circle cx="627.2" cy="537.5" r="1.2"/><circle cx="597.4" cy="547.5" r="1.4"/><circle cx="622.0" cy="552.2" r="1.2"/><circle cx="618.9" cy="551.8" r="1.0"/><circle cx="601.2" cy="502.2" r="1.0"/><circle cx="605.4" cy="557.3" r="1.2"/><circle cx="609.6" cy="543.9" r="1.2"/><circle cx="602.1" cy="504.4" r="1.2"/><circle cx="591.1" cy="524.4" r="0.7"/><circle cx="615.1" cy="521.4" r="0.9"/><circle cx="630.0" cy="550.5" r="0.7"/><circle cx="595.8" cy="506.6" r="0.9"/><circle cx="595.9" cy="501.4" r="0.8"/><circle cx="613.5" cy="556.7" r="1.3"/><circle cx="622.6" cy="510.5" r="0.6"/><circle cx="597.2" cy="513.7" r="1.3"/><circle cx="636.6" cy="559.6" r="1.0"/><circle cx="614.0" cy="560.0" r="0.6"/><circle cx="628.5" cy="533.9" r="0.6"/><circle cx="639.3" cy="555.3" r="0.7"/><circle cx="622.4" cy="505.9" r="0.6"/><circle cx="627.0" cy="548.4" r="0.8"/><circle cx="582.6" cy="536.6" r="0.9"/><circle cx="603.2" cy="561.5" r="1.1"/><circle cx="588.2" cy="547.2" r="1.2"/><circle cx="618.0" cy="568.7" r="1.0"/><circle cx="600.3" cy="513.3" r="1.0"/><circle cx="614.2" cy="497.6" r="1.2"/><circle cx="602.1" cy="556.5" r="1.3"/><circle cx="605.2" cy="502.1" r="1.3"/><circle cx="608.1" cy="534.3" r="1.2"/><circle cx="593.8" cy="557.6" r="1.1"/><circle cx="625.6" cy="544.7" r="0.9"/><circle cx="598.5" cy="519.6" r="1.3"/><circle cx="619.8" cy="511.5" r="1.4"/><circle cx="614.6" cy="570.9" r="1.2"/><circle cx="625.0" cy="522.1" r="1.1"/><circle cx="592.1" cy="519.1" r="1.0"/><circle cx="593.5" cy="542.5" r="1.0"/><circle cx="609.7" cy="558.4" r="1.3"/><circle cx="603.7" cy="531.7" r="1.0"/><circle cx="595.5" cy="561.8" r="0.8"/><circle cx="599.3" cy="535.2" r="1.2"/><circle cx="623.3" cy="514.1" r="0.9"/><circle cx="605.3" cy="512.6" r="0.8"/><circle cx="613.0" cy="500.6" r="0.9"/><circle cx="615.3" cy="515.7" r="0.7"/><circle cx="607.7" cy="512.7" r="0.7"/><circle cx="600.0" cy="525.3" r="1.2"/><circle cx="597.5" cy="520.1" r="1.4"/><circle cx="622.4" cy="525.7" r="0.8"/><circle cx="596.3" cy="560.0" r="0.9"/><circle cx="596.4" cy="508.3" r="0.8"/><circle cx="601.5" cy="555.9" r="0.9"/><circle cx="618.8" cy="504.4" r="1.4"/><circle cx="614.5" cy="538.0" r="1.3"/><circle cx="615.0" cy="529.4" r="1.2"/><circle cx="611.8" cy="536.8" r="0.9"/><circle cx="619.0" cy="531.2" r="1.5"/><circle cx="605.6" cy="541.2" r="1.2"/><circle cx="633.1" cy="548.6" r="1.3"/><circle cx="602.7" cy="555.3" r="1.1"/><circle cx="621.4" cy="560.9" r="1.3"/><circle cx="616.7" cy="548.8" r="1.5"/><circle cx="595.5" cy="495.2" r="1.4"/><circle cx="619.4" cy="565.8" r="1.2"/><circle cx="594.9" cy="526.1" r="0.9"/><circle cx="622.0" cy="552.9" r="0.9"/><circle cx="611.8" cy="495.5" r="0.7"/><circle cx="626.9" cy="524.3" r="1.2"/><circle cx="599.3" cy="495.3" r="1.2"/><circle cx="597.4" cy="505.2" r="1.0"/><circle cx="613.2" cy="563.4" r="1.2"/><circle cx="609.2" cy="525.3" r="1.1"/><circle cx="620.3" cy="567.5" r="1.1"/><circle cx="604.8" cy="490.7" r="1.3"/><circle cx="594.8" cy="558.0" r="1.2"/><circle cx="631.7" cy="535.8" r="0.8"/><circle cx="582.8" cy="538.3" r="0.6"/><circle cx="614.7" cy="553.5" r="0.7"/><circle cx="609.3" cy="533.8" r="0.7"/><circle cx="593.7" cy="539.7" r="0.8"/><circle cx="587.8" cy="536.5" r="1.0"/><circle cx="603.4" cy="568.4" r="0.7"/><circle cx="589.0" cy="527.9" r="0.9"/><circle cx="601.5" cy="537.3" r="1.5"/><circle cx="607.8" cy="491.6" r="0.9"/><circle cx="595.4" cy="517.6" r="0.9"/><circle cx="624.8" cy="548.9" r="0.6"/><circle cx="590.0" cy="557.6" r="1.4"/><circle cx="625.1" cy="506.7" r="1.4"/><circle cx="621.1" cy="518.2" r="1.2"/><circle cx="589.7" cy="526.7" r="0.7"/><circle cx="586.5" cy="544.5" r="1.0"/><circle cx="599.6" cy="533.6" r="1.0"/><circle cx="630.6" cy="563.5" r="0.9"/><circle cx="586.3" cy="547.4" r="0.6"/><circle cx="611.1" cy="518.0" r="1.3"/><circle cx="607.1" cy="550.7" r="0.9"/><circle cx="595.1" cy="527.8" r="0.7"/><circle cx="617.3" cy="521.3" r="1.5"/><circle cx="634.0" cy="557.8" r="0.9"/><circle cx="603.4" cy="566.0" r="1.5"/><circle cx="591.9" cy="529.8" r="1.0"/><circle cx="621.4" cy="538.2" r="0.8"/><circle cx="631.7" cy="549.1" r="1.5"/><circle cx="614.5" cy="537.8" r="1.3"/><circle cx="630.0" cy="555.7" r="0.8"/><circle cx="591.3" cy="534.8" r="1.2"/><circle cx="605.9" cy="494.0" r="1.4"/><circle cx="595.8" cy="547.8" r="1.1"/><circle cx="596.0" cy="515.7" r="0.8"/><circle cx="615.7" cy="511.5" r="1.1"/><circle cx="599.0" cy="498.1" r="1.2"/><circle cx="597.7" cy="568.3" r="1.0"/><circle cx="597.7" cy="548.8" r="1.4"/><circle cx="604.9" cy="550.1" r="0.9"/><circle cx="616.3" cy="540.9" r="0.9"/><circle cx="607.8" cy="522.5" r="0.9"/><circle cx="592.9" cy="534.1" r="1.2"/><circle cx="597.5" cy="528.2" r="0.8"/><circle cx="624.9" cy="522.3" r="1.1"/><circle cx="607.4" cy="531.0" r="0.7"/><circle cx="602.3" cy="559.7" r="0.9"/><circle cx="588.1" cy="536.6" r="0.9"/><circle cx="600.4" cy="498.9" r="1.1"/><circle cx="593.0" cy="551.9" r="1.1"/><circle cx="594.9" cy="553.7" r="1.5"/><circle cx="612.1" cy="570.1" r="1.0"/><circle cx="603.7" cy="565.7" r="1.1"/><circle cx="605.7" cy="489.1" r="0.6"/><circle cx="595.1" cy="524.7" r="1.4"/><circle cx="626.8" cy="546.9" r="0.7"/><circle cx="616.6" cy="547.3" r="0.7"/><circle cx="623.0" cy="518.0" r="0.9"/><circle cx="601.1" cy="494.8" r="1.3"/><circle cx="616.4" cy="502.1" r="1.5"/><circle cx="601.5" cy="532.3" r="0.8"/><circle cx="600.4" cy="507.0" r="1.3"/><circle cx="605.0" cy="561.0" r="0.9"/><circle cx="588.7" cy="526.5" r="0.7"/><circle cx="590.5" cy="532.2" r="1.1"/><circle cx="614.9" cy="525.6" r="1.0"/><circle cx="633.0" cy="547.5" r="0.7"/><circle cx="602.2" cy="514.0" r="1.4"/><circle cx="607.7" cy="548.5" r="0.7"/><circle cx="622.8" cy="525.8" r="1.4"/><circle cx="606.8" cy="500.2" r="1.2"/><circle cx="613.8" cy="495.7" r="0.7"/><circle cx="611.1" cy="540.9" r="1.0"/><circle cx="611.6" cy="541.7" r="1.2"/><circle cx="627.2" cy="523.1" r="0.8"/><circle cx="619.7" cy="540.6" r="0.7"/><circle cx="614.4" cy="536.6" r="1.2"/><circle cx="585.3" cy="549.5" r="0.8"/><circle cx="605.8" cy="498.5" r="1.4"/><circle cx="621.3" cy="556.8" r="1.1"/><circle cx="587.7" cy="521.9" r="0.7"/><circle cx="586.9" cy="556.3" r="0.6"/><circle cx="606.1" cy="491.4" r="1.3"/><circle cx="604.5" cy="570.6" r="0.8"/><circle cx="624.7" cy="555.2" r="0.9"/><circle cx="609.6" cy="522.7" r="0.9"/><circle cx="601.2" cy="500.3" r="1.3"/><circle cx="593.4" cy="520.4" r="1.0"/><circle cx="593.5" cy="566.0" r="1.3"/><circle cx="599.5" cy="507.1" r="0.9"/><circle cx="606.5" cy="543.4" r="1.3"/><circle cx="593.3" cy="520.1" r="1.5"/><circle cx="610.6" cy="548.9" r="1.3"/><circle cx="610.9" cy="519.9" r="1.3"/><circle cx="598.3" cy="568.7" r="1.0"/><circle cx="617.7" cy="560.4" r="0.7"/><circle cx="599.0" cy="529.2" r="1.3"/><circle cx="592.7" cy="554.0" r="0.7"/><circle cx="603.6" cy="527.2" r="1.2"/><circle cx="615.0" cy="559.9" r="1.2"/><circle cx="605.8" cy="532.1" r="1.0"/><circle cx="597.0" cy="556.5" r="1.2"/><circle cx="596.6" cy="523.5" r="1.4"/><circle cx="625.9" cy="566.3" r="1.3"/><circle cx="618.2" cy="501.1" r="0.8"/><circle cx="595.0" cy="517.1" r="1.2"/><circle cx="600.5" cy="506.0" r="1.4"/><circle cx="587.7" cy="541.6" r="1.0"/><circle cx="611.5" cy="561.8" r="1.3"/><circle cx="634.0" cy="555.1" r="0.6"/><circle cx="595.3" cy="549.8" r="1.4"/><circle cx="616.1" cy="563.3" r="0.7"/><circle cx="597.6" cy="557.4" r="1.3"/><circle cx="595.2" cy="536.2" r="1.0"/><circle cx="601.5" cy="552.5" r="1.2"/><circle cx="604.3" cy="548.5" r="0.8"/><circle cx="613.5" cy="503.8" r="0.9"/><circle cx="608.1" cy="495.4" r="0.9"/><circle cx="603.7" cy="515.6" r="1.1"/><circle cx="600.0" cy="499.3" r="0.7"/><circle cx="639.0" cy="552.3" r="1.3"/><circle cx="606.8" cy="553.0" r="0.7"/><circle cx="609.3" cy="494.8" r="0.8"/><circle cx="617.0" cy="543.0" r="1.4"/><circle cx="601.6" cy="507.6" r="0.7"/><circle cx="615.9" cy="526.6" r="1.4"/><circle cx="612.5" cy="495.3" r="0.7"/><circle cx="603.2" cy="525.0" r="1.0"/><circle cx="599.1" cy="501.0" r="0.6"/><circle cx="625.9" cy="505.4" r="0.7"/><circle cx="595.9" cy="528.7" r="1.1"/><circle cx="593.3" cy="525.9" r="1.4"/><circle cx="610.0" cy="571.8" r="1.3"/><circle cx="626.2" cy="525.5" r="0.8"/><circle cx="623.9" cy="504.0" r="1.0"/><circle cx="590.4" cy="523.0" r="1.5"/><circle cx="619.9" cy="531.4" r="1.2"/><circle cx="623.7" cy="539.0" r="0.9"/><circle cx="594.4" cy="539.3" r="1.4"/><circle cx="599.9" cy="537.7" r="0.6"/><circle cx="613.3" cy="554.3" r="1.5"/><circle cx="612.1" cy="539.5" r="1.5"/><circle cx="612.4" cy="555.2" r="0.6"/><circle cx="605.6" cy="548.2" r="1.0"/><circle cx="630.7" cy="531.2" r="1.1"/><circle cx="625.6" cy="552.6" r="1.0"/><circle cx="604.6" cy="565.8" r="0.7"/><circle cx="615.6" cy="509.2" r="1.4"/><circle cx="600.5" cy="515.1" r="0.7"/><circle cx="639.4" cy="558.2" r="0.6"/><circle cx="636.5" cy="548.9" r="1.1"/><circle cx="601.4" cy="510.4" r="1.1"/><circle cx="611.2" cy="498.5" r="1.0"/><circle cx="621.6" cy="561.0" r="1.0"/><circle cx="613.2" cy="546.9" r="0.8"/><circle cx="619.6" cy="530.4" r="0.9"/><circle cx="613.3" cy="503.0" r="1.2"/><circle cx="588.0" cy="525.8" r="0.7"/><circle cx="590.0" cy="544.7" r="0.8"/><circle cx="598.1" cy="538.0" r="0.8"/><circle cx="597.9" cy="494.9" r="0.8"/><circle cx="594.9" cy="501.4" r="1.0"/><circle cx="610.1" cy="538.3" r="1.1"/><circle cx="625.5" cy="539.9" r="1.0"/><circle cx="607.4" cy="559.3" r="1.1"/><circle cx="602.3" cy="511.5" r="1.0"/><circle cx="604.3" cy="489.9" r="0.9"/><circle cx="642.4" cy="550.0" r="1.0"/><circle cx="600.2" cy="567.6" r="1.3"/><circle cx="623.3" cy="546.4" r="0.7"/><circle cx="602.0" cy="526.4" r="0.8"/><circle cx="598.8" cy="509.2" r="0.9"/><circle cx="620.0" cy="548.5" r="1.0"/><circle cx="627.7" cy="536.5" r="1.3"/><circle cx="628.6" cy="552.8" r="0.6"/><circle cx="603.6" cy="497.7" r="1.3"/><circle cx="603.1" cy="500.8" r="1.2"/><circle cx="592.6" cy="518.7" r="1.0"/><circle cx="622.3" cy="531.8" r="1.2"/><circle cx="621.5" cy="524.1" r="1.0"/><circle cx="603.4" cy="558.6" r="1.1"/><circle cx="626.5" cy="557.3" r="1.2"/><circle cx="626.5" cy="562.9" r="1.0"/><circle cx="590.9" cy="560.2" r="1.1"/><circle cx="597.5" cy="498.2" r="1.4"/><circle cx="597.1" cy="501.9" r="1.1"/><circle cx="627.9" cy="536.6" r="0.6"/><circle cx="601.9" cy="566.1" r="1.0"/><circle cx="600.7" cy="552.0" r="1.2"/><circle cx="626.8" cy="546.7" r="0.6"/><circle cx="596.4" cy="513.6" r="1.0"/><circle cx="603.2" cy="497.5" r="1.3"/><circle cx="614.7" cy="532.6" r="1.0"/><circle cx="603.5" cy="559.6" r="1.4"/><circle cx="581.4" cy="538.7" r="1.3"/><circle cx="613.9" cy="522.2" r="1.2"/><circle cx="590.8" cy="528.2" r="0.8"/><circle cx="637.6" cy="554.5" r="1.0"/><circle cx="632.4" cy="533.9" r="1.2"/><circle cx="596.2" cy="553.3" r="1.2"/><circle cx="607.0" cy="554.0" r="0.8"/><circle cx="631.0" cy="559.9" r="0.7"/><circle cx="598.5" cy="517.8" r="1.3"/><circle cx="622.6" cy="520.4" r="1.2"/><circle cx="622.4" cy="560.8" r="0.8"/><circle cx="611.3" cy="548.0" r="0.6"/><circle cx="606.3" cy="533.8" r="1.0"/><circle cx="613.8" cy="558.9" r="0.7"/><circle cx="588.9" cy="526.8" r="0.8"/><circle cx="609.8" cy="499.5" r="1.5"/><circle cx="594.2" cy="525.5" r="1.1"/><circle cx="621.6" cy="518.5" r="1.3"/><circle cx="601.0" cy="557.1" r="1.4"/><circle cx="608.2" cy="533.0" r="0.9"/><circle cx="592.7" cy="537.8" r="0.7"/><circle cx="591.5" cy="523.3" r="1.5"/><circle cx="605.8" cy="569.8" r="1.2"/><circle cx="623.2" cy="565.4" r="1.1"/><circle cx="629.3" cy="527.9" r="1.3"/><circle cx="589.4" cy="559.4" r="0.8"/><circle cx="617.3" cy="525.6" r="1.3"/><circle cx="603.8" cy="531.4" r="0.8"/><circle cx="602.7" cy="497.3" r="0.8"/><circle cx="598.8" cy="546.4" r="0.7"/><circle cx="637.6" cy="552.3" r="1.1"/><circle cx="617.0" cy="558.6" r="0.7"/><circle cx="604.4" cy="567.3" r="1.3"/><circle cx="583.3" cy="538.0" r="0.8"/><circle cx="595.3" cy="515.2" r="0.8"/><circle cx="600.0" cy="506.9" r="0.9"/><circle cx="619.5" cy="535.6" r="1.3"/><circle cx="598.9" cy="490.2" r="1.1"/><circle cx="601.1" cy="505.7" r="1.0"/><circle cx="616.4" cy="547.2" r="1.4"/><circle cx="631.3" cy="527.8" r="1.4"/><circle cx="643.0" cy="551.2" r="0.7"/><circle cx="608.5" cy="498.9" r="0.9"/><circle cx="583.9" cy="533.6" r="0.7"/><circle cx="596.5" cy="553.8" r="0.9"/><circle cx="618.7" cy="561.2" r="1.2"/><circle cx="596.6" cy="503.7" r="1.5"/><circle cx="595.4" cy="561.1" r="0.7"/><circle cx="613.5" cy="536.6" r="1.1"/><circle cx="627.3" cy="560.2" r="1.1"/><circle cx="596.0" cy="555.5" r="1.0"/><circle cx="597.7" cy="553.4" r="1.3"/><circle cx="626.0" cy="506.8" r="1.5"/><circle cx="611.8" cy="531.7" r="1.4"/><circle cx="599.9" cy="491.0" r="0.9"/><circle cx="604.7" cy="538.5" r="0.7"/><circle cx="640.2" cy="553.8" r="1.3"/><circle cx="625.8" cy="560.5" r="0.8"/><circle cx="607.6" cy="504.8" r="1.4"/><circle cx="611.6" cy="558.3" r="0.8"/><circle cx="620.2" cy="551.2" r="0.9"/><circle cx="598.1" cy="495.1" r="1.2"/><circle cx="607.5" cy="504.9" r="0.9"/><circle cx="601.5" cy="498.5" r="1.1"/><circle cx="602.2" cy="555.5" r="1.2"/><circle cx="617.0" cy="564.6" r="1.2"/><circle cx="623.3" cy="567.3" r="1.0"/><circle cx="628.2" cy="527.7" r="1.4"/><circle cx="593.6" cy="536.5" r="0.6"/><circle cx="600.1" cy="525.3" r="0.8"/><circle cx="625.9" cy="552.2" r="1.3"/><circle cx="616.5" cy="551.8" r="1.3"/><circle cx="618.4" cy="557.8" r="0.8"/><circle cx="604.1" cy="488.8" r="1.1"/><circle cx="588.0" cy="525.7" r="0.8"/><circle cx="602.2" cy="569.1" r="1.3"/><circle cx="619.3" cy="529.0" r="1.2"/><circle cx="616.1" cy="510.8" r="0.8"/><circle cx="594.8" cy="554.8" r="1.4"/><circle cx="609.0" cy="502.7" r="0.8"/><circle cx="600.7" cy="519.4" r="1.4"/><circle cx="615.2" cy="529.5" r="1.2"/><circle cx="592.1" cy="519.3" r="1.0"/><circle cx="618.2" cy="539.0" r="0.8"/><circle cx="585.2" cy="536.3" r="0.7"/><circle cx="601.5" cy="553.2" r="1.4"/><circle cx="598.5" cy="519.6" r="1.0"/><circle cx="618.3" cy="503.6" r="0.8"/><circle cx="595.4" cy="530.9" r="1.1"/><circle cx="583.1" cy="534.2" r="1.3"/><circle cx="596.2" cy="541.4" r="1.3"/><circle cx="617.5" cy="518.2" r="1.1"/><circle cx="624.5" cy="525.0" r="1.3"/><circle cx="630.0" cy="551.6" r="1.0"/><circle cx="600.0" cy="535.6" r="0.7"/><circle cx="600.9" cy="500.4" r="1.1"/><circle cx="593.7" cy="557.6" r="0.7"/><circle cx="604.0" cy="551.2" r="1.4"/><circle cx="606.3" cy="567.8" r="1.4"/><circle cx="617.6" cy="515.9" r="0.8"/><circle cx="623.3" cy="507.3" r="0.8"/><circle cx="621.1" cy="521.0" r="0.7"/><circle cx="590.2" cy="554.9" r="0.9"/><circle cx="632.0" cy="540.3" r="0.6"/><circle cx="603.0" cy="538.8" r="0.8"/><circle cx="601.8" cy="543.7" r="1.0"/><circle cx="582.5" cy="543.0" r="1.2"/><circle cx="592.1" cy="528.1" r="0.9"/><circle cx="586.7" cy="547.5" r="1.2"/><circle cx="603.2" cy="556.1" r="0.6"/><circle cx="608.0" cy="567.0" r="0.6"/><circle cx="590.3" cy="528.6" r="0.9"/><circle cx="632.7" cy="537.6" r="1.0"/><circle cx="617.2" cy="530.3" r="1.1"/><circle cx="601.6" cy="557.0" r="1.1"/><circle cx="596.0" cy="537.5" r="1.3"/><circle cx="613.4" cy="515.4" r="1.1"/><circle cx="608.1" cy="531.9" r="1.3"/><circle cx="609.1" cy="498.8" r="0.8"/><circle cx="604.6" cy="563.9" r="1.2"/><circle cx="598.9" cy="542.0" r="1.1"/><circle cx="626.8" cy="556.3" r="1.5"/><circle cx="605.6" cy="525.6" r="1.3"/><circle cx="609.3" cy="533.9" r="1.3"/><circle cx="615.3" cy="496.5" r="0.9"/><circle cx="593.0" cy="553.4" r="1.2"/><circle cx="589.4" cy="537.0" r="1.4"/><circle cx="604.6" cy="532.9" r="1.0"/><circle cx="604.3" cy="510.1" r="1.1"/><circle cx="606.8" cy="505.6" r="1.5"/><circle cx="606.4" cy="557.8" r="1.3"/><circle cx="610.4" cy="522.1" r="0.7"/><circle cx="633.2" cy="552.1" r="0.8"/><circle cx="624.6" cy="563.6" r="0.9"/><circle cx="595.7" cy="551.0" r="1.2"/><circle cx="606.5" cy="488.3" r="0.9"/><circle cx="612.2" cy="553.2" r="0.9"/><circle cx="588.7" cy="545.2" r="1.2"/><circle cx="620.6" cy="564.8" r="0.9"/><circle cx="614.1" cy="526.2" r="1.4"/><circle cx="602.2" cy="508.3" r="0.9"/><circle cx="634.9" cy="550.9" r="0.8"/><circle cx="602.7" cy="554.8" r="1.2"/><circle cx="621.2" cy="507.6" r="0.6"/><circle cx="634.8" cy="560.3" r="1.4"/><circle cx="628.9" cy="549.5" r="1.3"/><circle cx="592.6" cy="561.4" r="1.1"/><circle cx="638.8" cy="556.4" r="1.0"/><circle cx="593.6" cy="529.1" r="1.0"/><circle cx="612.7" cy="548.8" r="0.8"/><circle cx="606.8" cy="563.9" r="1.3"/><circle cx="628.6" cy="555.2" r="1.0"/><circle cx="603.3" cy="532.2" r="1.4"/><circle cx="591.9" cy="547.4" r="1.0"/><circle cx="642.9" cy="548.1" r="1.4"/><circle cx="607.7" cy="527.0" r="0.8"/><circle cx="594.5" cy="541.0" r="1.1"/><circle cx="629.2" cy="551.5" r="1.5"/><circle cx="615.3" cy="540.1" r="1.1"/><circle cx="612.0" cy="516.8" r="0.9"/><circle cx="602.4" cy="531.0" r="1.0"/><circle cx="616.6" cy="544.6" r="1.5"/><circle cx="601.3" cy="539.5" r="1.1"/><circle cx="610.2" cy="526.9" r="0.8"/><circle cx="603.3" cy="513.9" r="1.5"/><circle cx="602.6" cy="536.9" r="1.0"/><circle cx="624.2" cy="535.2" r="1.1"/><circle cx="614.7" cy="511.6" r="1.3"/><circle cx="601.9" cy="492.0" r="0.7"/><circle cx="602.3" cy="542.6" r="1.2"/><circle cx="624.4" cy="517.9" r="1.1"/><circle cx="592.0" cy="521.6" r="0.8"/><circle cx="625.3" cy="568.2" r="0.9"/><circle cx="613.7" cy="541.8" r="1.3"/><circle cx="604.1" cy="510.6" r="1.2"/><circle cx="600.9" cy="530.0" r="1.2"/><circle cx="617.2" cy="570.4" r="0.9"/><circle cx="594.6" cy="522.4" r="1.4"/><circle cx="591.3" cy="554.9" r="1.4"/><circle cx="606.4" cy="513.7" r="1.3"/><circle cx="630.9" cy="533.0" r="1.1"/><circle cx="599.7" cy="537.7" r="0.6"/><circle cx="610.6" cy="527.2" r="1.1"/><circle cx="605.5" cy="566.6" r="0.8"/><circle cx="612.6" cy="546.5" r="1.3"/><circle cx="600.7" cy="498.2" r="1.2"/><circle cx="588.7" cy="557.8" r="0.6"/><circle cx="638.7" cy="557.0" r="1.1"/><circle cx="639.3" cy="554.0" r="1.2"/><circle cx="597.6" cy="495.5" r="0.7"/><circle cx="586.7" cy="545.1" r="1.2"/><circle cx="604.4" cy="560.9" r="1.3"/><circle cx="616.2" cy="551.7" r="1.2"/><circle cx="621.5" cy="506.7" r="1.3"/><circle cx="605.1" cy="505.9" r="0.6"/><circle cx="614.6" cy="528.8" r="0.7"/><circle cx="614.6" cy="511.1" r="1.0"/><circle cx="613.7" cy="566.1" r="1.0"/><circle cx="598.5" cy="495.1" r="1.4"/><circle cx="639.5" cy="555.2" r="1.0"/><circle cx="587.8" cy="532.0" r="1.4"/><circle cx="627.6" cy="540.9" r="0.6"/><circle cx="609.8" cy="489.4" r="0.7"/><circle cx="625.3" cy="552.8" r="0.9"/><circle cx="595.5" cy="535.1" r="0.8"/><circle cx="595.6" cy="540.8" r="1.0"/><circle cx="599.0" cy="555.6" r="0.8"/><circle cx="622.7" cy="545.1" r="1.0"/><circle cx="583.4" cy="533.2" r="0.7"/><circle cx="596.3" cy="566.3" r="0.8"/><circle cx="598.4" cy="517.2" r="0.9"/><circle cx="622.3" cy="513.7" r="1.0"/><circle cx="623.5" cy="511.2" r="0.7"/><circle cx="623.6" cy="543.1" r="0.6"/><circle cx="609.0" cy="559.6" r="1.1"/><circle cx="593.8" cy="521.4" r="0.7"/><circle cx="602.9" cy="548.1" r="0.8"/><circle cx="613.7" cy="541.1" r="1.3"/><circle cx="596.6" cy="551.9" r="1.1"/><circle cx="615.2" cy="495.7" r="1.2"/><circle cx="609.1" cy="540.8" r="1.1"/><circle cx="625.7" cy="517.5" r="0.6"/><circle cx="625.2" cy="506.9" r="1.2"/><circle cx="623.5" cy="560.8" r="0.7"/><circle cx="612.3" cy="516.7" r="0.9"/><circle cx="597.4" cy="558.5" r="1.0"/><circle cx="616.8" cy="497.9" r="1.1"/><circle cx="602.8" cy="510.5" r="1.1"/><circle cx="606.1" cy="566.4" r="0.6"/><circle cx="630.0" cy="564.2" r="1.0"/><circle cx="605.2" cy="540.7" r="0.9"/><circle cx="596.7" cy="565.4" r="1.2"/><circle cx="613.4" cy="526.9" r="1.3"/><circle cx="601.1" cy="522.7" r="0.6"/><circle cx="608.1" cy="497.7" r="1.2"/><circle cx="602.4" cy="515.5" r="0.8"/><circle cx="597.0" cy="507.4" r="1.4"/></g>
<!-- ARROWS -->
<g fill="#1b89d7">
<path d="M285.5,195.2 L285.7,195.7 L285.8,196.4 L285.9,197.2 L286.0,198.1 L286.1,199.1 L286.3,200.2 L286.6,201.4 L286.9,202.5 L287.3,203.7 L287.8,205.0 L288.4,206.2 L289.1,207.3 L290.0,208.5 L290.9,209.6 L292.0,210.8 L293.1,212.0 L294.3,213.2 L295.6,214.4 L297.0,215.6 L298.4,216.8 L299.8,218.0 L301.2,219.1 L302.7,220.2 L304.2,221.3 L305.7,222.3 L307.3,223.2 L308.9,224.2 L310.6,225.0 L312.4,225.9 L314.1,226.7 L315.9,227.6 L317.6,228.3 L319.4,229.1 L321.1,229.9 L322.7,230.7 L324.3,231.4 L325.9,232.2 L327.4,232.9 L329.0,233.6 L330.4,234.3 L331.9,235.0 L333.4,235.6 L334.9,236.3 L336.4,237.0 L337.9,237.6 L339.4,238.3 L341.0,239.0 L342.7,239.7 L344.4,240.5 L346.4,241.3 L348.4,242.2 L350.5,243.1 L352.6,244.0 L354.7,244.9 L356.7,245.7 L358.6,246.5 L360.4,247.3 L362.0,247.9 L363.3,248.5 L364.4,249.0 L365.6,246.0 L364.6,245.6 L363.2,245.0 L361.6,244.4 L359.9,243.6 L357.9,242.8 L355.9,242.0 L353.8,241.1 L351.7,240.2 L349.6,239.3 L347.6,238.4 L345.7,237.6 L343.9,236.9 L342.3,236.1 L340.7,235.4 L339.2,234.8 L337.7,234.1 L336.2,233.4 L334.7,232.8 L333.2,232.1 L331.8,231.4 L330.3,230.7 L328.8,230.0 L327.2,229.3 L325.7,228.6 L324.0,227.8 L322.4,227.0 L320.7,226.3 L318.9,225.5 L317.2,224.7 L315.5,223.9 L313.8,223.1 L312.1,222.2 L310.4,221.4 L308.8,220.5 L307.3,219.6 L305.8,218.7 L304.4,217.8 L302.9,216.8 L301.5,215.8 L300.1,214.7 L298.7,213.6 L297.3,212.5 L296.0,211.4 L294.8,210.3 L293.7,209.2 L292.6,208.1 L291.7,207.1 L290.9,206.1 L290.2,205.1 L289.6,204.1 L289.1,203.0 L288.7,202.0 L288.4,200.9 L288.1,199.8 L287.9,198.8 L287.7,197.8 L287.5,196.9 L287.4,196.1 L287.2,195.4 L287.1,194.8Z"/>
<path d="M176.1,392.7 L175.6,393.7 L174.9,394.9 L174.1,396.4 L173.2,398.2 L172.2,400.0 L171.1,402.0 L170.2,404.0 L169.2,406.0 L168.4,408.1 L167.8,410.0 L167.4,411.9 L167.2,413.7 L167.3,415.3 L167.5,416.8 L167.9,418.3 L168.3,419.8 L169.0,421.2 L169.7,422.6 L170.6,423.9 L171.6,425.2 L172.7,426.5 L173.9,427.7 L175.2,429.0 L176.7,430.2 L178.3,431.4 L180.1,432.6 L182.1,433.8 L184.2,434.9 L186.4,436.0 L188.7,437.1 L191.0,438.2 L193.4,439.2 L195.9,440.1 L198.3,441.1 L200.8,442.0 L203.2,442.8 L205.6,443.6 L208.2,444.3 L210.8,445.1 L213.4,445.7 L216.0,446.4 L218.7,447.0 L221.4,447.5 L224.0,448.0 L226.6,448.5 L229.2,449.0 L231.7,449.4 L234.1,449.8 L236.5,450.1 L239.0,450.4 L241.5,450.6 L244.0,450.8 L246.4,450.9 L248.8,451.0 L251.1,451.1 L253.2,451.2 L255.1,451.2 L256.9,451.3 L258.3,451.3 L259.5,451.4 L259.7,448.2 L258.5,448.2 L257.0,448.1 L255.2,448.1 L253.3,448.0 L251.2,447.9 L248.9,447.9 L246.6,447.8 L244.2,447.6 L241.7,447.4 L239.3,447.2 L236.9,447.0 L234.5,446.6 L232.2,446.3 L229.7,445.9 L227.2,445.4 L224.6,444.9 L222.0,444.4 L219.4,443.9 L216.8,443.3 L214.1,442.7 L211.6,442.0 L209.0,441.3 L206.6,440.6 L204.2,439.8 L201.8,439.0 L199.4,438.1 L197.0,437.2 L194.6,436.3 L192.3,435.3 L190.0,434.2 L187.7,433.2 L185.6,432.1 L183.6,431.0 L181.7,429.9 L180.0,428.9 L178.5,427.8 L177.1,426.7 L175.9,425.6 L174.7,424.5 L173.7,423.4 L172.8,422.3 L172.0,421.2 L171.3,420.0 L170.7,418.8 L170.3,417.6 L169.9,416.4 L169.7,415.0 L169.6,413.7 L169.7,412.3 L170.0,410.6 L170.5,408.8 L171.2,406.8 L172.0,404.8 L172.9,402.8 L173.8,400.9 L174.8,399.0 L175.6,397.2 L176.4,395.7 L177.1,394.4 L177.5,393.3Z"/>
<path d="M166.0,501.0 L165.9,500.1 L165.7,499.0 L165.4,497.8 L165.1,496.4 L164.7,494.9 L164.4,493.3 L164.1,491.7 L163.9,490.1 L163.8,488.5 L163.7,487.0 L163.8,485.7 L164.1,484.4 L164.4,483.2 L164.9,482.0 L165.4,480.8 L165.9,479.7 L166.6,478.5 L167.3,477.4 L168.1,476.3 L169.0,475.3 L170.0,474.3 L171.1,473.4 L172.4,472.5 L173.7,471.7 L175.3,470.9 L177.0,470.1 L179.0,469.4 L181.1,468.7 L183.4,468.0 L185.7,467.4 L188.1,466.9 L190.5,466.4 L192.8,465.9 L195.1,465.5 L197.2,465.2 L199.2,465.0 L201.0,464.8 L202.7,464.7 L204.5,464.7 L206.2,464.8 L207.8,465.0 L209.4,465.1 L211.0,465.4 L212.6,465.6 L214.2,465.8 L215.8,466.1 L217.3,466.3 L218.8,466.5 L220.4,466.6 L221.9,466.8 L223.5,467.0 L225.1,467.2 L226.6,467.4 L228.1,467.6 L229.5,467.8 L230.9,468.0 L232.1,468.2 L233.2,468.3 L234.1,468.5 L234.9,468.6 L235.3,465.6 L234.5,465.5 L233.6,465.4 L232.5,465.3 L231.3,465.1 L229.9,464.9 L228.5,464.7 L227.0,464.5 L225.4,464.3 L223.9,464.1 L222.3,463.9 L220.7,463.7 L219.2,463.5 L217.7,463.4 L216.2,463.2 L214.6,462.9 L213.1,462.7 L211.5,462.5 L209.8,462.2 L208.1,462.0 L206.4,461.9 L204.6,461.8 L202.7,461.8 L200.8,461.9 L198.8,462.0 L196.8,462.3 L194.6,462.6 L192.3,463.0 L189.9,463.5 L187.5,464.0 L185.0,464.6 L182.6,465.2 L180.3,465.9 L178.0,466.6 L175.9,467.4 L174.0,468.2 L172.3,469.1 L170.8,470.1 L169.4,471.2 L168.1,472.3 L167.0,473.5 L166.0,474.7 L165.2,476.0 L164.4,477.3 L163.7,478.6 L163.2,479.9 L162.7,481.3 L162.3,482.6 L161.9,484.0 L161.7,485.4 L161.7,487.0 L161.8,488.7 L162.0,490.4 L162.3,492.0 L162.6,493.7 L163.0,495.3 L163.4,496.8 L163.8,498.2 L164.2,499.4 L164.4,500.4 L164.6,501.2Z"/>
<path d="M357.5,549.0 L357.3,549.9 L357.0,550.9 L356.6,552.2 L356.2,553.7 L355.7,555.2 L355.2,556.9 L354.8,558.6 L354.4,560.3 L354.1,562.1 L353.9,563.8 L353.8,565.4 L353.9,566.8 L354.1,568.2 L354.4,569.5 L354.7,570.8 L355.2,572.1 L355.7,573.4 L356.3,574.6 L357.0,575.8 L357.9,577.0 L358.8,578.1 L359.9,579.2 L361.2,580.2 L362.6,581.2 L364.1,582.1 L365.9,583.0 L367.8,583.8 L369.9,584.6 L372.1,585.4 L374.3,586.0 L376.6,586.7 L379.0,587.2 L381.3,587.8 L383.6,588.2 L385.9,588.7 L388.0,589.1 L390.1,589.4 L392.1,589.7 L394.0,589.9 L395.9,590.1 L397.9,590.3 L399.8,590.4 L401.8,590.4 L403.9,590.4 L406.1,590.4 L408.4,590.2 L410.8,590.1 L413.4,589.9 L416.4,589.6 L419.8,589.1 L423.4,588.6 L427.3,588.0 L431.2,587.3 L435.1,586.6 L439.0,585.9 L442.7,585.2 L446.0,584.6 L449.1,584.1 L451.6,583.6 L453.6,583.3 L453.0,580.1 L451.0,580.5 L448.5,581.0 L445.5,581.5 L442.1,582.1 L438.4,582.8 L434.6,583.5 L430.7,584.2 L426.7,584.8 L422.9,585.5 L419.3,586.0 L416.0,586.4 L413.2,586.7 L410.6,586.9 L408.2,587.1 L405.9,587.2 L403.8,587.3 L401.8,587.3 L399.9,587.2 L398.1,587.1 L396.2,587.0 L394.4,586.8 L392.5,586.5 L390.6,586.3 L388.6,585.9 L386.4,585.6 L384.2,585.2 L382.0,584.7 L379.7,584.2 L377.4,583.6 L375.2,583.0 L373.0,582.4 L370.9,581.7 L368.9,581.0 L367.1,580.3 L365.5,579.6 L364.0,578.8 L362.8,578.0 L361.7,577.2 L360.7,576.3 L359.9,575.3 L359.1,574.4 L358.5,573.4 L357.9,572.3 L357.4,571.2 L357.0,570.1 L356.6,568.9 L356.3,567.7 L356.1,566.6 L356.0,565.3 L356.0,563.9 L356.1,562.3 L356.3,560.7 L356.7,559.0 L357.0,557.3 L357.4,555.7 L357.9,554.1 L358.2,552.7 L358.6,551.4 L358.9,550.3 L359.1,549.4Z"/>
<path d="M553.5,393.7 L553.1,394.3 L552.6,395.0 L551.9,395.9 L551.2,396.9 L550.4,398.0 L549.6,399.1 L548.8,400.3 L548.0,401.5 L547.4,402.8 L546.9,404.0 L546.6,405.2 L546.4,406.4 L546.5,407.5 L546.8,408.6 L547.1,409.7 L547.6,410.8 L548.1,411.9 L548.8,412.9 L549.5,414.0 L550.3,415.0 L551.2,416.0 L552.1,416.9 L553.1,417.9 L554.1,418.8 L555.2,419.7 L556.4,420.6 L557.8,421.5 L559.1,422.4 L560.6,423.3 L562.1,424.2 L563.6,425.0 L565.1,425.8 L566.6,426.6 L568.1,427.4 L569.5,428.1 L570.8,428.8 L572.2,429.5 L573.6,430.2 L575.0,430.9 L576.5,431.5 L577.9,432.2 L579.3,432.8 L580.7,433.4 L581.9,433.9 L583.1,434.4 L584.1,434.8 L585.0,435.2 L585.7,435.5 L586.5,433.5 L585.8,433.2 L584.9,432.9 L583.9,432.4 L582.7,431.9 L581.5,431.4 L580.1,430.9 L578.8,430.3 L577.3,429.6 L575.9,429.0 L574.5,428.3 L573.1,427.6 L571.8,427.0 L570.4,426.3 L569.0,425.5 L567.6,424.8 L566.1,424.0 L564.6,423.2 L563.1,422.3 L561.7,421.5 L560.3,420.7 L558.9,419.8 L557.7,418.9 L556.5,418.1 L555.5,417.2 L554.5,416.3 L553.6,415.4 L552.7,414.5 L551.9,413.6 L551.1,412.7 L550.4,411.8 L549.8,410.9 L549.3,410.0 L548.8,409.1 L548.5,408.2 L548.3,407.3 L548.2,406.4 L548.2,405.5 L548.4,404.5 L548.8,403.4 L549.4,402.2 L550.0,401.0 L550.7,399.8 L551.4,398.7 L552.2,397.6 L552.9,396.6 L553.5,395.7 L554.0,394.9 L554.3,394.3Z"/>
<path d="M529.0,456.1 L529.0,455.5 L529.0,454.7 L528.9,453.7 L528.9,452.6 L528.8,451.5 L528.8,450.3 L528.8,449.1 L528.9,448.0 L529.1,446.8 L529.3,445.8 L529.6,444.9 L530.0,444.2 L530.5,443.5 L531.2,442.8 L531.9,442.1 L532.7,441.4 L533.5,440.8 L534.5,440.2 L535.5,439.7 L536.5,439.2 L537.6,438.8 L538.7,438.4 L539.8,438.1 L541.0,437.8 L542.1,437.6 L543.4,437.5 L544.7,437.4 L546.0,437.4 L547.4,437.5 L548.9,437.5 L550.3,437.7 L551.9,437.8 L553.4,438.0 L555.0,438.2 L556.6,438.5 L558.2,438.8 L559.8,439.1 L561.5,439.5 L563.3,439.9 L565.1,440.4 L566.9,440.9 L568.7,441.4 L570.6,441.9 L572.4,442.5 L574.2,443.1 L575.9,443.7 L577.5,444.3 L579.1,444.9 L580.6,445.6 L582.2,446.3 L583.7,447.0 L585.3,447.8 L586.8,448.7 L588.2,449.5 L589.6,450.3 L590.9,451.0 L592.1,451.7 L593.2,452.4 L594.1,452.9 L594.9,453.3 L596.1,451.1 L595.4,450.6 L594.5,450.1 L593.4,449.5 L592.2,448.8 L590.9,448.0 L589.5,447.2 L588.0,446.4 L586.5,445.5 L584.9,444.7 L583.3,443.9 L581.7,443.2 L580.1,442.5 L578.5,441.9 L576.8,441.2 L575.0,440.6 L573.2,440.0 L571.4,439.4 L569.5,438.9 L567.6,438.3 L565.7,437.8 L563.9,437.3 L562.1,436.9 L560.3,436.5 L558.6,436.2 L557.0,435.9 L555.4,435.7 L553.8,435.4 L552.2,435.2 L550.6,435.0 L549.0,434.9 L547.5,434.8 L546.0,434.8 L544.6,434.8 L543.1,434.9 L541.8,435.1 L540.4,435.4 L539.2,435.7 L537.9,436.1 L536.7,436.6 L535.5,437.2 L534.4,437.7 L533.3,438.4 L532.3,439.1 L531.4,439.8 L530.5,440.6 L529.7,441.5 L529.0,442.3 L528.4,443.2 L527.9,444.2 L527.6,445.4 L527.4,446.6 L527.2,447.8 L527.2,449.1 L527.2,450.4 L527.3,451.6 L527.4,452.7 L527.5,453.8 L527.6,454.7 L527.6,455.5 L527.6,456.1Z"/>
<path d="M552.4,319.4 L552.9,319.6 L553.5,319.9 L554.3,320.3 L555.1,320.8 L556.1,321.3 L557.1,321.8 L558.1,322.2 L559.1,322.7 L560.2,323.0 L561.2,323.3 L562.2,323.4 L563.1,323.4 L563.9,323.3 L564.7,323.0 L565.5,322.7 L566.2,322.2 L566.9,321.7 L567.6,321.1 L568.2,320.5 L568.8,319.8 L569.4,319.0 L570.0,318.2 L570.6,317.3 L571.2,316.4 L571.8,315.3 L572.4,314.0 L573.0,312.6 L573.6,311.1 L574.2,309.5 L574.7,307.9 L575.2,306.4 L575.7,304.9 L576.2,303.5 L576.6,302.3 L577.0,301.3 L577.2,300.5 L575.8,299.9 L575.5,300.7 L575.1,301.8 L574.7,303.0 L574.3,304.4 L573.8,305.9 L573.2,307.4 L572.7,309.0 L572.1,310.5 L571.5,312.0 L570.9,313.4 L570.4,314.6 L569.8,315.6 L569.3,316.5 L568.7,317.3 L568.2,318.1 L567.6,318.8 L567.1,319.4 L566.5,320.0 L565.9,320.5 L565.3,320.9 L564.7,321.3 L564.2,321.6 L563.5,321.8 L562.9,322.0 L562.2,322.0 L561.4,322.0 L560.5,321.8 L559.5,321.5 L558.5,321.2 L557.5,320.8 L556.5,320.3 L555.5,319.9 L554.7,319.5 L553.9,319.1 L553.2,318.8 L552.6,318.6Z"/>
<path d="M619.9,331.3 L619.5,331.4 L618.9,331.5 L618.2,331.7 L617.5,331.9 L616.7,332.1 L615.9,332.2 L615.0,332.4 L614.2,332.5 L613.4,332.5 L612.6,332.4 L611.9,332.2 L611.3,331.9 L610.7,331.5 L610.1,330.9 L609.4,330.2 L608.7,329.4 L608.1,328.6 L607.4,327.6 L606.7,326.7 L606.1,325.7 L605.6,324.7 L605.1,323.7 L604.6,322.7 L604.2,321.7 L604.0,320.8 L603.7,319.7 L603.6,318.6 L603.5,317.4 L603.4,316.2 L603.4,314.9 L603.4,313.8 L603.4,312.6 L603.5,311.6 L603.5,310.6 L603.5,309.8 L603.5,309.2 L601.9,309.2 L601.9,309.8 L601.9,310.6 L601.9,311.5 L601.9,312.6 L601.8,313.7 L601.8,314.9 L601.9,316.2 L601.9,317.5 L602.0,318.7 L602.2,320.0 L602.4,321.2 L602.8,322.3 L603.2,323.3 L603.6,324.4 L604.2,325.4 L604.8,326.5 L605.4,327.5 L606.1,328.6 L606.8,329.5 L607.5,330.4 L608.3,331.3 L609.1,332.0 L609.9,332.6 L610.7,333.1 L611.5,333.5 L612.4,333.6 L613.3,333.7 L614.3,333.6 L615.2,333.5 L616.1,333.3 L616.9,333.0 L617.7,332.8 L618.5,332.5 L619.1,332.3 L619.6,332.2 L620.1,332.1Z"/>
<path d="M643.9,326.8 L643.4,326.9 L642.7,327.0 L641.9,327.2 L641.0,327.4 L640.0,327.6 L639.0,327.8 L638.0,328.0 L637.0,328.0 L636.1,328.0 L635.2,327.9 L634.5,327.7 L633.9,327.4 L633.4,326.9 L632.8,326.2 L632.2,325.5 L631.7,324.5 L631.2,323.5 L630.7,322.4 L630.2,321.3 L629.7,320.1 L629.3,319.0 L628.9,317.9 L628.6,316.8 L628.3,315.8 L628.0,314.8 L627.7,313.8 L627.6,312.7 L627.4,311.7 L627.3,310.6 L627.2,309.5 L627.1,308.5 L627.0,307.6 L626.9,306.7 L626.9,305.9 L626.8,305.2 L626.8,304.6 L625.2,304.8 L625.3,305.3 L625.3,306.0 L625.4,306.8 L625.4,307.7 L625.5,308.6 L625.6,309.7 L625.7,310.8 L625.8,311.9 L626.0,313.0 L626.2,314.1 L626.4,315.2 L626.7,316.2 L627.1,317.3 L627.4,318.4 L627.8,319.5 L628.3,320.7 L628.7,321.9 L629.2,323.1 L629.7,324.2 L630.3,325.3 L630.9,326.3 L631.6,327.2 L632.3,328.0 L633.1,328.6 L634.0,329.0 L635.0,329.3 L636.0,329.3 L637.1,329.3 L638.2,329.1 L639.2,328.9 L640.3,328.6 L641.2,328.4 L642.1,328.1 L642.9,327.9 L643.6,327.7 L644.1,327.6Z"/>
<path d="M736.8,322.2 L736.5,323.0 L736.1,323.9 L735.5,325.1 L734.9,326.4 L734.2,327.8 L733.5,329.3 L732.8,330.9 L732.3,332.5 L731.8,334.0 L731.5,335.6 L731.3,337.1 L731.4,338.5 L731.8,339.8 L732.2,341.0 L732.8,342.2 L733.5,343.3 L734.3,344.4 L735.2,345.5 L736.3,346.6 L737.4,347.6 L738.6,348.5 L739.8,349.5 L741.2,350.4 L742.6,351.2 L744.2,352.1 L745.9,352.9 L747.7,353.7 L749.6,354.4 L751.6,355.2 L753.7,355.8 L755.8,356.5 L757.9,357.1 L760.1,357.6 L762.2,358.1 L764.4,358.6 L766.5,358.9 L768.5,359.3 L770.7,359.5 L772.8,359.7 L775.0,359.9 L777.2,359.9 L779.3,360.0 L781.5,360.0 L783.6,360.0 L785.7,360.0 L787.8,359.9 L789.8,359.8 L791.8,359.8 L793.7,359.7 L795.8,359.5 L797.8,359.3 L799.9,359.1 L801.9,358.8 L803.9,358.6 L805.7,358.3 L807.5,358.0 L809.1,357.8 L810.5,357.6 L811.7,357.4 L812.7,357.3 L812.3,354.3 L811.3,354.5 L810.1,354.7 L808.6,354.9 L807.0,355.1 L805.3,355.4 L803.5,355.6 L801.5,355.9 L799.5,356.2 L797.5,356.4 L795.5,356.6 L793.6,356.7 L791.6,356.8 L789.7,356.9 L787.7,357.0 L785.7,357.0 L783.6,357.1 L781.5,357.1 L779.4,357.1 L777.3,357.0 L775.1,356.9 L773.0,356.8 L771.0,356.6 L768.9,356.4 L766.9,356.1 L764.9,355.7 L762.9,355.3 L760.8,354.8 L758.7,354.2 L756.6,353.7 L754.6,353.0 L752.6,352.4 L750.6,351.7 L748.8,351.0 L747.1,350.2 L745.4,349.5 L744.0,348.8 L742.6,348.0 L741.3,347.2 L740.1,346.4 L739.0,345.6 L738.0,344.7 L737.0,343.8 L736.2,342.9 L735.4,342.0 L734.8,341.0 L734.3,340.1 L733.8,339.1 L733.6,338.1 L733.4,337.1 L733.5,335.9 L733.7,334.5 L734.1,333.0 L734.6,331.5 L735.2,330.0 L735.8,328.5 L736.4,327.1 L737.0,325.8 L737.5,324.6 L737.9,323.6 L738.2,322.8Z"/>
<path d="M753.5,434.7 L753.3,435.4 L752.9,436.2 L752.5,437.1 L752.0,438.2 L751.4,439.4 L750.9,440.6 L750.3,441.9 L749.9,443.2 L749.5,444.5 L749.2,445.9 L749.0,447.2 L749.0,448.4 L749.1,449.5 L749.3,450.6 L749.6,451.7 L750.0,452.8 L750.4,453.9 L750.9,455.0 L751.5,456.1 L752.2,457.1 L753.0,458.1 L753.9,459.1 L754.8,460.1 L755.9,461.0 L757.0,461.9 L758.3,462.8 L759.6,463.7 L761.0,464.5 L762.5,465.3 L764.1,466.1 L765.7,466.8 L767.4,467.5 L769.2,468.2 L771.0,468.7 L772.8,469.3 L774.7,469.7 L776.6,470.1 L778.5,470.5 L780.5,470.7 L782.5,470.9 L784.6,471.1 L786.7,471.2 L788.9,471.3 L791.1,471.4 L793.3,471.4 L795.5,471.5 L797.7,471.5 L800.0,471.5 L802.4,471.4 L805.0,471.4 L807.8,471.2 L810.6,471.1 L813.4,470.9 L816.3,470.7 L819.0,470.5 L821.6,470.3 L824.0,470.2 L826.1,470.0 L827.9,469.9 L829.3,469.8 L829.1,466.8 L827.7,466.9 L825.9,467.1 L823.7,467.2 L821.4,467.4 L818.8,467.6 L816.1,467.8 L813.3,468.0 L810.4,468.2 L807.6,468.3 L804.9,468.4 L802.3,468.5 L800.0,468.5 L797.8,468.5 L795.5,468.5 L793.3,468.5 L791.1,468.5 L789.0,468.4 L786.9,468.3 L784.8,468.2 L782.8,468.0 L780.9,467.8 L779.0,467.6 L777.1,467.2 L775.3,466.9 L773.6,466.4 L771.9,465.9 L770.2,465.4 L768.5,464.8 L766.9,464.1 L765.3,463.4 L763.8,462.7 L762.4,462.0 L761.0,461.3 L759.7,460.5 L758.6,459.7 L757.5,459.0 L756.6,458.2 L755.7,457.4 L754.9,456.6 L754.2,455.7 L753.5,454.8 L753.0,453.9 L752.5,453.0 L752.0,452.0 L751.7,451.1 L751.4,450.1 L751.2,449.2 L751.0,448.2 L751.0,447.3 L751.1,446.2 L751.3,445.0 L751.6,443.8 L752.0,442.5 L752.5,441.2 L753.0,440.0 L753.5,438.8 L753.9,437.7 L754.3,436.8 L754.7,435.9 L754.9,435.3Z"/>
<path d="M762.0,523.1 L761.8,522.4 L761.5,521.6 L761.1,520.6 L760.7,519.5 L760.3,518.3 L759.9,517.1 L759.5,515.8 L759.1,514.5 L758.8,513.3 L758.7,512.1 L758.6,511.0 L758.6,510.1 L758.7,509.1 L758.9,508.2 L759.2,507.2 L759.5,506.3 L759.8,505.3 L760.3,504.4 L760.8,503.5 L761.3,502.7 L762.0,501.8 L762.7,501.0 L763.4,500.2 L764.3,499.4 L765.2,498.6 L766.3,497.8 L767.5,496.9 L768.8,496.1 L770.2,495.3 L771.7,494.5 L773.1,493.7 L774.7,493.0 L776.2,492.3 L777.7,491.7 L779.1,491.1 L780.5,490.6 L781.8,490.1 L783.2,489.7 L784.5,489.4 L785.9,489.1 L787.3,488.9 L788.6,488.6 L790.0,488.4 L791.4,488.3 L792.7,488.1 L794.1,488.0 L795.5,487.9 L796.8,487.8 L798.2,487.7 L799.6,487.6 L801.1,487.6 L802.6,487.6 L804.1,487.6 L805.6,487.6 L807.0,487.6 L808.4,487.7 L809.6,487.7 L810.7,487.7 L811.7,487.8 L812.5,487.8 L812.5,484.8 L811.8,484.8 L810.8,484.8 L809.7,484.8 L808.5,484.7 L807.1,484.7 L805.7,484.6 L804.2,484.6 L802.6,484.6 L801.1,484.6 L799.5,484.7 L798.0,484.7 L796.6,484.8 L795.2,485.0 L793.8,485.1 L792.4,485.2 L791.0,485.4 L789.6,485.5 L788.2,485.7 L786.8,486.0 L785.3,486.2 L783.9,486.5 L782.4,486.9 L781.0,487.3 L779.5,487.8 L778.0,488.4 L776.5,489.0 L775.0,489.6 L773.4,490.3 L771.8,491.1 L770.3,491.9 L768.8,492.7 L767.3,493.6 L765.9,494.5 L764.6,495.4 L763.4,496.3 L762.3,497.2 L761.4,498.2 L760.5,499.2 L759.8,500.2 L759.1,501.2 L758.5,502.3 L758.0,503.3 L757.5,504.4 L757.2,505.5 L756.9,506.6 L756.6,507.7 L756.5,508.8 L756.4,509.9 L756.4,511.2 L756.6,512.4 L756.9,513.7 L757.3,515.1 L757.7,516.4 L758.2,517.7 L758.7,518.9 L759.2,520.1 L759.6,521.2 L760.1,522.1 L760.4,522.9 L760.6,523.5Z"/>
<path d="M795.3,557.7 L795.3,558.4 L795.4,559.2 L795.5,560.2 L795.5,561.3 L795.6,562.6 L795.7,563.9 L795.9,565.2 L796.1,566.6 L796.3,568.0 L796.6,569.3 L797.0,570.6 L797.4,571.8 L797.9,572.9 L798.5,574.0 L799.1,575.1 L799.8,576.2 L800.5,577.3 L801.3,578.4 L802.1,579.4 L803.0,580.4 L803.9,581.4 L804.8,582.3 L805.8,583.1 L806.8,583.9 L807.8,584.6 L808.8,585.3 L809.9,585.9 L811.0,586.5 L812.2,587.0 L813.4,587.5 L814.6,587.9 L815.9,588.2 L817.2,588.5 L818.5,588.8 L819.9,588.9 L821.3,589.0 L822.7,588.9 L824.1,588.8 L825.5,588.6 L827.0,588.3 L828.4,588.0 L829.9,587.6 L831.4,587.2 L833.0,586.7 L834.6,586.1 L836.4,585.6 L838.2,584.9 L840.2,584.3 L842.3,583.6 L844.6,582.8 L847.0,581.9 L849.5,581.0 L852.2,580.1 L854.8,579.0 L857.5,578.0 L860.2,577.0 L862.9,575.9 L865.6,574.8 L868.1,573.8 L870.6,572.8 L873.0,571.7 L875.6,570.5 L878.2,569.3 L880.9,568.0 L883.5,566.8 L886.0,565.5 L888.5,564.3 L890.8,563.1 L892.9,562.1 L894.8,561.1 L896.4,560.4 L897.6,559.7 L896.4,557.1 L895.1,557.7 L893.4,558.5 L891.6,559.5 L889.5,560.5 L887.2,561.7 L884.7,562.9 L882.2,564.1 L879.6,565.4 L877.0,566.6 L874.4,567.8 L871.9,569.0 L869.4,570.0 L867.0,571.1 L864.4,572.1 L861.8,573.2 L859.2,574.2 L856.5,575.3 L853.8,576.3 L851.1,577.3 L848.5,578.3 L846.0,579.2 L843.6,580.0 L841.3,580.8 L839.2,581.5 L837.3,582.2 L835.4,582.8 L833.7,583.4 L832.1,583.9 L830.5,584.4 L829.1,584.8 L827.7,585.2 L826.4,585.5 L825.1,585.7 L823.8,585.9 L822.5,586.0 L821.3,586.0 L820.1,586.0 L818.8,585.9 L817.7,585.8 L816.5,585.6 L815.4,585.3 L814.3,584.9 L813.2,584.6 L812.1,584.1 L811.1,583.6 L810.1,583.1 L809.1,582.5 L808.2,581.9 L807.3,581.2 L806.4,580.5 L805.5,579.7 L804.7,578.9 L803.8,578.0 L803.0,577.0 L802.3,576.1 L801.6,575.1 L800.9,574.1 L800.3,573.0 L799.7,572.0 L799.2,571.0 L798.8,570.0 L798.4,568.8 L798.1,567.6 L797.8,566.3 L797.6,565.0 L797.4,563.7 L797.3,562.4 L797.1,561.2 L797.0,560.1 L796.9,559.1 L796.8,558.2 L796.7,557.5Z"/>
</g>
<g fill="none" stroke="#1b89d7" stroke-linecap="round" stroke-linejoin="round">
<path d="M355.8,236.7 L365,247.5 L351.7,252.5" stroke-width="2.85"/>
<path d="M248.1,441.3 L259.6,449.8 L248.9,457.4" stroke-width="2.85"/>
<path d="M229.7,459.7 L235.1,467.1 L225.9,472" stroke-width="2.66"/>
<path d="M440,575.8 L453.3,581.7 L445,591.7" stroke-width="2.85"/>
<path d="M582,428.7 L586.1,434.5 L580.4,437.5" stroke-width="1.90"/>
<path d="M592,445.5 L595.5,452.2 L586.6,453.4" stroke-width="2.38"/>
<path d="M572.7,302.5 L576.5,300.2 L578.7,303.5" stroke-width="1.42"/>
<path d="M600.2,312 L602.7,309.2 L605.3,312" stroke-width="1.42"/>
<path d="M623.5,307.5 L626,304.7 L628.8,307.5" stroke-width="1.42"/>
<path d="M802.5,350.8 L812.5,355.8 L805.8,363.3" stroke-width="2.66"/>
<path d="M819.2,463.7 L829.2,468.3 L821.7,475.8" stroke-width="2.66"/>
<path d="M807.5,480.8 L812.5,486.3 L806.7,491.7" stroke-width="2.66"/>
<path d="M882.8,556.7 L897,558.4 L892.7,569" stroke-width="2.66"/>
</g>
<g fill="#f4b41a">
<path d="M902.5,316.7 L900.8,317.6 L898.7,318.9 L896.3,320.3 L893.4,321.9 L890.4,323.7 L887.2,325.5 L884.0,327.5 L880.7,329.5 L877.6,331.5 L874.6,333.4 L871.8,335.4 L869.4,337.2 L867.1,339.0 L865.0,340.8 L863.0,342.7 L861.0,344.6 L859.1,346.5 L857.3,348.4 L855.6,350.3 L854.1,352.1 L852.6,354.0 L851.3,355.8 L850.0,357.6 L848.9,359.3 L847.9,361.1 L847.0,362.7 L846.2,364.4 L845.5,366.1 L845.0,367.7 L844.5,369.3 L844.1,370.9 L843.9,372.5 L843.8,374.0 L843.9,375.5 L844.1,377.0 L844.5,378.4 L845.1,379.8 L845.7,381.1 L846.6,382.4 L847.6,383.6 L848.7,384.8 L849.9,385.9 L851.3,386.9 L852.7,387.9 L854.3,388.8 L856.0,389.7 L857.7,390.5 L859.6,391.2 L861.6,391.8 L863.8,392.3 L866.1,392.8 L868.5,393.2 L871.0,393.5 L873.6,393.8 L876.3,394.0 L879.0,394.2 L881.8,394.4 L884.5,394.5 L887.3,394.6 L890.0,394.7 L892.8,394.8 L895.8,394.8 L899.0,394.8 L902.3,394.7 L905.7,394.6 L908.9,394.4 L912.1,394.3 L915.1,394.1 L917.9,394.0 L920.3,393.8 L922.4,393.7 L924.1,393.6 L923.9,391.2 L922.3,391.2 L920.2,391.3 L917.7,391.5 L915.0,391.6 L912.0,391.8 L908.8,391.9 L905.6,392.1 L902.3,392.2 L899.0,392.3 L895.8,392.3 L892.8,392.3 L890.0,392.3 L887.4,392.1 L884.6,392.0 L881.9,391.9 L879.2,391.7 L876.5,391.6 L873.9,391.3 L871.3,391.1 L868.9,390.7 L866.5,390.4 L864.3,389.9 L862.3,389.4 L860.4,388.8 L858.7,388.2 L857.0,387.4 L855.5,386.6 L854.0,385.8 L852.7,384.9 L851.5,383.9 L850.4,383.0 L849.5,381.9 L848.6,380.9 L847.9,379.8 L847.3,378.7 L846.9,377.6 L846.6,376.5 L846.4,375.3 L846.3,374.0 L846.4,372.7 L846.6,371.3 L846.9,369.9 L847.3,368.5 L847.9,367.0 L848.5,365.4 L849.3,363.9 L850.1,362.3 L851.1,360.7 L852.1,359.0 L853.3,357.3 L854.6,355.5 L856.0,353.7 L857.5,351.9 L859.1,350.0 L860.8,348.1 L862.6,346.2 L864.5,344.3 L866.5,342.5 L868.5,340.6 L870.6,338.8 L873.0,337.0 L875.7,335.0 L878.6,333.0 L881.7,331.0 L884.9,328.9 L888.1,326.9 L891.2,325.0 L894.2,323.2 L897.0,321.5 L899.4,320.0 L901.5,318.8 L903.1,317.7Z"/>
<path d="M902.5,357.7 L900.8,358.7 L898.7,359.9 L896.2,361.3 L893.4,363.0 L890.4,364.7 L887.2,366.6 L884.0,368.5 L880.7,370.5 L877.6,372.5 L874.6,374.5 L871.8,376.4 L869.4,378.2 L867.2,379.9 L865.0,381.7 L863.0,383.5 L861.0,385.2 L859.1,387.0 L857.4,388.8 L855.7,390.6 L854.1,392.3 L852.6,394.1 L851.3,395.9 L850.0,397.6 L848.9,399.3 L847.9,401.1 L847.0,402.8 L846.2,404.6 L845.5,406.3 L845.0,408.0 L844.5,409.8 L844.1,411.5 L843.9,413.1 L843.8,414.8 L843.9,416.4 L844.1,417.9 L844.5,419.4 L845.0,420.8 L845.7,422.1 L846.6,423.4 L847.6,424.7 L848.7,425.8 L849.9,427.0 L851.3,428.0 L852.7,429.0 L854.3,429.9 L856.0,430.7 L857.7,431.5 L859.6,432.2 L861.6,432.8 L863.8,433.3 L866.1,433.7 L868.5,434.1 L871.1,434.3 L873.7,434.6 L876.3,434.8 L879.1,434.9 L881.8,435.0 L884.5,435.1 L887.3,435.2 L890.0,435.2 L892.8,435.3 L895.8,435.3 L899.0,435.2 L902.3,435.1 L905.7,435.0 L908.9,434.8 L912.1,434.7 L915.1,434.5 L917.9,434.4 L920.3,434.2 L922.4,434.1 L924.1,434.0 L923.9,431.6 L922.3,431.6 L920.2,431.7 L917.7,431.9 L915.0,432.0 L912.0,432.2 L908.8,432.3 L905.6,432.5 L902.3,432.6 L899.0,432.7 L895.8,432.8 L892.8,432.8 L890.0,432.8 L887.3,432.7 L884.6,432.6 L881.9,432.5 L879.2,432.4 L876.5,432.3 L873.9,432.1 L871.3,431.9 L868.8,431.6 L866.5,431.2 L864.3,430.8 L862.3,430.4 L860.4,429.8 L858.7,429.2 L857.0,428.5 L855.5,427.7 L854.0,426.9 L852.7,426.0 L851.5,425.0 L850.4,424.1 L849.5,423.0 L848.6,422.0 L847.9,420.9 L847.3,419.8 L846.9,418.6 L846.6,417.4 L846.4,416.2 L846.3,414.8 L846.4,413.4 L846.6,411.9 L846.9,410.4 L847.3,408.8 L847.9,407.2 L848.5,405.5 L849.3,403.9 L850.1,402.3 L851.1,400.7 L852.1,399.0 L853.3,397.4 L854.6,395.7 L856.0,393.9 L857.5,392.2 L859.1,390.4 L860.8,388.7 L862.6,386.9 L864.5,385.1 L866.5,383.3 L868.5,381.6 L870.6,379.8 L873.0,378.0 L875.7,376.1 L878.6,374.1 L881.7,372.0 L884.9,370.0 L888.1,368.0 L891.2,366.0 L894.2,364.2 L897.0,362.5 L899.4,361.0 L901.5,359.8 L903.1,358.7Z"/>
<path d="M902.5,403.5 L900.8,404.5 L898.7,405.7 L896.2,407.2 L893.4,408.8 L890.4,410.6 L887.2,412.5 L884.0,414.5 L880.7,416.5 L877.6,418.5 L874.6,420.5 L871.8,422.4 L869.4,424.2 L867.2,425.9 L865.0,427.7 L863.0,429.5 L861.0,431.2 L859.1,433.0 L857.4,434.8 L855.7,436.6 L854.1,438.3 L852.6,440.1 L851.3,441.9 L850.0,443.6 L848.9,445.3 L847.9,447.1 L847.0,448.8 L846.2,450.6 L845.5,452.3 L845.0,454.0 L844.5,455.8 L844.1,457.5 L843.9,459.1 L843.8,460.8 L843.9,462.4 L844.1,463.9 L844.5,465.4 L845.0,466.8 L845.7,468.1 L846.6,469.4 L847.6,470.7 L848.7,471.8 L849.9,473.0 L851.3,474.0 L852.7,475.0 L854.3,475.9 L856.0,476.7 L857.7,477.5 L859.6,478.2 L861.6,478.8 L863.8,479.3 L866.1,479.7 L868.5,480.1 L871.1,480.3 L873.7,480.6 L876.3,480.7 L879.1,480.9 L881.8,481.0 L884.5,481.1 L887.3,481.2 L890.0,481.2 L892.8,481.3 L895.8,481.3 L899.0,481.3 L902.3,481.2 L905.7,481.1 L908.9,480.9 L912.1,480.8 L915.1,480.7 L917.9,480.5 L920.3,480.4 L922.4,480.3 L924.0,480.2 L924.0,477.8 L922.3,477.8 L920.2,477.9 L917.7,478.0 L915.0,478.2 L912.0,478.3 L908.8,478.4 L905.6,478.6 L902.3,478.7 L899.0,478.8 L895.8,478.8 L892.8,478.8 L890.0,478.8 L887.3,478.7 L884.6,478.6 L881.9,478.5 L879.2,478.4 L876.5,478.2 L873.9,478.1 L871.3,477.8 L868.8,477.6 L866.5,477.2 L864.3,476.8 L862.3,476.4 L860.4,475.8 L858.7,475.2 L857.0,474.5 L855.5,473.7 L854.0,472.9 L852.7,472.0 L851.5,471.0 L850.4,470.1 L849.5,469.0 L848.6,468.0 L847.9,466.9 L847.3,465.8 L846.9,464.6 L846.6,463.4 L846.4,462.2 L846.3,460.8 L846.4,459.4 L846.6,457.9 L846.9,456.4 L847.3,454.8 L847.9,453.2 L848.5,451.5 L849.3,449.9 L850.1,448.3 L851.1,446.7 L852.1,445.0 L853.3,443.4 L854.6,441.7 L856.0,440.0 L857.5,438.2 L859.1,436.5 L860.8,434.7 L862.6,432.9 L864.5,431.1 L866.5,429.3 L868.5,427.6 L870.6,425.8 L873.0,424.0 L875.7,422.1 L878.6,420.0 L881.7,418.0 L884.9,415.9 L888.1,413.9 L891.2,411.9 L894.2,410.1 L897.0,408.4 L899.4,406.9 L901.5,405.6 L903.1,404.5Z"/>
</g>
<g fill="none" stroke="#f4b41a" stroke-linecap="round" stroke-linejoin="round" stroke-width="2.2">
<path d="M916,386.5 L924,392.4 L916,398"/>
<path d="M916,427 L924,432.8 L916,438.5"/>
<path d="M916,473 L924,479 L916,484.5"/>
</g>

<!-- SUN -->
<g fill="none" stroke="#f4b41a" stroke-linecap="round">
<path d="M1033.2,185.1L1028.9,201M1006.1,192L1011.9,205.3M1057,201L1045.4,210M987,213.7L999.2,218.5M1061.8,229.4L1049.1,229.7M986.5,247.7L998.7,238.7M1050.7,254.6L1042.2,246.7M1013,250.9L1008.7,263.1M1024.7,254.1L1024.7,264.2M1016.2,198.4L1017.2,203.1M1021.5,196.8L1022,201.5M1040,197.8L1037.4,202.6M1043.8,203.1L1041.1,205.8M1002.4,206.8L1005.6,209.5M999.7,211.6L1003.4,213.2M1051.7,214.8L1048,216.4M1052.8,220.1L1048.6,221.2M992.8,228.6L998.1,229.1M994.4,235L998.7,234.7M1051.7,238.7L1047.5,237.6M1049.1,244L1045.9,242.4M1001.8,247.7L999.2,250.4M1007.7,248.2L1005.6,252M1016.2,253.6L1015.1,257.3M1020.4,253.6L1019.9,257.8M1029.4,253.6L1030.5,258.3M1036.3,251.4L1038.5,255.1" stroke-width="1.6"/>
<ellipse cx="1024.5" cy="227.3" rx="20.3" ry="20.5" stroke-width="2.2"/>
<ellipse cx="1024.2" cy="227.5" rx="14.2" ry="14" stroke-width="2.1"/>
<ellipse cx="1024" cy="227.2" rx="8" ry="8.2" stroke-width="1.8"/>
<path d="M1024.5,223.5 C1027,223.8 1027.8,226.5 1027,228.8 C1026,231 1022.5,231 1021.4,228.8 C1020.6,227 1021.5,224.5 1023.6,224.6 L1024.2,226.8" stroke-width="1.5"/>
</g>

<!-- AIR BRICKS -->
<defs>
<pattern id="brick" width="52" height="52" patternUnits="userSpaceOnUse" patternTransform="translate(1016.4,536.9) scale(1,0.76) rotate(45)"><rect width="52" height="52" fill="#fff"/><g transform="translate(13,13) rotate(0) translate(-13,-13)"><rect x="2.5" y="2.5" width="21" height="21" fill="none" stroke="#a9a9a9" stroke-width="0.7"/><rect x="11" y="11" width="10.5" height="10.5" fill="#cdcdc9" stroke="#a2a2a2" stroke-width="1.8"/><rect x="5" y="4.8" width="16.5" height="3.6" fill="#a9a9a9"/><rect x="4.8" y="11" width="3.6" height="10.5" fill="#a9a9a9"/></g><g transform="translate(39,13) rotate(90) translate(-13,-13)"><rect x="2.5" y="2.5" width="21" height="21" fill="none" stroke="#a9a9a9" stroke-width="0.7"/><rect x="11" y="11" width="10.5" height="10.5" fill="#cdcdc9" stroke="#a2a2a2" stroke-width="1.8"/><rect x="5" y="4.8" width="16.5" height="3.6" fill="#a9a9a9"/><rect x="4.8" y="11" width="3.6" height="10.5" fill="#a9a9a9"/></g><g transform="translate(13,39) rotate(270) translate(-13,-13)"><rect x="2.5" y="2.5" width="21" height="21" fill="none" stroke="#a9a9a9" stroke-width="0.7"/><rect x="11" y="11" width="10.5" height="10.5" fill="#cdcdc9" stroke="#a2a2a2" stroke-width="1.8"/><rect x="5" y="4.8" width="16.5" height="3.6" fill="#a9a9a9"/><rect x="4.8" y="11" width="3.6" height="10.5" fill="#a9a9a9"/></g><g transform="translate(39,39) rotate(180) translate(-13,-13)"><rect x="2.5" y="2.5" width="21" height="21" fill="none" stroke="#a9a9a9" stroke-width="0.7"/><rect x="11" y="11" width="10.5" height="10.5" fill="#cdcdc9" stroke="#a2a2a2" stroke-width="1.8"/><rect x="5" y="4.8" width="16.5" height="3.6" fill="#a9a9a9"/><rect x="4.8" y="11" width="3.6" height="10.5" fill="#a9a9a9"/></g></pattern>
<clipPath id="bc"><circle cx="1016.4" cy="536.9" r="59"/></clipPath>
</defs>
<circle cx="1016.4" cy="536.9" r="59" fill="url(#brick)"/>
<circle cx="1016.4" cy="536.9" r="59.4" fill="none" stroke="#5e5e5e" stroke-width="1.8" stroke-dasharray="4.2,2.8"/>
<text x="979.3" y="620.2" font-family="Liberation Sans, sans-serif" font-size="16" fill="#505050" stroke="#fff" stroke-width="0.3" textLength="69" lengthAdjust="spacingAndGlyphs">Air Bricks</text>

<!-- TITLE -->
<g fill="none" stroke="#6e6e6e" stroke-width="2" stroke-linecap="butt">
<path d="M155.7,714.3 C154.5,712.3 152.5,711.6 150.5,711.6 C147.5,711.6 145.5,713.5 145.5,716.2 C145.5,719.2 147.7,720.4 150.7,721.6 C154.2,722.9 156,724.7 156,727.8 C156,730.8 153.6,732.5 150.5,732.5 C147.6,732.5 145.6,731 144.9,728.8"/>
<path d="M171.3,711.8 H161.8 V732.3 H171.3 M161.8,721.8 H170.5"/>
<path d="M192.3,714.9 A10.7,10.7 0 1 0 192.3,729.1"/>
<path d="M192.5,711.8 H210.8 M201.65,711.8 V733.3"/>
<path d="M214.3,711.3 V733.3"/>
<circle cx="230.45" cy="722.05" r="10.3"/>
<path d="M247.7,733.3 V711.3 L263.2,733.3 V711.3" stroke-linejoin="bevel"/>
</g>
<polygon points="299.6,682.1 310.9,682.1 310.9,732.7 306.9,732.7 306.9,685.7 297.7,685.7" fill="#666"/>

<!-- SCALE BAR -->
<g fill="#6e6e6e">
<rect x="614.3" y="725" width="37.4" height="6.8"/>
<rect x="651.7" y="717.2" width="76.2" height="7.4"/>
<rect x="727.9" y="709" width="190.6" height="7.7"/>
</g>
<g font-family="Liberation Sans, sans-serif" font-size="10" fill="#555">
<text x="626" y="722">1M</text>
<text x="683.5" y="714">2M</text>
<text x="821.5" y="705.5">5M</text>
</g>

</svg>
</body></html>
